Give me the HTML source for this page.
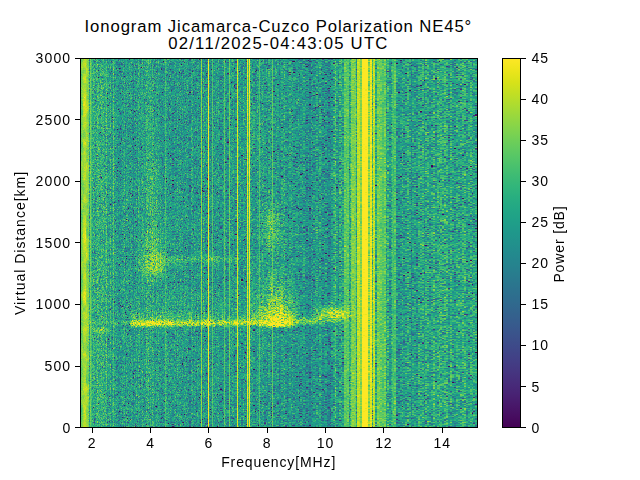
<!DOCTYPE html>
<html><head><meta charset="utf-8"><style>
html,body{margin:0;padding:0;background:#fff;width:640px;height:480px;overflow:hidden;}
body{position:relative;font-family:"Liberation Sans", sans-serif;color:#000;}
.abs{position:absolute;}
#plot{position:absolute;left:80px;top:58px;width:397px;height:369px;}
#plot svg,#plot canvas{position:absolute;left:0;top:0;image-rendering:pixelated;}
.spine{position:absolute;border:1.11px solid #000;box-sizing:border-box;}
.tk{position:absolute;background:#000;}
.yt{left:75.2px;width:4.86px;height:1.1px;}
.xt{top:427.5px;width:1.1px;height:5px;}
.ct{left:521px;width:4.7px;height:1.1px;}
.yl{position:absolute;right:568.7px;font-size:14px;line-height:17px;white-space:nowrap;letter-spacing:1.15px;}
.xl{position:absolute;top:435.1px;width:40px;text-align:center;font-size:14px;line-height:17px;letter-spacing:0.9px;}
.cl{position:absolute;left:531.5px;font-size:14px;line-height:17px;white-space:nowrap;letter-spacing:0.9px;}
.title{position:absolute;left:0;width:556.8px;text-align:center;font-size:16.7px;line-height:19px;white-space:nowrap;letter-spacing:0.9px;}
</style></head><body>
<div class="title" style="top:17.2px">Ionogram Jicamarca-Cuzco Polarization NE45°</div>
<div class="title" style="top:34.2px;letter-spacing:1.25px">02/11/2025-04:43:05 UTC</div>
<div id="plot"><svg width="397" height="369" shape-rendering="crispEdges"><rect x="0" y="0" width="1" height="369" fill="#32a57e"/><rect x="1" y="0" width="1" height="369" fill="#6dcd59"/><rect x="2" y="0" width="1" height="369" fill="#87d449"/><rect x="3" y="0" width="1" height="369" fill="#a3da37"/><rect x="4" y="0" width="1" height="369" fill="#b5dd2d"/><rect x="5" y="0" width="1" height="369" fill="#b6dd2d"/><rect x="6" y="0" width="1" height="369" fill="#9ad83d"/><rect x="7" y="0" width="1" height="369" fill="#87d449"/><rect x="8" y="0" width="1" height="369" fill="#7dd14e"/><rect x="9" y="0" width="1" height="369" fill="#32a47e"/><rect x="10" y="0" width="1" height="369" fill="#6fce58"/><rect x="11" y="0" width="1" height="369" fill="#41bc72"/><rect x="12" y="0" width="1" height="369" fill="#33a67e"/><rect x="13" y="0" width="1" height="369" fill="#3cae77"/><rect x="14" y="0" width="1" height="369" fill="#36a77c"/><rect x="15" y="0" width="1" height="369" fill="#2fa280"/><rect x="16" y="0" width="1" height="369" fill="#35a87c"/><rect x="17" y="0" width="1" height="369" fill="#46b670"/><rect x="18" y="0" width="1" height="369" fill="#3bae78"/><rect x="19" y="0" width="1" height="369" fill="#38aa7a"/><rect x="20" y="0" width="1" height="369" fill="#35a77c"/><rect x="21" y="0" width="1" height="369" fill="#3fb175"/><rect x="22" y="0" width="1" height="369" fill="#3aad79"/><rect x="23" y="0" width="1" height="369" fill="#3eb176"/><rect x="24" y="0" width="1" height="369" fill="#30a57f"/><rect x="25" y="0" width="1" height="369" fill="#34a97c"/><rect x="26" y="0" width="1" height="369" fill="#4cbb6d"/><rect x="27" y="0" width="1" height="369" fill="#2b9a84"/><rect x="28" y="0" width="1" height="369" fill="#2fa380"/><rect x="29" y="0" width="1" height="369" fill="#2a9b84"/><rect x="30" y="0" width="1" height="369" fill="#3eb076"/><rect x="31" y="0" width="1" height="369" fill="#299587"/><rect x="32" y="0" width="1" height="369" fill="#2d9d82"/><rect x="33" y="0" width="1" height="369" fill="#4dbf6b"/><rect x="34" y="0" width="1" height="369" fill="#2c9a83"/><rect x="35" y="0" width="1" height="369" fill="#2c9f82"/><rect x="36" y="0" width="1" height="369" fill="#2a9a85"/><rect x="37" y="0" width="1" height="369" fill="#2b9984"/><rect x="38" y="0" width="1" height="369" fill="#279088"/><rect x="39" y="0" width="1" height="369" fill="#289087"/><rect x="40" y="0" width="1" height="369" fill="#299386"/><rect x="41" y="0" width="1" height="369" fill="#2a9885"/><rect x="42" y="0" width="1" height="369" fill="#2c9c83"/><rect x="43" y="0" width="1" height="369" fill="#2d9e82"/><rect x="44" y="0" width="1" height="369" fill="#34a77d"/><rect x="45" y="0" width="1" height="369" fill="#289287"/><rect x="46" y="0" width="1" height="369" fill="#2fa180"/><rect x="47" y="0" width="1" height="369" fill="#2c9c83"/><rect x="48" y="0" width="1" height="369" fill="#2a9a84"/><rect x="49" y="0" width="1" height="369" fill="#2a9684"/><rect x="50" y="0" width="1" height="369" fill="#2e9d81"/><rect x="51" y="0" width="1" height="369" fill="#30a080"/><rect x="52" y="0" width="1" height="369" fill="#2d9983"/><rect x="53" y="0" width="1" height="369" fill="#2b8b87"/><rect x="54" y="0" width="1" height="369" fill="#309e81"/><rect x="55" y="0" width="1" height="369" fill="#2c9584"/><rect x="56" y="0" width="1" height="369" fill="#33a37e"/><rect x="57" y="0" width="1" height="369" fill="#2b9485"/><rect x="58" y="0" width="1" height="369" fill="#37ab7b"/><rect x="59" y="0" width="1" height="369" fill="#34a67d"/><rect x="60" y="0" width="1" height="369" fill="#2c9984"/><rect x="61" y="0" width="1" height="369" fill="#30a07f"/><rect x="62" y="0" width="1" height="369" fill="#38ac7a"/><rect x="63" y="0" width="1" height="369" fill="#31a080"/><rect x="64" y="0" width="1" height="369" fill="#30a180"/><rect x="65" y="0" width="1" height="369" fill="#30a080"/><rect x="66" y="0" width="1" height="369" fill="#43b173"/><rect x="67" y="0" width="1" height="369" fill="#43b173"/><rect x="68" y="0" width="1" height="369" fill="#3ead76"/><rect x="69" y="0" width="1" height="369" fill="#37a87b"/><rect x="70" y="0" width="1" height="369" fill="#45b372"/><rect x="71" y="0" width="1" height="369" fill="#37a47c"/><rect x="72" y="0" width="1" height="369" fill="#4bb56f"/><rect x="73" y="0" width="1" height="369" fill="#3cab78"/><rect x="74" y="0" width="1" height="369" fill="#39a37b"/><rect x="75" y="0" width="1" height="369" fill="#34a07e"/><rect x="76" y="0" width="1" height="369" fill="#41ae75"/><rect x="77" y="0" width="1" height="369" fill="#35a37c"/><rect x="78" y="0" width="1" height="369" fill="#38a97b"/><rect x="79" y="0" width="1" height="369" fill="#309f81"/><rect x="80" y="0" width="1" height="369" fill="#36a37d"/><rect x="81" y="0" width="1" height="369" fill="#309a81"/><rect x="82" y="0" width="1" height="369" fill="#2f9a82"/><rect x="83" y="0" width="1" height="369" fill="#2e9a82"/><rect x="84" y="0" width="1" height="369" fill="#319d80"/><rect x="85" y="0" width="1" height="369" fill="#44bd70"/><rect x="86" y="0" width="1" height="369" fill="#32a47e"/><rect x="87" y="0" width="1" height="369" fill="#2e9c82"/><rect x="88" y="0" width="1" height="369" fill="#2e9b82"/><rect x="89" y="0" width="1" height="369" fill="#2f9a82"/><rect x="90" y="0" width="1" height="369" fill="#2e9c82"/><rect x="91" y="0" width="1" height="369" fill="#2d9a83"/><rect x="92" y="0" width="1" height="369" fill="#2c9684"/><rect x="93" y="0" width="1" height="369" fill="#2b9585"/><rect x="94" y="0" width="1" height="369" fill="#2e9e82"/><rect x="95" y="0" width="1" height="369" fill="#2d9e82"/><rect x="96" y="0" width="1" height="369" fill="#2a9586"/><rect x="97" y="0" width="1" height="369" fill="#34a57d"/><rect x="98" y="0" width="1" height="369" fill="#2b9985"/><rect x="99" y="0" width="1" height="369" fill="#2f9e81"/><rect x="100" y="0" width="1" height="369" fill="#2e9f81"/><rect x="101" y="0" width="1" height="369" fill="#2c9883"/><rect x="102" y="0" width="1" height="369" fill="#2e9d81"/><rect x="103" y="0" width="1" height="369" fill="#299386"/><rect x="104" y="0" width="1" height="369" fill="#2d9d82"/><rect x="105" y="0" width="1" height="369" fill="#2e9e81"/><rect x="106" y="0" width="1" height="369" fill="#2c9a84"/><rect x="107" y="0" width="1" height="369" fill="#2ea081"/><rect x="108" y="0" width="1" height="369" fill="#2c9585"/><rect x="109" y="0" width="1" height="369" fill="#2b8c87"/><rect x="110" y="0" width="1" height="369" fill="#2a8b87"/><rect x="111" y="0" width="1" height="369" fill="#33a67e"/><rect x="112" y="0" width="1" height="369" fill="#33a37e"/><rect x="113" y="0" width="1" height="369" fill="#2a9386"/><rect x="114" y="0" width="1" height="369" fill="#2c9d83"/><rect x="115" y="0" width="1" height="369" fill="#2d9b83"/><rect x="116" y="0" width="1" height="369" fill="#298e87"/><rect x="117" y="0" width="1" height="369" fill="#2ea081"/><rect x="118" y="0" width="1" height="369" fill="#2d9983"/><rect x="119" y="0" width="1" height="369" fill="#2a9685"/><rect x="120" y="0" width="1" height="369" fill="#289885"/><rect x="121" y="0" width="1" height="369" fill="#8cd546"/><rect x="122" y="0" width="1" height="369" fill="#2a8c87"/><rect x="123" y="0" width="1" height="369" fill="#36a87b"/><rect x="124" y="0" width="1" height="369" fill="#2f9e81"/><rect x="125" y="0" width="1" height="369" fill="#2a9187"/><rect x="126" y="0" width="1" height="369" fill="#2f9981"/><rect x="127" y="0" width="1" height="369" fill="#2c9484"/><rect x="128" y="0" width="1" height="369" fill="#f5e621"/><rect x="129" y="0" width="1" height="369" fill="#2d9784"/><rect x="130" y="0" width="1" height="369" fill="#2d9684"/><rect x="131" y="0" width="1" height="369" fill="#2a9286"/><rect x="132" y="0" width="1" height="369" fill="#52c468"/><rect x="133" y="0" width="1" height="369" fill="#2e9783"/><rect x="134" y="0" width="1" height="369" fill="#2d9f82"/><rect x="135" y="0" width="1" height="369" fill="#299686"/><rect x="136" y="0" width="1" height="369" fill="#2c9f83"/><rect x="137" y="0" width="1" height="369" fill="#2b9983"/><rect x="138" y="0" width="1" height="369" fill="#31a47f"/><rect x="139" y="0" width="1" height="369" fill="#2b9386"/><rect x="140" y="0" width="1" height="369" fill="#299386"/><rect x="141" y="0" width="1" height="369" fill="#2a9386"/><rect x="142" y="0" width="1" height="369" fill="#2d9684"/><rect x="143" y="0" width="1" height="369" fill="#2c9d83"/><rect x="144" y="0" width="1" height="369" fill="#55c566"/><rect x="145" y="0" width="1" height="369" fill="#2d9d82"/><rect x="146" y="0" width="1" height="369" fill="#2a9286"/><rect x="147" y="0" width="1" height="369" fill="#299287"/><rect x="148" y="0" width="1" height="369" fill="#299286"/><rect x="149" y="0" width="1" height="369" fill="#6acc5b"/><rect x="150" y="0" width="1" height="369" fill="#2c9b82"/><rect x="151" y="0" width="1" height="369" fill="#2e9f81"/><rect x="152" y="0" width="1" height="369" fill="#309e80"/><rect x="153" y="0" width="1" height="369" fill="#2fa281"/><rect x="154" y="0" width="1" height="369" fill="#2a9186"/><rect x="155" y="0" width="1" height="369" fill="#2e9982"/><rect x="156" y="0" width="1" height="369" fill="#2e9983"/><rect x="157" y="0" width="1" height="369" fill="#dfe31d"/><rect x="158" y="0" width="1" height="369" fill="#31a57f"/><rect x="159" y="0" width="1" height="369" fill="#2a9c84"/><rect x="160" y="0" width="1" height="369" fill="#31a37f"/><rect x="161" y="0" width="1" height="369" fill="#2a9187"/><rect x="162" y="0" width="1" height="369" fill="#2a9187"/><rect x="163" y="0" width="1" height="369" fill="#32a57e"/><rect x="164" y="0" width="1" height="369" fill="#2c9c83"/><rect x="165" y="0" width="1" height="369" fill="#2d9b83"/><rect x="166" y="0" width="1" height="369" fill="#299087"/><rect x="167" y="0" width="1" height="369" fill="#e1e31d"/><rect x="168" y="0" width="1" height="369" fill="#40bb73"/><rect x="169" y="0" width="1" height="369" fill="#f6e621"/><rect x="170" y="0" width="1" height="369" fill="#35a67c"/><rect x="171" y="0" width="1" height="369" fill="#31a080"/><rect x="172" y="0" width="1" height="369" fill="#30a080"/><rect x="173" y="0" width="1" height="369" fill="#2e9b82"/><rect x="174" y="0" width="1" height="369" fill="#2f9c81"/><rect x="175" y="0" width="1" height="369" fill="#2a9386"/><rect x="176" y="0" width="1" height="369" fill="#2c9783"/><rect x="177" y="0" width="1" height="369" fill="#32a57e"/><rect x="178" y="0" width="1" height="369" fill="#2fa280"/><rect x="179" y="0" width="1" height="369" fill="#52c368"/><rect x="180" y="0" width="1" height="369" fill="#339f7f"/><rect x="181" y="0" width="1" height="369" fill="#319e80"/><rect x="182" y="0" width="1" height="369" fill="#39a97a"/><rect x="183" y="0" width="1" height="369" fill="#35a57d"/><rect x="184" y="0" width="1" height="369" fill="#2f9b82"/><rect x="185" y="0" width="1" height="369" fill="#319c81"/><rect x="186" y="0" width="1" height="369" fill="#36a27d"/><rect x="187" y="0" width="1" height="369" fill="#349b7f"/><rect x="188" y="0" width="1" height="369" fill="#3da978"/><rect x="189" y="0" width="1" height="369" fill="#43ab75"/><rect x="190" y="0" width="1" height="369" fill="#3ba67a"/><rect x="191" y="0" width="1" height="369" fill="#3fa278"/><rect x="192" y="0" width="1" height="369" fill="#69cb5c"/><rect x="193" y="0" width="1" height="369" fill="#38a07d"/><rect x="194" y="0" width="1" height="369" fill="#38a07c"/><rect x="195" y="0" width="1" height="369" fill="#39a37b"/><rect x="196" y="0" width="1" height="369" fill="#3aa47b"/><rect x="197" y="0" width="1" height="369" fill="#3ca57a"/><rect x="198" y="0" width="1" height="369" fill="#39a47b"/><rect x="199" y="0" width="1" height="369" fill="#349681"/><rect x="200" y="0" width="1" height="369" fill="#379d7e"/><rect x="201" y="0" width="1" height="369" fill="#3ba67a"/><rect x="202" y="0" width="1" height="369" fill="#3aa67a"/><rect x="203" y="0" width="1" height="369" fill="#35a27e"/><rect x="204" y="0" width="1" height="369" fill="#3aa87a"/><rect x="205" y="0" width="1" height="369" fill="#329c80"/><rect x="206" y="0" width="1" height="369" fill="#309982"/><rect x="207" y="0" width="1" height="369" fill="#2f9682"/><rect x="208" y="0" width="1" height="369" fill="#309882"/><rect x="209" y="0" width="1" height="369" fill="#35a57d"/><rect x="210" y="0" width="1" height="369" fill="#33a47e"/><rect x="211" y="0" width="1" height="369" fill="#2f9f80"/><rect x="212" y="0" width="1" height="369" fill="#32a07f"/><rect x="213" y="0" width="1" height="369" fill="#2c9684"/><rect x="214" y="0" width="1" height="369" fill="#2b9584"/><rect x="215" y="0" width="1" height="369" fill="#2b9685"/><rect x="216" y="0" width="1" height="369" fill="#2a9885"/><rect x="217" y="0" width="1" height="369" fill="#2a9785"/><rect x="218" y="0" width="1" height="369" fill="#2c9b83"/><rect x="219" y="0" width="1" height="369" fill="#298e87"/><rect x="220" y="0" width="1" height="369" fill="#299486"/><rect x="221" y="0" width="1" height="369" fill="#299486"/><rect x="222" y="0" width="1" height="369" fill="#299786"/><rect x="223" y="0" width="1" height="369" fill="#2a9c84"/><rect x="224" y="0" width="1" height="369" fill="#2a9c84"/><rect x="225" y="0" width="1" height="369" fill="#288f88"/><rect x="226" y="0" width="1" height="369" fill="#288b88"/><rect x="227" y="0" width="1" height="369" fill="#288b88"/><rect x="228" y="0" width="1" height="369" fill="#289287"/><rect x="229" y="0" width="1" height="369" fill="#29838a"/><rect x="230" y="0" width="1" height="369" fill="#29838a"/><rect x="231" y="0" width="1" height="369" fill="#2a9885"/><rect x="232" y="0" width="1" height="369" fill="#2a9286"/><rect x="233" y="0" width="1" height="369" fill="#2a9486"/><rect x="234" y="0" width="1" height="369" fill="#2a9486"/><rect x="235" y="0" width="1" height="369" fill="#2a9985"/><rect x="236" y="0" width="1" height="369" fill="#2e9f81"/><rect x="237" y="0" width="1" height="369" fill="#2e9f81"/><rect x="238" y="0" width="1" height="369" fill="#299187"/><rect x="239" y="0" width="1" height="369" fill="#30a380"/><rect x="240" y="0" width="1" height="369" fill="#30a380"/><rect x="241" y="0" width="1" height="369" fill="#2d9883"/><rect x="242" y="0" width="1" height="369" fill="#2b8d86"/><rect x="243" y="0" width="1" height="369" fill="#2b8d86"/><rect x="244" y="0" width="1" height="369" fill="#2c9684"/><rect x="245" y="0" width="1" height="369" fill="#2a9585"/><rect x="246" y="0" width="1" height="369" fill="#2a9585"/><rect x="247" y="0" width="1" height="369" fill="#2b8d86"/><rect x="248" y="0" width="1" height="369" fill="#2c8688"/><rect x="249" y="0" width="1" height="369" fill="#2c8688"/><rect x="250" y="0" width="1" height="369" fill="#2c8a87"/><rect x="251" y="0" width="1" height="369" fill="#2d9b82"/><rect x="252" y="0" width="1" height="369" fill="#2e9b82"/><rect x="253" y="0" width="1" height="369" fill="#31a080"/><rect x="254" y="0" width="1" height="369" fill="#36a67c"/><rect x="255" y="0" width="1" height="369" fill="#49b76f"/><rect x="256" y="0" width="1" height="369" fill="#2e9e81"/><rect x="257" y="0" width="1" height="369" fill="#2e9f81"/><rect x="258" y="0" width="1" height="369" fill="#2b9385"/><rect x="259" y="0" width="1" height="369" fill="#3aa879"/><rect x="260" y="0" width="1" height="369" fill="#3aa879"/><rect x="261" y="0" width="1" height="369" fill="#38a97a"/><rect x="262" y="0" width="1" height="369" fill="#30a180"/><rect x="263" y="0" width="1" height="369" fill="#30a180"/><rect x="264" y="0" width="1" height="369" fill="#62c95f"/><rect x="265" y="0" width="1" height="369" fill="#62c95f"/><rect x="266" y="0" width="1" height="369" fill="#56c566"/><rect x="267" y="0" width="1" height="369" fill="#60c860"/><rect x="268" y="0" width="1" height="369" fill="#5fc861"/><rect x="269" y="0" width="1" height="369" fill="#30a47f"/><rect x="270" y="0" width="1" height="369" fill="#3aae79"/><rect x="271" y="0" width="1" height="369" fill="#79d051"/><rect x="272" y="0" width="1" height="369" fill="#80d24d"/><rect x="273" y="0" width="1" height="369" fill="#80d24d"/><rect x="274" y="0" width="1" height="369" fill="#79d051"/><rect x="275" y="0" width="1" height="369" fill="#73cf55"/><rect x="276" y="0" width="1" height="369" fill="#30a67f"/><rect x="277" y="0" width="1" height="369" fill="#bfdf27"/><rect x="278" y="0" width="1" height="369" fill="#bfdf27"/><rect x="279" y="0" width="1" height="369" fill="#c0df26"/><rect x="280" y="0" width="1" height="369" fill="#82d34c"/><rect x="281" y="0" width="1" height="369" fill="#82d34c"/><rect x="282" y="0" width="1" height="369" fill="#fce724"/><rect x="283" y="0" width="1" height="369" fill="#fce724"/><rect x="284" y="0" width="1" height="369" fill="#fce724"/><rect x="285" y="0" width="1" height="369" fill="#fce724"/><rect x="286" y="0" width="1" height="369" fill="#fce724"/><rect x="287" y="0" width="1" height="369" fill="#fce724"/><rect x="288" y="0" width="1" height="369" fill="#8cd446"/><rect x="289" y="0" width="1" height="369" fill="#8cd446"/><rect x="290" y="0" width="1" height="369" fill="#e7e41d"/><rect x="291" y="0" width="1" height="369" fill="#e7e41d"/><rect x="292" y="0" width="1" height="369" fill="#49b56f"/><rect x="293" y="0" width="1" height="369" fill="#c4df26"/><rect x="294" y="0" width="1" height="369" fill="#bfdf29"/><rect x="295" y="0" width="1" height="369" fill="#31a57e"/><rect x="296" y="0" width="1" height="369" fill="#31a57e"/><rect x="297" y="0" width="1" height="369" fill="#74cf54"/><rect x="298" y="0" width="1" height="369" fill="#74cf54"/><rect x="299" y="0" width="1" height="369" fill="#72ce55"/><rect x="300" y="0" width="1" height="369" fill="#67cb5c"/><rect x="301" y="0" width="1" height="369" fill="#67cb5c"/><rect x="302" y="0" width="1" height="369" fill="#54c467"/><rect x="303" y="0" width="1" height="369" fill="#54c467"/><rect x="304" y="0" width="1" height="369" fill="#69cb5b"/><rect x="305" y="0" width="1" height="369" fill="#68cb5b"/><rect x="306" y="0" width="1" height="369" fill="#2ea281"/><rect x="307" y="0" width="1" height="369" fill="#3caf77"/><rect x="308" y="0" width="1" height="369" fill="#3bae78"/><rect x="309" y="0" width="1" height="369" fill="#299686"/><rect x="310" y="0" width="1" height="369" fill="#289586"/><rect x="311" y="0" width="1" height="369" fill="#31a47f"/><rect x="312" y="0" width="1" height="369" fill="#44be70"/><rect x="313" y="0" width="1" height="369" fill="#40bc72"/><rect x="314" y="0" width="1" height="369" fill="#53c368"/><rect x="315" y="0" width="1" height="369" fill="#52c368"/><rect x="316" y="0" width="1" height="369" fill="#299486"/><rect x="317" y="0" width="1" height="369" fill="#299386"/><rect x="318" y="0" width="1" height="369" fill="#279188"/><rect x="319" y="0" width="1" height="369" fill="#279188"/><rect x="320" y="0" width="1" height="369" fill="#289885"/><rect x="321" y="0" width="1" height="369" fill="#289885"/><rect x="322" y="0" width="1" height="369" fill="#30a280"/><rect x="323" y="0" width="1" height="369" fill="#299885"/><rect x="324" y="0" width="1" height="369" fill="#299785"/><rect x="325" y="0" width="1" height="369" fill="#2c9d83"/><rect x="326" y="0" width="1" height="369" fill="#2c9c83"/><rect x="327" y="0" width="1" height="369" fill="#35a87c"/><rect x="328" y="0" width="1" height="369" fill="#35a77c"/><rect x="329" y="0" width="1" height="369" fill="#2ea081"/><rect x="330" y="0" width="1" height="369" fill="#2e9f81"/><rect x="331" y="0" width="1" height="369" fill="#278a89"/><rect x="332" y="0" width="1" height="369" fill="#2ca082"/><rect x="333" y="0" width="1" height="369" fill="#2ca083"/><rect x="334" y="0" width="1" height="369" fill="#2a9b84"/><rect x="335" y="0" width="1" height="369" fill="#2a9b84"/><rect x="336" y="0" width="1" height="369" fill="#299186"/><rect x="337" y="0" width="1" height="369" fill="#299186"/><rect x="338" y="0" width="1" height="369" fill="#33a87d"/><rect x="339" y="0" width="1" height="369" fill="#33a87d"/><rect x="340" y="0" width="1" height="369" fill="#31a27f"/><rect x="341" y="0" width="1" height="369" fill="#31a37e"/><rect x="342" y="0" width="1" height="369" fill="#34a97c"/><rect x="343" y="0" width="1" height="369" fill="#34a97c"/><rect x="344" y="0" width="1" height="369" fill="#289686"/><rect x="345" y="0" width="1" height="369" fill="#35a77c"/><rect x="346" y="0" width="1" height="369" fill="#36a87c"/><rect x="347" y="0" width="1" height="369" fill="#33a57e"/><rect x="348" y="0" width="1" height="369" fill="#33a67e"/><rect x="349" y="0" width="1" height="369" fill="#299985"/><rect x="350" y="0" width="1" height="369" fill="#299a85"/><rect x="351" y="0" width="1" height="369" fill="#2ea081"/><rect x="352" y="0" width="1" height="369" fill="#2ea081"/><rect x="353" y="0" width="1" height="369" fill="#3dae77"/><rect x="354" y="0" width="1" height="369" fill="#3eaf76"/><rect x="355" y="0" width="1" height="369" fill="#2a9b84"/><rect x="356" y="0" width="1" height="369" fill="#2a9c84"/><rect x="357" y="0" width="1" height="369" fill="#35aa7c"/><rect x="358" y="0" width="1" height="369" fill="#35aa7c"/><rect x="359" y="0" width="1" height="369" fill="#38ab7a"/><rect x="360" y="0" width="1" height="369" fill="#37ad7a"/><rect x="361" y="0" width="1" height="369" fill="#38ad7a"/><rect x="362" y="0" width="1" height="369" fill="#32a57e"/><rect x="363" y="0" width="1" height="369" fill="#32a67e"/><rect x="364" y="0" width="1" height="369" fill="#3bae78"/><rect x="365" y="0" width="1" height="369" fill="#3bad78"/><rect x="366" y="0" width="1" height="369" fill="#39ab7a"/><rect x="367" y="0" width="1" height="369" fill="#38ab7a"/><rect x="368" y="0" width="1" height="369" fill="#299686"/><rect x="369" y="0" width="1" height="369" fill="#299686"/><rect x="370" y="0" width="1" height="369" fill="#3aad79"/><rect x="371" y="0" width="1" height="369" fill="#39ad79"/><rect x="372" y="0" width="1" height="369" fill="#2c9b83"/><rect x="373" y="0" width="1" height="369" fill="#2b9b84"/><rect x="374" y="0" width="1" height="369" fill="#299785"/><rect x="375" y="0" width="1" height="369" fill="#299786"/><rect x="376" y="0" width="1" height="369" fill="#32a67e"/><rect x="377" y="0" width="1" height="369" fill="#32a67e"/><rect x="378" y="0" width="1" height="369" fill="#31a37f"/><rect x="379" y="0" width="1" height="369" fill="#30a37f"/><rect x="380" y="0" width="1" height="369" fill="#2fa081"/><rect x="381" y="0" width="1" height="369" fill="#2fa081"/><rect x="382" y="0" width="1" height="369" fill="#39ad79"/><rect x="383" y="0" width="1" height="369" fill="#39ad79"/><rect x="384" y="0" width="1" height="369" fill="#38ab7a"/><rect x="385" y="0" width="1" height="369" fill="#38aa7a"/><rect x="386" y="0" width="1" height="369" fill="#2b9c84"/><rect x="387" y="0" width="1" height="369" fill="#2b9c84"/><rect x="388" y="0" width="1" height="369" fill="#2ea081"/><rect x="389" y="0" width="1" height="369" fill="#2ea081"/><rect x="390" y="0" width="1" height="369" fill="#37a97b"/><rect x="391" y="0" width="1" height="369" fill="#37a97b"/><rect x="392" y="0" width="1" height="369" fill="#30a080"/><rect x="393" y="0" width="1" height="369" fill="#2fa380"/><rect x="394" y="0" width="1" height="369" fill="#2fa380"/><rect x="395" y="0" width="1" height="369" fill="#2d9f81"/><rect x="396" y="0" width="1" height="369" fill="#2d9f81"/><rect x="72" y="0" width="4" height="4" fill="#2c9785"/><rect x="184" y="0" width="4" height="4" fill="#26858c"/><rect x="228" y="0" width="4" height="4" fill="#316d83"/><rect x="352" y="0" width="4" height="4" fill="#288f88"/><rect x="360" y="0" width="4" height="4" fill="#4cba6e"/><rect x="72" y="4" width="4" height="4" fill="#2b9685"/><rect x="188" y="4" width="4" height="4" fill="#2e9583"/><rect x="192" y="4" width="4" height="4" fill="#2f9d82"/><rect x="380" y="4" width="4" height="4" fill="#48b770"/><rect x="80" y="8" width="4" height="4" fill="#2b8386"/><rect x="300" y="8" width="4" height="4" fill="#73cf55"/><rect x="376" y="8" width="4" height="4" fill="#459475"/><rect x="396" y="8" width="4" height="4" fill="#288288"/><rect x="68" y="12" width="4" height="4" fill="#289f84"/><rect x="100" y="12" width="4" height="4" fill="#327a87"/><rect x="200" y="16" width="4" height="4" fill="#239988"/><rect x="312" y="16" width="4" height="4" fill="#5fc861"/><rect x="340" y="16" width="4" height="4" fill="#43bc72"/><rect x="396" y="16" width="4" height="4" fill="#3bb976"/><rect x="196" y="20" width="4" height="4" fill="#259488"/><rect x="196" y="24" width="4" height="4" fill="#2a8c7f"/><rect x="288" y="24" width="4" height="4" fill="#9ed541"/><rect x="340" y="24" width="4" height="4" fill="#2f897e"/><rect x="376" y="24" width="4" height="4" fill="#2c8c84"/><rect x="380" y="28" width="4" height="4" fill="#348781"/><rect x="184" y="32" width="4" height="4" fill="#2c8689"/><rect x="76" y="36" width="4" height="4" fill="#278e87"/><rect x="64" y="40" width="4" height="4" fill="#2c9085"/><rect x="4" y="44" width="4" height="4" fill="#c7e025"/><rect x="68" y="44" width="4" height="4" fill="#2c9783"/><rect x="72" y="44" width="4" height="4" fill="#2c9a84"/><rect x="180" y="44" width="4" height="4" fill="#2d8984"/><rect x="188" y="44" width="4" height="4" fill="#269886"/><rect x="240" y="44" width="4" height="4" fill="#2b7a89"/><rect x="364" y="44" width="4" height="4" fill="#289f85"/><rect x="4" y="48" width="4" height="4" fill="#c6e023"/><rect x="76" y="48" width="4" height="4" fill="#2c9184"/><rect x="4" y="52" width="4" height="4" fill="#c1df25"/><rect x="64" y="52" width="4" height="4" fill="#2d9285"/><rect x="188" y="52" width="4" height="4" fill="#2c9884"/><rect x="340" y="52" width="4" height="4" fill="#31887b"/><rect x="396" y="52" width="4" height="4" fill="#248a8c"/><rect x="76" y="56" width="4" height="4" fill="#289383"/><rect x="232" y="56" width="4" height="4" fill="#2c7a85"/><rect x="296" y="56" width="4" height="4" fill="#4ebc6c"/><rect x="392" y="56" width="4" height="4" fill="#36807d"/><rect x="396" y="56" width="4" height="4" fill="#47656b"/><rect x="388" y="60" width="4" height="4" fill="#42b972"/><rect x="188" y="64" width="4" height="4" fill="#2d9086"/><rect x="196" y="64" width="4" height="4" fill="#22948a"/><rect x="188" y="68" width="4" height="4" fill="#2f8f81"/><rect x="200" y="68" width="4" height="4" fill="#2e897e"/><rect x="364" y="68" width="4" height="4" fill="#50c06a"/><rect x="192" y="72" width="4" height="4" fill="#319b82"/><rect x="76" y="76" width="4" height="4" fill="#289687"/><rect x="368" y="76" width="4" height="4" fill="#3c897a"/><rect x="396" y="76" width="4" height="4" fill="#27828c"/><rect x="188" y="84" width="4" height="4" fill="#2d8e85"/><rect x="196" y="84" width="4" height="4" fill="#259788"/><rect x="376" y="84" width="4" height="4" fill="#248e8a"/><rect x="380" y="84" width="4" height="4" fill="#46b971"/><rect x="0" y="88" width="4" height="4" fill="#61ba62"/><rect x="60" y="88" width="4" height="4" fill="#318780"/><rect x="196" y="88" width="4" height="4" fill="#2d7f89"/><rect x="332" y="88" width="4" height="4" fill="#2f8287"/><rect x="396" y="88" width="4" height="4" fill="#41797e"/><rect x="188" y="92" width="4" height="4" fill="#2a8c86"/><rect x="192" y="92" width="4" height="4" fill="#369478"/><rect x="200" y="92" width="4" height="4" fill="#2e8c85"/><rect x="188" y="96" width="4" height="4" fill="#2a9d82"/><rect x="380" y="96" width="4" height="4" fill="#268486"/><rect x="92" y="100" width="4" height="4" fill="#307e86"/><rect x="192" y="100" width="4" height="4" fill="#33917e"/><rect x="260" y="100" width="4" height="4" fill="#47ba70"/><rect x="264" y="100" width="4" height="4" fill="#46be6f"/><rect x="188" y="104" width="4" height="4" fill="#299287"/><rect x="256" y="104" width="4" height="4" fill="#28878a"/><rect x="364" y="104" width="4" height="4" fill="#2c9a84"/><rect x="200" y="108" width="4" height="4" fill="#2b828a"/><rect x="352" y="108" width="4" height="4" fill="#338a7f"/><rect x="384" y="108" width="4" height="4" fill="#2c8286"/><rect x="152" y="112" width="4" height="4" fill="#34b27a"/><rect x="304" y="112" width="4" height="4" fill="#66bc5e"/><rect x="344" y="112" width="4" height="4" fill="#45b272"/><rect x="188" y="116" width="4" height="4" fill="#26a584"/><rect x="200" y="116" width="4" height="4" fill="#2e7683"/><rect x="300" y="116" width="4" height="4" fill="#73ce54"/><rect x="304" y="116" width="4" height="4" fill="#64c55d"/><rect x="336" y="116" width="4" height="4" fill="#2f8387"/><rect x="84" y="120" width="4" height="4" fill="#3b8e76"/><rect x="184" y="120" width="4" height="4" fill="#288787"/><rect x="188" y="120" width="4" height="4" fill="#28a383"/><rect x="208" y="120" width="4" height="4" fill="#2b8884"/><rect x="188" y="124" width="4" height="4" fill="#269f85"/><rect x="364" y="124" width="4" height="4" fill="#25928a"/><rect x="376" y="124" width="4" height="4" fill="#328984"/><rect x="0" y="128" width="4" height="4" fill="#5abf65"/><rect x="92" y="128" width="4" height="4" fill="#2b7d88"/><rect x="188" y="128" width="4" height="4" fill="#2b9583"/><rect x="192" y="128" width="4" height="4" fill="#2ea580"/><rect x="196" y="128" width="4" height="4" fill="#289089"/><rect x="256" y="128" width="4" height="4" fill="#32817e"/><rect x="120" y="132" width="4" height="4" fill="#468a72"/><rect x="196" y="132" width="4" height="4" fill="#308784"/><rect x="196" y="136" width="4" height="4" fill="#24918a"/><rect x="376" y="140" width="4" height="4" fill="#3fb874"/><rect x="380" y="140" width="4" height="4" fill="#2e8b7f"/><rect x="384" y="144" width="4" height="4" fill="#288189"/><rect x="4" y="148" width="4" height="4" fill="#85d44a"/><rect x="216" y="148" width="4" height="4" fill="#2c7683"/><rect x="220" y="148" width="4" height="4" fill="#297c82"/><rect x="228" y="148" width="4" height="4" fill="#32737f"/><rect x="4" y="152" width="4" height="4" fill="#8ed645"/><rect x="188" y="152" width="4" height="4" fill="#52b76a"/><rect x="304" y="152" width="4" height="4" fill="#39b378"/><rect x="396" y="152" width="4" height="4" fill="#40bc72"/><rect x="64" y="156" width="4" height="4" fill="#239788"/><rect x="188" y="156" width="4" height="4" fill="#58c265"/><rect x="192" y="156" width="4" height="4" fill="#5bc165"/><rect x="196" y="156" width="4" height="4" fill="#4cb26f"/><rect x="208" y="156" width="4" height="4" fill="#297f85"/><rect x="188" y="160" width="4" height="4" fill="#67c85b"/><rect x="192" y="160" width="4" height="4" fill="#59b767"/><rect x="196" y="160" width="4" height="4" fill="#47bb6f"/><rect x="360" y="160" width="4" height="4" fill="#4ec16a"/><rect x="364" y="160" width="4" height="4" fill="#4fb56c"/><rect x="392" y="160" width="4" height="4" fill="#2e8484"/><rect x="184" y="164" width="4" height="4" fill="#47ba6f"/><rect x="188" y="164" width="4" height="4" fill="#58be65"/><rect x="244" y="164" width="4" height="4" fill="#2a7a84"/><rect x="360" y="164" width="4" height="4" fill="#318f84"/><rect x="388" y="164" width="4" height="4" fill="#268383"/><rect x="188" y="168" width="4" height="4" fill="#5fc460"/><rect x="192" y="168" width="4" height="4" fill="#54bc68"/><rect x="224" y="168" width="4" height="4" fill="#327088"/><rect x="396" y="168" width="4" height="4" fill="#2e7f80"/><rect x="64" y="172" width="4" height="4" fill="#53af6a"/><rect x="72" y="172" width="4" height="4" fill="#4abc6c"/><rect x="188" y="172" width="4" height="4" fill="#4bbb6c"/><rect x="192" y="172" width="4" height="4" fill="#59b767"/><rect x="196" y="172" width="4" height="4" fill="#4ebd6c"/><rect x="236" y="172" width="4" height="4" fill="#3dac77"/><rect x="364" y="172" width="4" height="4" fill="#249b87"/><rect x="72" y="176" width="4" height="4" fill="#4ebd6b"/><rect x="184" y="176" width="4" height="4" fill="#45bd70"/><rect x="188" y="176" width="4" height="4" fill="#60c161"/><rect x="192" y="176" width="4" height="4" fill="#60c960"/><rect x="320" y="176" width="4" height="4" fill="#327484"/><rect x="348" y="176" width="4" height="4" fill="#3bb277"/><rect x="4" y="180" width="4" height="4" fill="#c3df29"/><rect x="64" y="180" width="4" height="4" fill="#50b86b"/><rect x="72" y="180" width="4" height="4" fill="#53b46b"/><rect x="76" y="180" width="4" height="4" fill="#57ba67"/><rect x="188" y="180" width="4" height="4" fill="#5bc064"/><rect x="196" y="180" width="4" height="4" fill="#46b472"/><rect x="64" y="184" width="4" height="4" fill="#4fc069"/><rect x="72" y="184" width="4" height="4" fill="#57c366"/><rect x="340" y="184" width="4" height="4" fill="#54c067"/><rect x="64" y="188" width="4" height="4" fill="#51b96a"/><rect x="68" y="188" width="4" height="4" fill="#56bb67"/><rect x="72" y="188" width="4" height="4" fill="#5fc061"/><rect x="180" y="188" width="4" height="4" fill="#278f89"/><rect x="4" y="192" width="4" height="4" fill="#b9de2b"/><rect x="12" y="192" width="4" height="4" fill="#308985"/><rect x="72" y="192" width="4" height="4" fill="#6dca58"/><rect x="76" y="192" width="4" height="4" fill="#51b96a"/><rect x="80" y="192" width="4" height="4" fill="#4db66e"/><rect x="64" y="196" width="4" height="4" fill="#63c55e"/><rect x="68" y="196" width="4" height="4" fill="#70c857"/><rect x="72" y="196" width="4" height="4" fill="#78c654"/><rect x="76" y="196" width="4" height="4" fill="#77cd52"/><rect x="80" y="196" width="4" height="4" fill="#5fc061"/><rect x="64" y="200" width="4" height="4" fill="#5ebe63"/><rect x="68" y="200" width="4" height="4" fill="#67b85e"/><rect x="72" y="200" width="4" height="4" fill="#84cb4b"/><rect x="76" y="200" width="4" height="4" fill="#7dce4e"/><rect x="80" y="200" width="4" height="4" fill="#71ca56"/><rect x="84" y="200" width="4" height="4" fill="#55bb68"/><rect x="88" y="200" width="4" height="4" fill="#48b86f"/><rect x="92" y="200" width="4" height="4" fill="#37b179"/><rect x="96" y="200" width="4" height="4" fill="#4eb66b"/><rect x="100" y="200" width="4" height="4" fill="#3cac78"/><rect x="108" y="200" width="4" height="4" fill="#35af7b"/><rect x="112" y="200" width="4" height="4" fill="#47bb6f"/><rect x="124" y="200" width="4" height="4" fill="#42af75"/><rect x="128" y="200" width="4" height="4" fill="#7dc855"/><rect x="132" y="200" width="4" height="4" fill="#54b869"/><rect x="136" y="200" width="4" height="4" fill="#42b274"/><rect x="144" y="200" width="4" height="4" fill="#44b672"/><rect x="148" y="200" width="4" height="4" fill="#51be69"/><rect x="200" y="200" width="4" height="4" fill="#239a88"/><rect x="240" y="200" width="4" height="4" fill="#316e85"/><rect x="4" y="204" width="4" height="4" fill="#8dd544"/><rect x="60" y="204" width="4" height="4" fill="#43b473"/><rect x="64" y="204" width="4" height="4" fill="#66c65d"/><rect x="68" y="204" width="4" height="4" fill="#74ca54"/><rect x="72" y="204" width="4" height="4" fill="#7bc651"/><rect x="76" y="204" width="4" height="4" fill="#88cf4a"/><rect x="80" y="204" width="4" height="4" fill="#73c756"/><rect x="84" y="204" width="4" height="4" fill="#4ec06a"/><rect x="92" y="204" width="4" height="4" fill="#34b07b"/><rect x="188" y="204" width="4" height="4" fill="#28a184"/><rect x="4" y="208" width="4" height="4" fill="#86d349"/><rect x="60" y="208" width="4" height="4" fill="#4bb56f"/><rect x="64" y="208" width="4" height="4" fill="#61c260"/><rect x="68" y="208" width="4" height="4" fill="#88d148"/><rect x="72" y="208" width="4" height="4" fill="#70c857"/><rect x="76" y="208" width="4" height="4" fill="#86cf4a"/><rect x="80" y="208" width="4" height="4" fill="#6cc958"/><rect x="64" y="212" width="4" height="4" fill="#54c267"/><rect x="68" y="212" width="4" height="4" fill="#58bc66"/><rect x="72" y="212" width="4" height="4" fill="#85cf4b"/><rect x="76" y="212" width="4" height="4" fill="#5bc362"/><rect x="80" y="212" width="4" height="4" fill="#54b669"/><rect x="300" y="212" width="4" height="4" fill="#73cf55"/><rect x="80" y="216" width="4" height="4" fill="#3eb775"/><rect x="332" y="216" width="4" height="4" fill="#2d778a"/><rect x="160" y="220" width="4" height="4" fill="#3a7f73"/><rect x="192" y="220" width="4" height="4" fill="#51c168"/><rect x="384" y="220" width="4" height="4" fill="#48a772"/><rect x="188" y="224" width="4" height="4" fill="#50bd69"/><rect x="72" y="228" width="4" height="4" fill="#2d9585"/><rect x="188" y="228" width="4" height="4" fill="#60c160"/><rect x="192" y="228" width="4" height="4" fill="#59b866"/><rect x="200" y="228" width="4" height="4" fill="#52c168"/><rect x="352" y="228" width="4" height="4" fill="#48b76f"/><rect x="396" y="228" width="4" height="4" fill="#3cb776"/><rect x="196" y="232" width="4" height="4" fill="#52bf69"/><rect x="200" y="232" width="4" height="4" fill="#6ac85b"/><rect x="220" y="232" width="4" height="4" fill="#2c7c8b"/><rect x="0" y="236" width="4" height="4" fill="#8fcb45"/><rect x="176" y="236" width="4" height="4" fill="#51bf69"/><rect x="180" y="236" width="4" height="4" fill="#49ab71"/><rect x="184" y="236" width="4" height="4" fill="#41b873"/><rect x="188" y="236" width="4" height="4" fill="#66c75f"/><rect x="192" y="236" width="4" height="4" fill="#63c260"/><rect x="196" y="236" width="4" height="4" fill="#62bf60"/><rect x="200" y="236" width="4" height="4" fill="#6bc15b"/><rect x="208" y="236" width="4" height="4" fill="#46bc6f"/><rect x="180" y="240" width="4" height="4" fill="#47bb6f"/><rect x="184" y="240" width="4" height="4" fill="#3eb275"/><rect x="188" y="240" width="4" height="4" fill="#7dcd4f"/><rect x="192" y="240" width="4" height="4" fill="#8bd246"/><rect x="196" y="240" width="4" height="4" fill="#84d14a"/><rect x="200" y="240" width="4" height="4" fill="#6ac65a"/><rect x="204" y="240" width="4" height="4" fill="#4aaf70"/><rect x="208" y="240" width="4" height="4" fill="#4cbf6b"/><rect x="140" y="244" width="4" height="4" fill="#34b17b"/><rect x="172" y="244" width="4" height="4" fill="#3cb176"/><rect x="188" y="244" width="4" height="4" fill="#7cc752"/><rect x="192" y="244" width="4" height="4" fill="#74c056"/><rect x="196" y="244" width="4" height="4" fill="#86d349"/><rect x="200" y="244" width="4" height="4" fill="#7fc94f"/><rect x="204" y="244" width="4" height="4" fill="#43b572"/><rect x="208" y="244" width="4" height="4" fill="#58c364"/><rect x="212" y="244" width="4" height="4" fill="#40a676"/><rect x="216" y="244" width="4" height="4" fill="#39ae79"/><rect x="248" y="244" width="4" height="4" fill="#419e78"/><rect x="376" y="244" width="4" height="4" fill="#49bf6d"/><rect x="380" y="244" width="4" height="4" fill="#49ba6f"/><rect x="176" y="248" width="4" height="4" fill="#4fbd6a"/><rect x="180" y="248" width="4" height="4" fill="#6ecb57"/><rect x="184" y="248" width="4" height="4" fill="#74c755"/><rect x="188" y="248" width="4" height="4" fill="#91d343"/><rect x="192" y="248" width="4" height="4" fill="#8acf4a"/><rect x="196" y="248" width="4" height="4" fill="#95d344"/><rect x="200" y="248" width="4" height="4" fill="#c4df2c"/><rect x="204" y="248" width="4" height="4" fill="#76ca53"/><rect x="212" y="248" width="4" height="4" fill="#45b272"/><rect x="240" y="248" width="4" height="4" fill="#3eb675"/><rect x="244" y="248" width="4" height="4" fill="#4dbe6b"/><rect x="248" y="248" width="4" height="4" fill="#5dc262"/><rect x="252" y="248" width="4" height="4" fill="#60c460"/><rect x="256" y="248" width="4" height="4" fill="#4aba6d"/><rect x="260" y="248" width="4" height="4" fill="#53c168"/><rect x="264" y="248" width="4" height="4" fill="#79d051"/><rect x="332" y="248" width="4" height="4" fill="#37b179"/><rect x="340" y="248" width="4" height="4" fill="#47be6e"/><rect x="80" y="252" width="4" height="4" fill="#40b574"/><rect x="88" y="252" width="4" height="4" fill="#41b474"/><rect x="108" y="252" width="4" height="4" fill="#42b872"/><rect x="172" y="252" width="4" height="4" fill="#43aa75"/><rect x="176" y="252" width="4" height="4" fill="#61c45f"/><rect x="180" y="252" width="4" height="4" fill="#73c657"/><rect x="184" y="252" width="4" height="4" fill="#8cd145"/><rect x="188" y="252" width="4" height="4" fill="#96d343"/><rect x="192" y="252" width="4" height="4" fill="#b4dc32"/><rect x="196" y="252" width="4" height="4" fill="#9ed343"/><rect x="200" y="252" width="4" height="4" fill="#c5dc33"/><rect x="204" y="252" width="4" height="4" fill="#77c554"/><rect x="208" y="252" width="4" height="4" fill="#7ccd4f"/><rect x="212" y="252" width="4" height="4" fill="#49b76f"/><rect x="236" y="252" width="4" height="4" fill="#52bd69"/><rect x="240" y="252" width="4" height="4" fill="#66c75c"/><rect x="244" y="252" width="4" height="4" fill="#70ca57"/><rect x="248" y="252" width="4" height="4" fill="#b0da38"/><rect x="252" y="252" width="4" height="4" fill="#a7d641"/><rect x="256" y="252" width="4" height="4" fill="#acd839"/><rect x="260" y="252" width="4" height="4" fill="#a7d93c"/><rect x="264" y="252" width="4" height="4" fill="#a2d93b"/><rect x="268" y="252" width="4" height="4" fill="#77c853"/><rect x="312" y="252" width="4" height="4" fill="#32b47b"/><rect x="396" y="252" width="4" height="4" fill="#42ba71"/><rect x="52" y="256" width="4" height="4" fill="#5cc163"/><rect x="56" y="256" width="4" height="4" fill="#4caa70"/><rect x="60" y="256" width="4" height="4" fill="#41b573"/><rect x="76" y="256" width="4" height="4" fill="#4bbb6d"/><rect x="80" y="256" width="4" height="4" fill="#55b96b"/><rect x="88" y="256" width="4" height="4" fill="#3eb575"/><rect x="92" y="256" width="4" height="4" fill="#3cb975"/><rect x="96" y="256" width="4" height="4" fill="#43b872"/><rect x="100" y="256" width="4" height="4" fill="#3fb176"/><rect x="108" y="256" width="4" height="4" fill="#55c267"/><rect x="116" y="256" width="4" height="4" fill="#3ca475"/><rect x="124" y="256" width="4" height="4" fill="#3cb775"/><rect x="128" y="256" width="4" height="4" fill="#76c75a"/><rect x="140" y="256" width="4" height="4" fill="#43b672"/><rect x="160" y="256" width="4" height="4" fill="#3cb077"/><rect x="172" y="256" width="4" height="4" fill="#66c95d"/><rect x="176" y="256" width="4" height="4" fill="#75cd54"/><rect x="180" y="256" width="4" height="4" fill="#8ecf47"/><rect x="184" y="256" width="4" height="4" fill="#8ed247"/><rect x="188" y="256" width="4" height="4" fill="#cee02b"/><rect x="192" y="256" width="4" height="4" fill="#b7d836"/><rect x="196" y="256" width="4" height="4" fill="#c2da36"/><rect x="200" y="256" width="4" height="4" fill="#c8de2e"/><rect x="204" y="256" width="4" height="4" fill="#b7db33"/><rect x="208" y="256" width="4" height="4" fill="#aada37"/><rect x="212" y="256" width="4" height="4" fill="#72cb57"/><rect x="216" y="256" width="4" height="4" fill="#3ead76"/><rect x="232" y="256" width="4" height="4" fill="#44b272"/><rect x="236" y="256" width="4" height="4" fill="#67b95e"/><rect x="240" y="256" width="4" height="4" fill="#99d63f"/><rect x="244" y="256" width="4" height="4" fill="#7dcf4e"/><rect x="248" y="256" width="4" height="4" fill="#a0d73b"/><rect x="252" y="256" width="4" height="4" fill="#a2d240"/><rect x="256" y="256" width="4" height="4" fill="#c7df2e"/><rect x="260" y="256" width="4" height="4" fill="#b7db31"/><rect x="264" y="256" width="4" height="4" fill="#95d642"/><rect x="268" y="256" width="4" height="4" fill="#83c94c"/><rect x="384" y="256" width="4" height="4" fill="#378b7e"/><rect x="52" y="260" width="4" height="4" fill="#74ca56"/><rect x="56" y="260" width="4" height="4" fill="#74c857"/><rect x="60" y="260" width="4" height="4" fill="#83d04b"/><rect x="64" y="260" width="4" height="4" fill="#74c954"/><rect x="68" y="260" width="4" height="4" fill="#7bc556"/><rect x="72" y="260" width="4" height="4" fill="#8ece4c"/><rect x="76" y="260" width="4" height="4" fill="#95d142"/><rect x="80" y="260" width="4" height="4" fill="#7ac953"/><rect x="84" y="260" width="4" height="4" fill="#8bd149"/><rect x="88" y="260" width="4" height="4" fill="#7ac257"/><rect x="92" y="260" width="4" height="4" fill="#5bc064"/><rect x="96" y="260" width="4" height="4" fill="#6cc859"/><rect x="100" y="260" width="4" height="4" fill="#57c365"/><rect x="104" y="260" width="4" height="4" fill="#51bc6a"/><rect x="108" y="260" width="4" height="4" fill="#8bcf47"/><rect x="112" y="260" width="4" height="4" fill="#53b669"/><rect x="116" y="260" width="4" height="4" fill="#5dbb64"/><rect x="120" y="260" width="4" height="4" fill="#67c65c"/><rect x="124" y="260" width="4" height="4" fill="#86cc4b"/><rect x="128" y="260" width="4" height="4" fill="#a0cc46"/><rect x="132" y="260" width="4" height="4" fill="#63c05f"/><rect x="136" y="260" width="4" height="4" fill="#54bb6a"/><rect x="140" y="260" width="4" height="4" fill="#73c059"/><rect x="144" y="260" width="4" height="4" fill="#63bf63"/><rect x="148" y="260" width="4" height="4" fill="#63c55f"/><rect x="152" y="260" width="4" height="4" fill="#6cc759"/><rect x="156" y="260" width="4" height="4" fill="#8fd146"/><rect x="160" y="260" width="4" height="4" fill="#71c657"/><rect x="164" y="260" width="4" height="4" fill="#94cf47"/><rect x="168" y="260" width="4" height="4" fill="#a7d440"/><rect x="172" y="260" width="4" height="4" fill="#96d540"/><rect x="176" y="260" width="4" height="4" fill="#82ce4d"/><rect x="180" y="260" width="4" height="4" fill="#a4d73b"/><rect x="184" y="260" width="4" height="4" fill="#c5dc31"/><rect x="188" y="260" width="4" height="4" fill="#bedd34"/><rect x="192" y="260" width="4" height="4" fill="#e1e326"/><rect x="196" y="260" width="4" height="4" fill="#efe524"/><rect x="200" y="260" width="4" height="4" fill="#bdd83d"/><rect x="204" y="260" width="4" height="4" fill="#bfdc34"/><rect x="208" y="260" width="4" height="4" fill="#cae027"/><rect x="212" y="260" width="4" height="4" fill="#8fcf46"/><rect x="216" y="260" width="4" height="4" fill="#71c755"/><rect x="220" y="260" width="4" height="4" fill="#5dbb63"/><rect x="224" y="260" width="4" height="4" fill="#64c35f"/><rect x="228" y="260" width="4" height="4" fill="#63c25f"/><rect x="232" y="260" width="4" height="4" fill="#71cb55"/><rect x="236" y="260" width="4" height="4" fill="#71c757"/><rect x="240" y="260" width="4" height="4" fill="#67c15e"/><rect x="244" y="260" width="4" height="4" fill="#59be65"/><rect x="248" y="260" width="4" height="4" fill="#60c460"/><rect x="252" y="260" width="4" height="4" fill="#68c75a"/><rect x="256" y="260" width="4" height="4" fill="#6bcb5a"/><rect x="260" y="260" width="4" height="4" fill="#4eb96c"/><rect x="264" y="260" width="4" height="4" fill="#82d24c"/><rect x="360" y="260" width="4" height="4" fill="#46ba70"/><rect x="12" y="264" width="4" height="4" fill="#46b671"/><rect x="32" y="264" width="4" height="4" fill="#45b672"/><rect x="44" y="264" width="4" height="4" fill="#42ae74"/><rect x="48" y="264" width="4" height="4" fill="#60b45e"/><rect x="52" y="264" width="4" height="4" fill="#b1d73b"/><rect x="56" y="264" width="4" height="4" fill="#badb31"/><rect x="60" y="264" width="4" height="4" fill="#c2dd32"/><rect x="64" y="264" width="4" height="4" fill="#c7df2d"/><rect x="68" y="264" width="4" height="4" fill="#d3e129"/><rect x="72" y="264" width="4" height="4" fill="#cfe02b"/><rect x="76" y="264" width="4" height="4" fill="#cadd32"/><rect x="80" y="264" width="4" height="4" fill="#a3d33f"/><rect x="84" y="264" width="4" height="4" fill="#a7d73f"/><rect x="88" y="264" width="4" height="4" fill="#dbe229"/><rect x="92" y="264" width="4" height="4" fill="#91cf4c"/><rect x="96" y="264" width="4" height="4" fill="#9bd63f"/><rect x="100" y="264" width="4" height="4" fill="#97d044"/><rect x="104" y="264" width="4" height="4" fill="#a0d241"/><rect x="108" y="264" width="4" height="4" fill="#8dd148"/><rect x="112" y="264" width="4" height="4" fill="#9fd341"/><rect x="116" y="264" width="4" height="4" fill="#a5d738"/><rect x="120" y="264" width="4" height="4" fill="#a1d245"/><rect x="124" y="264" width="4" height="4" fill="#afd43b"/><rect x="128" y="264" width="4" height="4" fill="#b6d33c"/><rect x="132" y="264" width="4" height="4" fill="#96d246"/><rect x="136" y="264" width="4" height="4" fill="#76c957"/><rect x="140" y="264" width="4" height="4" fill="#90cf45"/><rect x="144" y="264" width="4" height="4" fill="#8ad14a"/><rect x="148" y="264" width="4" height="4" fill="#7dcc52"/><rect x="152" y="264" width="4" height="4" fill="#a7d93d"/><rect x="156" y="264" width="4" height="4" fill="#aed83f"/><rect x="160" y="264" width="4" height="4" fill="#8fd347"/><rect x="164" y="264" width="4" height="4" fill="#8dce49"/><rect x="168" y="264" width="4" height="4" fill="#b0d23c"/><rect x="172" y="264" width="4" height="4" fill="#9bcf41"/><rect x="176" y="264" width="4" height="4" fill="#98d248"/><rect x="180" y="264" width="4" height="4" fill="#cadf34"/><rect x="184" y="264" width="4" height="4" fill="#badd36"/><rect x="188" y="264" width="4" height="4" fill="#ebe525"/><rect x="192" y="264" width="4" height="4" fill="#dee02d"/><rect x="196" y="264" width="4" height="4" fill="#ebe429"/><rect x="200" y="264" width="4" height="4" fill="#dde131"/><rect x="204" y="264" width="4" height="4" fill="#cee02e"/><rect x="208" y="264" width="4" height="4" fill="#c5dd31"/><rect x="212" y="264" width="4" height="4" fill="#86cf4b"/><rect x="216" y="264" width="4" height="4" fill="#60c361"/><rect x="220" y="264" width="4" height="4" fill="#4bb76e"/><rect x="224" y="264" width="4" height="4" fill="#47ae72"/><rect x="228" y="264" width="4" height="4" fill="#40b275"/><rect x="232" y="264" width="4" height="4" fill="#4db96c"/><rect x="240" y="264" width="4" height="4" fill="#3db675"/><rect x="4" y="268" width="4" height="4" fill="#b8de2a"/><rect x="12" y="268" width="4" height="4" fill="#48b86f"/><rect x="20" y="268" width="4" height="4" fill="#6dbb5b"/><rect x="108" y="268" width="4" height="4" fill="#38aa7a"/><rect x="192" y="268" width="4" height="4" fill="#65a968"/><rect x="196" y="268" width="4" height="4" fill="#5bb966"/><rect x="204" y="268" width="4" height="4" fill="#47b173"/><rect x="208" y="268" width="4" height="4" fill="#46ac73"/><rect x="12" y="272" width="4" height="4" fill="#46b870"/><rect x="16" y="272" width="4" height="4" fill="#5fc560"/><rect x="20" y="272" width="4" height="4" fill="#64c75d"/><rect x="196" y="272" width="4" height="4" fill="#298e88"/><rect x="200" y="272" width="4" height="4" fill="#2c7a87"/><rect x="72" y="276" width="4" height="4" fill="#2e8f83"/><rect x="92" y="276" width="4" height="4" fill="#2f7e88"/><rect x="188" y="276" width="4" height="4" fill="#2c9281"/><rect x="396" y="276" width="4" height="4" fill="#4ab270"/><rect x="188" y="280" width="4" height="4" fill="#28888b"/><rect x="264" y="280" width="4" height="4" fill="#48c06e"/><rect x="72" y="284" width="4" height="4" fill="#2c9385"/><rect x="4" y="288" width="4" height="4" fill="#83d34b"/><rect x="108" y="288" width="4" height="4" fill="#317784"/><rect x="204" y="288" width="4" height="4" fill="#2a8789"/><rect x="208" y="288" width="4" height="4" fill="#2a8788"/><rect x="164" y="292" width="4" height="4" fill="#598e6c"/><rect x="188" y="292" width="4" height="4" fill="#2c8f87"/><rect x="200" y="292" width="4" height="4" fill="#249689"/><rect x="316" y="292" width="4" height="4" fill="#2f758b"/><rect x="396" y="292" width="4" height="4" fill="#358572"/><rect x="72" y="296" width="4" height="4" fill="#2e9484"/><rect x="152" y="296" width="4" height="4" fill="#2d8184"/><rect x="204" y="296" width="4" height="4" fill="#377983"/><rect x="336" y="296" width="4" height="4" fill="#3f8b7d"/><rect x="184" y="300" width="4" height="4" fill="#2a8689"/><rect x="188" y="300" width="4" height="4" fill="#29a184"/><rect x="196" y="300" width="4" height="4" fill="#259589"/><rect x="200" y="300" width="4" height="4" fill="#279089"/><rect x="20" y="304" width="4" height="4" fill="#4dbe6c"/><rect x="100" y="304" width="4" height="4" fill="#2f8080"/><rect x="196" y="304" width="4" height="4" fill="#2a8a89"/><rect x="260" y="304" width="4" height="4" fill="#308383"/><rect x="384" y="304" width="4" height="4" fill="#44b971"/><rect x="396" y="304" width="4" height="4" fill="#34b679"/><rect x="184" y="308" width="4" height="4" fill="#2a868a"/><rect x="188" y="308" width="4" height="4" fill="#249689"/><rect x="356" y="308" width="4" height="4" fill="#44b771"/><rect x="372" y="308" width="4" height="4" fill="#308085"/><rect x="4" y="312" width="4" height="4" fill="#8dd545"/><rect x="52" y="312" width="4" height="4" fill="#307984"/><rect x="228" y="312" width="4" height="4" fill="#2f7389"/><rect x="4" y="316" width="4" height="4" fill="#87d448"/><rect x="84" y="316" width="4" height="4" fill="#318c81"/><rect x="200" y="316" width="4" height="4" fill="#269189"/><rect x="208" y="316" width="4" height="4" fill="#288b8a"/><rect x="216" y="316" width="4" height="4" fill="#2c7985"/><rect x="244" y="316" width="4" height="4" fill="#2d728a"/><rect x="340" y="316" width="4" height="4" fill="#2a8e7f"/><rect x="368" y="316" width="4" height="4" fill="#46ae73"/><rect x="372" y="316" width="4" height="4" fill="#37b678"/><rect x="376" y="316" width="4" height="4" fill="#4cbc6d"/><rect x="4" y="320" width="4" height="4" fill="#89d347"/><rect x="72" y="320" width="4" height="4" fill="#269d86"/><rect x="188" y="320" width="4" height="4" fill="#259988"/><rect x="192" y="320" width="4" height="4" fill="#2f9c82"/><rect x="180" y="324" width="4" height="4" fill="#258e8a"/><rect x="196" y="324" width="4" height="4" fill="#259487"/><rect x="200" y="324" width="4" height="4" fill="#279488"/><rect x="352" y="324" width="4" height="4" fill="#4dbe6b"/><rect x="4" y="328" width="4" height="4" fill="#c2df24"/><rect x="140" y="328" width="4" height="4" fill="#2a7884"/><rect x="188" y="328" width="4" height="4" fill="#269289"/><rect x="192" y="328" width="4" height="4" fill="#348e83"/><rect x="196" y="328" width="4" height="4" fill="#27828c"/><rect x="208" y="328" width="4" height="4" fill="#268c8a"/><rect x="236" y="328" width="4" height="4" fill="#2a7e89"/><rect x="356" y="328" width="4" height="4" fill="#42bb72"/><rect x="360" y="328" width="4" height="4" fill="#259688"/><rect x="64" y="332" width="4" height="4" fill="#279d86"/><rect x="188" y="332" width="4" height="4" fill="#308b83"/><rect x="196" y="332" width="4" height="4" fill="#24908b"/><rect x="204" y="332" width="4" height="4" fill="#248c8c"/><rect x="396" y="332" width="4" height="4" fill="#3bb975"/><rect x="20" y="336" width="4" height="4" fill="#4dbe6b"/><rect x="32" y="336" width="4" height="4" fill="#2c8d87"/><rect x="184" y="336" width="4" height="4" fill="#29848a"/><rect x="188" y="336" width="4" height="4" fill="#299487"/><rect x="200" y="336" width="4" height="4" fill="#258e8b"/><rect x="208" y="336" width="4" height="4" fill="#26888b"/><rect x="260" y="336" width="4" height="4" fill="#299188"/><rect x="380" y="336" width="4" height="4" fill="#49b370"/><rect x="180" y="340" width="4" height="4" fill="#2b8984"/><rect x="188" y="340" width="4" height="4" fill="#2b8f88"/><rect x="196" y="340" width="4" height="4" fill="#278f89"/><rect x="200" y="340" width="4" height="4" fill="#249888"/><rect x="368" y="340" width="4" height="4" fill="#40b474"/><rect x="392" y="340" width="4" height="4" fill="#45b671"/><rect x="64" y="344" width="4" height="4" fill="#2d9386"/><rect x="184" y="344" width="4" height="4" fill="#2c7a8a"/><rect x="188" y="344" width="4" height="4" fill="#2c9a83"/><rect x="196" y="344" width="4" height="4" fill="#308185"/><rect x="252" y="344" width="4" height="4" fill="#308885"/><rect x="380" y="344" width="4" height="4" fill="#279488"/><rect x="396" y="344" width="4" height="4" fill="#2c7e85"/><rect x="72" y="348" width="4" height="4" fill="#2a9684"/><rect x="188" y="348" width="4" height="4" fill="#2d8f82"/><rect x="192" y="348" width="4" height="4" fill="#3a927d"/><rect x="196" y="348" width="4" height="4" fill="#249988"/><rect x="292" y="348" width="4" height="4" fill="#96d242"/><rect x="340" y="348" width="4" height="4" fill="#259389"/><rect x="184" y="352" width="4" height="4" fill="#2a7f8a"/><rect x="188" y="352" width="4" height="4" fill="#33927f"/><rect x="204" y="352" width="4" height="4" fill="#2c7a86"/><rect x="392" y="352" width="4" height="4" fill="#2b8182"/><rect x="196" y="356" width="4" height="4" fill="#2f8386"/><rect x="208" y="356" width="4" height="4" fill="#248a8c"/><rect x="360" y="356" width="4" height="4" fill="#279787"/><rect x="72" y="360" width="4" height="4" fill="#28a184"/><rect x="184" y="360" width="4" height="4" fill="#29858a"/><rect x="188" y="360" width="4" height="4" fill="#299d85"/><rect x="196" y="360" width="4" height="4" fill="#249788"/><rect x="300" y="360" width="4" height="4" fill="#74cf54"/><rect x="184" y="364" width="4" height="4" fill="#318184"/><rect x="380" y="364" width="4" height="4" fill="#44b971"/><rect x="4" y="368" width="4" height="4" fill="#b8de2a"/><rect x="24" y="368" width="4" height="4" fill="#21a187"/><rect x="40" y="368" width="4" height="4" fill="#2e7689"/><rect x="52" y="368" width="4" height="4" fill="#449171"/><rect x="80" y="368" width="4" height="4" fill="#26828e"/><rect x="92" y="368" width="4" height="4" fill="#3a4777"/><rect x="108" y="368" width="4" height="4" fill="#347984"/><rect x="124" y="368" width="4" height="4" fill="#317183"/><rect x="136" y="368" width="4" height="4" fill="#2e727a"/><rect x="148" y="368" width="4" height="4" fill="#2f8c87"/><rect x="160" y="368" width="4" height="4" fill="#36b578"/><rect x="188" y="368" width="4" height="4" fill="#24a485"/><rect x="192" y="368" width="4" height="4" fill="#2ea780"/><rect x="196" y="368" width="4" height="4" fill="#27808e"/><rect x="204" y="368" width="4" height="4" fill="#357585"/><rect x="264" y="368" width="4" height="4" fill="#48c16e"/><rect x="304" y="368" width="4" height="4" fill="#66c35e"/><rect x="308" y="368" width="4" height="4" fill="#4abe6c"/><rect x="332" y="368" width="4" height="4" fill="#35b779"/><rect x="344" y="368" width="4" height="4" fill="#46ba70"/><rect x="348" y="368" width="4" height="4" fill="#42b972"/><rect x="368" y="368" width="4" height="4" fill="#365c8b"/><rect x="372" y="368" width="4" height="4" fill="#297b8e"/><rect x="384" y="368" width="4" height="4" fill="#287d8e"/><rect x="396" y="368" width="4" height="4" fill="#2c738e"/></svg><canvas id="cv" width="397" height="369"></canvas></div>
<div class="spine" style="left:79.95px;top:57.95px;width:398.15px;height:370.15px"></div>
<div class="abs" style="left:502.5px;top:58.5px;width:18px;height:369px;background:linear-gradient(to bottom, rgb(253,231,37) 0.00%, rgb(236,229,27) 3.12%, rgb(216,226,25) 6.25%, rgb(194,223,35) 9.38%, rgb(173,220,48) 12.50%, rgb(152,216,62) 15.62%, rgb(132,212,75) 18.75%, rgb(112,207,87) 21.88%, rgb(94,201,98) 25.00%, rgb(78,195,107) 28.12%, rgb(63,188,115) 31.25%, rgb(50,182,122) 34.38%, rgb(40,174,128) 37.50%, rgb(34,167,133) 40.62%, rgb(31,160,136) 43.75%, rgb(31,152,139) 46.88%, rgb(33,145,140) 50.00%, rgb(35,137,142) 53.12%, rgb(38,130,142) 56.25%, rgb(41,122,142) 59.38%, rgb(44,114,142) 62.50%, rgb(47,107,142) 65.62%, rgb(51,99,141) 68.75%, rgb(55,91,141) 71.88%, rgb(59,82,139) 75.00%, rgb(62,73,137) 78.12%, rgb(66,64,134) 81.25%, rgb(69,55,129) 84.38%, rgb(71,45,123) 87.50%, rgb(72,35,116) 90.62%, rgb(72,24,106) 93.75%, rgb(71,13,96) 96.88%, rgb(68,1,84) 100.00%);"></div>
<div class="spine" style="left:501.95px;top:57.95px;width:19.15px;height:370.15px"></div>
<div class="tk yt" style="top:427px"></div><div class="yl" style="top:419.50px">0</div><div class="tk yt" style="top:366px"></div><div class="yl" style="top:357.90px">500</div><div class="tk yt" style="top:304px"></div><div class="yl" style="top:296.30px">1000</div><div class="tk yt" style="top:242px"></div><div class="yl" style="top:234.70px">1500</div><div class="tk yt" style="top:181px"></div><div class="yl" style="top:173.10px">2000</div><div class="tk yt" style="top:119px"></div><div class="yl" style="top:111.50px">2500</div><div class="tk yt" style="top:58px"></div><div class="yl" style="top:49.90px">3000</div><div class="tk xt" style="left:92px"></div><div class="xl" style="left:72.14px">2</div><div class="tk xt" style="left:150px"></div><div class="xl" style="left:130.48px">4</div><div class="tk xt" style="left:208px"></div><div class="xl" style="left:188.82px">6</div><div class="tk xt" style="left:267px"></div><div class="xl" style="left:247.16px">8</div><div class="tk xt" style="left:325px"></div><div class="xl" style="left:305.50px">10</div><div class="tk xt" style="left:383px"></div><div class="xl" style="left:363.84px">12</div><div class="tk xt" style="left:442px"></div><div class="xl" style="left:422.18px">14</div><div class="tk ct" style="top:427px"></div><div class="cl" style="top:419.60px">0</div><div class="tk ct" style="top:386px"></div><div class="cl" style="top:378.53px">5</div><div class="tk ct" style="top:345px"></div><div class="cl" style="top:337.47px">10</div><div class="tk ct" style="top:304px"></div><div class="cl" style="top:296.40px">15</div><div class="tk ct" style="top:263px"></div><div class="cl" style="top:255.33px">20</div><div class="tk ct" style="top:222px"></div><div class="cl" style="top:214.27px">25</div><div class="tk ct" style="top:181px"></div><div class="cl" style="top:173.20px">30</div><div class="tk ct" style="top:140px"></div><div class="cl" style="top:132.13px">35</div><div class="tk ct" style="top:99px"></div><div class="cl" style="top:91.07px">40</div><div class="tk ct" style="top:58px"></div><div class="cl" style="top:50.00px">45</div>
<div class="abs" style="left:221.2px;top:454px;font-size:14px;line-height:17px;white-space:nowrap;letter-spacing:0.88px">Frequency[MHz]</div>
<div class="abs" style="left:19.5px;top:243.2px;transform:translate(-50%,-50%) rotate(-90deg);font-size:14px;line-height:17px;white-space:nowrap;letter-spacing:1.0px">Virtual Distance[km]</div>
<div class="abs" style="left:559px;top:244.2px;transform:translate(-50%,-50%) rotate(-90deg);font-size:14px;line-height:17px;white-space:nowrap;letter-spacing:0.87px">Power [dB]</div>
<script>
(function(){
var s="ovy143000pxrvpnXcaZrfnpmXlxilmtpbvkkoomtRgUlxgeboksuaVuLkjstTiighEhqgrxhkuflhmtrolkcfojqbsejnnpgjqjqVaZTotndekkpUipahicnhycehLif/mdKspmqqhQrYYKnpphiizqktrbcc8nWlggmfZo5r/rjVnnbdmysfjtpffekZZibwffdVoolphhphaannqqionnnggciYYgggnKKCeehhjjmmmSrrqllpiiHddZooikuTTimmphhtuuvvNq1000xs33400/++///zz99o95ffuuzqqqqvvpaZlkntuvvqqffffqhhhhffZZjoouuhhvvqqmmSiirrffkknneeghguuiiffTThhsrllggzzvvcclldceettZZnlljjfy0z643z3k0psswUunmldrmualoXmfcmptfhmnUadkjkepnlmEorskUlhgsikfwqooiotmprkjsepYmcWmmnvsXvvodloojlneetsNkVkpqknLLpufqlebtEc0ZkSjfc/mcgwlkjmfqqffZosrdhh0mnviijj6slorrqqbm/w/hsjddgZhUsmlpoeemTppgbrffkpmmfphhrnonjaiililleihXRbbVnndggmUUqnnnnccinnqOOjmmiVVcSSpqakkdootjjvvsvvsiv33yzf449xx//////0077x68ss003uuuuxxiwvmmkttrrffkkoonbbooiirrZrriihhoonnttcvvoojjkkbbaallwvvzzWWddXXzzmmiidcttffttqquuhhkkjllmmrvz13521vSvtrZlrnwjVjgsugcjZqdieekqppnPugncmkjnWjhlllmjjreieckulsssuznvffhpaVhpeflnnqtqgckornngkmsemqntitnknVYYrqlmYibjkS1khhgYY7bkqwdmmnZtWkkqfvZleeyfrvthmm8jlTffqoai9s/dcpoogkxkuopWwaaeassonuffupeeaUkkgikkjmZZTdddpedZmYYgrrdVVDZZifSScrrlffoooZccerrhqqdelkkooozmmvvpuuqvzxxxzl55600//////ww99o1700wwuzzss22lrrppqsqyyrrbbEEoWWrrqqssiuummnnooXXnne00ppkkhhnoggvvtxxffppsspplkllUUjjoouullppkkooppkvvaarxy5542y0ozoqhRRxqotPjlqokxilisIrtpiagmnirmrdkmkcedkqggdfcvZReidbgwmtlthVsbTvjvojmlAorfffuTcnnkfcfngZoUQsmpeleeflrrrYabgm0dlpghp+ooRqqlaajwdefaxyGnoougqwpgLL9qZpkkjegE9u/qkkeeqhYevrHirXXiZnnobwggpYqqVkppaoffgeqqqDAAnaaqgiihUUlaaoJJOjiicmmkkkaZZbttoggXjjqr0ggc00pssrrwttpx1113ye443yy//////55//n54llvv1vvttwwqoohhksrppiimmbbkoommqqrrliijjjjnnqqccbddkkddnnNNjjooAttqrttmmmmkkeeffllooZZhhuuXXyyTTbddhhYy23433zwbvupnanoeacrZlraitWdleaUxooVUffXfqQliqjciqylmegVkmoSoteriouwj0hkmgqtqzeiSZZtztjjqomZZqpfdfToflqHnbpZnnsqwhYfntckzeYgOaT/ZlkrkpahbrZffoeyUgQQxkdcYaNN8pbpbbjngn8r/gmlbbkpWmvkoqrggthssXpuffadhhmmbbqsppmjssnippZkkgsssahhjqqdeedjhhRUUuoorffToonSSlnnZboaabffxoowwywwrkw22tqg995yy//////tt99x30ttyyvwwnnvvmuukkTmpqqbbkkOOjsrqqUUooOeeiiccmmjjpplyzoollopmnSSbbsppqqiittjjffZZqqiillaappQQiiqquufjjnnkz24671zye0wilieuimmgqlmkrqoblneurvjbdiblPbufnomjrYqidrfroriaT0RmoklxwkcmkfZnfsirroogsnnhfTaggTsmhjrheqlrojoYkkemknTdlapZzdrffKl9WUhuKglqricWWaruphiivriivgii9qppooLphU/t9vpYkknfelxtqqqffmRllnmweecSrrLpVVhfeeJquueSiigkkggQQaVVfbbiffklkkseemoodjjbZZbaajppCEvstkyysYYwwqyyep1vvuwm664zz//////xx//s27nnxxxyyxxxxunmaaIopwwAAllllkeeoorrPPljjaaqqrsxxggXjjeeeerruussrrpppjjppwveessgfRRppihooxxiippssqqfsshhm115464wyj2rmnwqj6srtrZmspholmqspshdeXWTYRUfchlSopjfJjncukujpvlmmgdkudnksdbbUdlZdpivpspiuVZYcckkdnhpkAjdnnmtXeebrVifgWkjk1aeqfYn/mhnuejdkjpriijlukhddzmjNmmnn8riTddrgdh9s/hlfkkcnlktosdfPPQZppglqgghiuuggWWgxooqmondghhkkkiiiinttJTTZSSqheehjjonnlWWlggcccVqqtvvqqQddjcc00vvvmZzzzyyZ556yy//////yy88s58ppsszxxss32orqcbosrvvoonnddqaawwuussnZZhhfglljjvvOxxnnmmccwwootuiSSddtttsssVVVUnnxxnnwwnnllWWeerrTuussm03457z0wlvvTukosvYdivvoklnfudnpirgqhhgZnjcqVnmnmkpeoRwNYVtunknenQqaoooPqsMdrekbhjWnhqgmrYoiggsofcYotqrihlmjiiimhUfqfrteh2fYgllf/pYUwniiqgqgiihfsrjccwptkqiaa6mlpffRrTc7o8enOmmfpukvsieippYhOOWaxllehhhfokkrihhiPZZmpYYnmmmhddmnnollIZZrkXXTlljssskkkSSWccgkkrtfttnqqoefxxuqqin0uuyvh44400//////zz++q30YYwwxwwttvvrxxmlYnnvvkkhhkkkttllssjjGVVjjaaeeXXnnmMMvveeoorreekkmkkiimmooffssddWWoonnsszzqqooqqppXqqppq222552zzsytsuTppvYyotsnkotkrVubpumZtjYbkqqgNrmZlsdsdgqobgrhsjsqwjtssbndtYXdvmrfpgghZpoYhkgmffhugnqimrcefpplojjijnjUirpbm2kqsgcl+jZivfsppngbllxnsgjjjwnlsthjj7irpWWbagb+r9wlRffhfswrffghjjgkXXlkwllrShhicmmsxookjffgkkkkiifoffqffUCCjaapRggoqqkkknffdllmWWlmmlnuppphhtkkvvtuuuuyzz1xo662uu//////2277u84jjwwtvv00ttlqqmltvqttZZiijjprrddeecckmmMMWWqqggwwkppwwffggssiiaaeppttmmIITTiibbuubbtthhrryyffjjooinnhhS352353z0hvstndlvjhjrlnsinxjwlxjhxrliiildienmkncjvqopWdiUUsuaAzTipfwmfuetalpjbqpecYmjnrrlZpijjpleaaliddhrbknieedofSdthongyWecggi/fbitkilrjaWVVmWxwniiwjlgkell7erdZZxenj5n+ohmppnffttUdgWggqkddbpvkkogooknllssjjWinnqnQQcnmTaffnrreeeXZZVcggorrlyygYYgiidnnbllhjxeefiimpp22uuudtxxxwwg66611//////5599s94oo22xwwyyvvjvvggtvwtthhlljjNmmrrookkmppnnbbuussrrlrrrrllfgrrkkqqgttvvrrffTTooZZkkFFttrrwwkkVVuussqqqkkXz3z1262zi0umhvVckodtsYguqrdYivRhwrmHmXCHkftogiooneiflmsljyqataoapuljlggpWefiidgnIfUWupbfkmhkkmdmgnrmonqiatWnhhnUskpjrpem5hOhbro+jehsmqlkJvmkkjdudaqq0pjpjApp+qrjWWpcre7q+woZddaaehtojbgggnFWWslwXXuWkkgojjRooofrqqsqhhbookVffnjjnmmjeeWYooWiiXnnZkklccTYYlnnnpnmmappqqqzzxrrgjyyy3yn55222/99///xx99w66SS22y11zzssqnniiqspvvllffjjVmmccttZZippppcciiggvvhppttoojkmmWWiiimmkkttoommnnllZZuuVVttiiooqqZZZZhZZhhl02131541XwqiwunkrettaymhrpeWniec4flftrVjhlpaodkdunqgmYmkllnloqrleYmfjuptprifSkiqEacVrkmeZJcbbnkhqlvlhgfmqedcTTpnqkmThfjaymcqfXn/mjCuifiqbrmffkmtkbmmwpYjgepp8WlmeejjjZ8r/VpmnncNfgselsnggsnwwjxtYYtsjjcmrrlUrrjmsrlhLLSffZmYYaZZmppbbbkpbbiiihggJddXoooaafkkdfrffpnnrllyyqwwqkx223wM226xx/////+0077u84qqssuxxuuzzbmlccqutrrmmrrpprllYYrrZZchgqqeemmhhqqaSSllmmhhoobcwwtooqqllllmmqqlledcczziittssffoozzhmmLLhy0xz042vVurqqgcwsEnqubqkiylnklkltnrrQhnjjqtllsikkhqogpalXatncgnkwqtsnokoesnrSijmmYYdsiTgrWkllhhmcluShaSqjnljTTjSVmTeqhbf1XWkbqm8lfkwkyemnmWbbYSunljjxjlehbqq/svbggqmcZ9q/lkjppmAhRxoqmRffspggpZymmrnllYjffnbYYdduupjddXhhpkrrsiiRiioffrellobbgnnUmmlffbVVnMMqsmooprrrabwwzwwqmwyy2yd55300//////vv99u65qqssvvvqq10byxWWyztuuooggYYpoohhlljjjrrllRRvvqqppYrrddggvvoorrRRbhhnnoottoossiiccmmssooffvvppqqjjtuuggqxzz10533rwsewpiywnojpysskpmffoHjtellgpJIcUrlijmnhimgZjJhnYramjVhnwyXrXhtWlgJYiecehcmtxmhZhfRRrhhneismROpkdfpnnjEimhZWfQivbajTkR/ckqumblihmpjjqftmkqqwknMbndd9mEbeeukmh7w9tgtppCgrkuTlnbkkugvvpnwkkurkkYlrrZuiiJquupubbkffkikkmllnmmZOOjYddTppdssrbbgllYhhiddkm0oogrrukk00yrrvvz22vxi++5yy//////vv88n87qqwwuvvvvssXJIbatus00onppbbiiilkpprrZttppnnjjjjrrmttnnjjppwwbbwwmwwoosshhhhhhvvaarreeXXiimmkkrrmmkllssuwxy11510jyplutwftlbpomyfsrpmUcjqjZohlfcaSjidphdbiqSfcuYjepqopoXhjpilmkjrcprafmnddjTmvrtdnocUUeuZnjBsWammjpggiirpunglqjbd4mtjfmc/igfvlgjosekfffsylojjufkrloRR9odwkkleUW+v7eowoolcqotldqqjjodssgnvjjlwccaivvmrjjjPEEhrBAYooTlnneiiqmmoddJdhhglleiirppKXXfYYVkktvvllhuugffssqtthi1000we447ww+/////4488r71pp33tyyppyygutccnrsvvppjjqqTiiqpwwkkXllZZZZmmttvvpqquughggttwwssijjffwwUUoosrhhllUUllssssnnhhiioopqqddqx102032yb0vxxuguYqquutusopgrnQiT3kkjhheiowRehqYTqpoPgjkhiynScifjglqphdmpibWxZxnpbejZmlnisrhccqgQjofZNdMgrjriKKinopkjlkcqxiuimEQ9oYkuffeXrjZggfkwcnFF0evkseee6wkoXXvrbn9r+rlVYYXcttqlgpniimmxxmhwZZtnjjYlkkklllhfuurfooiiiqeoocffhhhXhhAbXXcllnwwXjjtiimggChhkmzllckknnnuutxximxzzzwn553ww//////yy++k76ggxxwwwwwwwgppggjrqvveevukkgggAAssggcooZZggppeerrhmmmmUVqqjjeerrrppoonnoonnuuhhYYTTccbbttssjjbbrrYddllbs03543z3oxrgpmfluea0mxnttwvokckm1QTiSorVkmcdmfnjgikYmmKYgwnTmqQuaupnqqfvgsdblstfolnjqhKoWWZppkbciXWlamnqngjciikiqinfrQmn2Urpfco+nheqnukbgkjnnknwceUUthpnkejj4tYrQQnkph7o/qkhPPciomuogmgooocpphjujjsmhhJlnniyiiaWHHohookjjlCppiooRiipmmpqiimllcjjQiiUFFlbbahhWYnrrbqqkrrvvwvvwqyyyzrY441vv//////1199z76nnxx0wwsszzuoojiaquxxnnkkllnffllooqqNWWoojjSSrrwwaccxxbbffTTsslliqqllwwttNNwvmmhhrrttppwwiihhkkhhhuussdty33422vuxrultnnvipwxkntwsnoalkgpeqgYPmgaojodmbmftlTmphpUrkkdmojswmwllppqffpoihgnjlmpNbjhvgllfWbvnekOmfefSfqOOumksonUYNezfgnfFn/ObJrmliWfkicclQwinjjzodvtopp+lpijjnemp/v/fnmfffsjltkadbffqgssnnullmdnnhbiiivjjhVrrgkaahjjsjllqSSXaaiiinjddiyygiikddfiihoomeeacmhhRttpttuutwwwpx4430Y66311//////44++p9+bbyyxvvuuyxdssiiott11qqmljjsookkwwnnaooaalljjttqqlssoorrfgsthhuulppttjjttbbwwjjggLLkkYYRRvvssnnYYnlluuixz35630zlxtngtsQvmmdfllpiwsugvXooZphfpcqYhTEXnshoPxjjmpdfZwTtngcjmdirmZugcrbdemhmSmguflgGsbjjbmlpphhntWiUkjMhhqolhVkllgo0OjXmdb/imfqffbofVdaaUruncmmytrppVWW8hhiqqZhlb/u/bnuggWjuqwpiqrooidssjTtQQiuffhnnnhtddnjnnhbiijnngQkknbbmiikiihZiifhhhnnnmmimmPccSiibdxllevvpXXuusqqmg0xx2vi555yy//////0088u63ooxx3uuuusshvvPPptsxxhhnnqqmlliirrjjakkXXrrrrrrvvqqqddjjVVyyhhoouoohhvvmmiiggqqkkvvuuwviivvrrlliitssqqfwz657zwuyrtqqXprnAjnUOijthhjflqoyqvjlipesreefungqmkpbtmpmfeipqpmkikvqudstniwdpReUdqhkjldpujqqdefmrbkjoUZomnkqqvmTlmmqpklyZdeWcj+ZmkuWlhiimhQQTarqekkuoqYmqll6pWuccbjod6q9kninnhicdudfnZkkwjiikguvvebjjmbbbgxmmZprroUrrqXXWikknxxgggeVVabooobbYjjmkkYiiheedllwylmmnwwjvvxxyzzaqz001wk337ww//////xx//q64mmyy1sssssslqqqqrurxxjjeekkjoohhppddccckkoouussjjewwllhhjjttgg22pmmqqxxeeccxxrrpprroouusshhiippWWUggmmlw1776zxujvxmumrutpunoqlpqpeminXgtcsTkdpcwagtlcmiaotcnndkmvojlgnlmhllZqbSPrpcZosejrVVtlpXkQhhhlpbddSrcpjotiWqkkeolmgLmiUdylrWgoq+lbkspbhrnoZeehXrpZffzsqkjljj/tkoZZnbFa7r+qkjeeTjcttekUvmmipqqnnvrroniifivvmfkjkjpporpptooogiidjjnhhpccmimmtiiammgAAlllkccieeoq0opdssgjjxxuuubpxwwqxa66511//////33++p35qqwwtssuuvvueeiigwwxxuullYYmxxccmmmmhZZZZffrrsspqk11vveeXXvvAAstbmmrrttllddddhhffSSvvjjssyynnffiiNpphhmvy47821tVzrrxxfwwnoqi0sqouYkllkmslhnogjYqosmqgroopolatiWjnlflxiImZrZfvgnpNoitkhhkgqfngqhudbbbjogggdgeigqibiijjkmPlgXdoml4YxSgoR+OkmvolhfXZgOOnkveonnucjmracc9mgnggrjlg8s/gkmQQorZTsmkpqXXpnlltVtddSQcckUddkqmmirtslgsspoomaeenggchhiIIZdqqnoohffmggdhhlmmaKKdfwssUcctdd11vvvjhzvvzzi441zz//////22++v44mm114ttttvvqrrsscooyyllYYeevffonYYnnemmmmccrrvvkkfnnnnijvv22SSuuwvvttxxrrmmlknmppmmttMMtttthhiiPPeuuhhhy044510zl0sswhluonpxoefdprjmftZmpOdjkofjipptfpYofrjPSfiuhrknnjllimblujUpipQmgpcdVWrkqkhhoacrrojkrZmikmmhiruqjjitQfdNTgmkxkkqfoj8laosjljshrUssYitpejjxjklomgh7tgellVgnk6q9utjPPcNjXseiYfeetnllmkvSSgfmmhjkkkYnnlVfftdqqgYYpbhhlrressoZZisffjllNjjdppimmkPPkffnpeuulnomkkyyvvvlnz33szx448xx//////5588lz9wwzz0yyvvrrmkkggornvvqqffllnqqooPPrrdhhmmeeuuTTxxAbbbcrreebbkkijvXXssttuummqqnnmmoorrmmssoovvqqqqkYYssfx1156210vvlXwwlgskmwoYfsZujbrlhVhihsnnlZfgWpkhqajaEefXZZrwlVsrZnWtsrgbrrvlbmhchbSkVRwiQWabmZZQklghalklnrinmohhrjjUfgZfeg2fygdqm/ofVsmpgljuekktkvjpeexkdUjUii+mfnkkskof5o+AophhfgtjwrmisqqaonneswbbmlooUopphqggpqdddiaankksjbbfttrSSjkkkkaammmRggrppnxxciiokkWYykklttmiivvwvvwqxzzzvd446zz//////vv++a51ttuuussrrssWmlcbfpw22uuccffbiimmuuppeoovvoolloollglloojkrraaggooqkkoowwggeeTTjjlkppihoosrppnnssiitWWffoxy36531wXzoippiWemb0vxmkpsnprydrvlpnlnZpflixXojliqoscolUhpnijkfqkqrqpgsSpnpfmnelmYcowojfVofppbajjukbWoRfZoreccujPmnesmUhyLrgqka/djSrWWektndbbgcrgejjypAXYkmm7bmngglgqe8s/nicttUmmotXgrljjRinnqqwmmfflllgsstbiicbpperppkihfgeephhYccqVVfrSSdppkttgaaiVVmiiXlljluhhoyyukkqqtwwmv022zxt33600//////yy88p41uu00wxxuuyyoXXTScqsxxiipobatttYYllppchhmmkkpprrffakkttooqrmmefxxWppssssoooossiimmiinnccwwjjccRRuumkkggmx002121wdxtlqtjwoympghfutqpkqjqnmjfmmjdRTqbfNtTjwimhQleWtgsRmrVlYjstnuqVtuolpkcihobiqsXnZmghhMtpsjqZmYessdncppphmkktjqmm3Vomrml8uietQhkkioVqqUpwnklltaghmfdd7pnahhqcmf8r/iajnnUcijuqdgqHHgfppdZummhkqqhcjjmollimllipZZZjjUgqqVjjXmmkVVnnootkkohhWddfIIlmmVnndexiiAZZmggrruttupxyytzr663uu//////vv55y39ppttswwvvxxshhllyzqtsRRkkoopmmeeZZrrheeeemmqqqqcceuuffggddqqkkRRvffZZmmJJmmooMMeeppaannhhrrqqlkvvhooqqmy00120x1vvtiorlhksasaerzlyqveuYTnbcpnmhpoqhsjiqbpXmXjlnnrsmjsrorltfdnskvuRdcoVmbiTrbrthrgjsmmipcvftOhllnLqhfggevgcRkrpah0makIOP/kOhudhesppkYYglrriTTroknoeMM5rkWWWpfTn9r/squnnobspsZfcnddYmuunkwllgmAAZlmmmtkkajkkkjnnnUUndTTtllokkjggsqiihgggbbWccmppjlllZZqsxllkzztoo00wyyrw1yyw2p777yy//////vv99l46sszzzyyxx22QqpiibmqyylleeiijdduussuuToonnaaoppqXXivvbbnnppiiWWttTkkuussoollrrmmppHHjj00YYAAuuggmmxnnggyy13330zycxqn0vQbvvsazqsqhvmlNranuZchpOfgdfwbiVmSXkbiZnhoqoakgmYlwytgilevrWloojskqriouoolYWnmmNcYtoKpnXVoenyjXXpjGhikqqunwdtqmdg/mgWugYmmphiZZqgvjghhwsequAmm9qlklljage7r+llukkfosouppvnqqpnrrmlrWWlrggimppVPVUfdbbgtiidiilcaadkkpKKbbblUNNjUUnllqccoeeZYYliiYaxffnrrzaasswuumuzwwzys553ww//////rr//k85hhzz0zzrruutffmmjnswvffXXllmlkqqddVVcjjeebbbbAAkkpssddddhhmniimmlccjjvvtsllzzffkkppYYhhggrrooeevvqmmjjlw1412z1xkxtikfoomwndzninttnuatdqpOmeWWjogVprnatnnrakabnqnsjnoucerdvifforrfqsrliljnYapXdjmjZWWmoofhqrbmipmiojhhopnlemecgcxelMaVc+paotppqimnahhhquehfftpgsiLgg7YbhhhfpqZ8q/nQrqqglfotSqjWggGYiimhwVVjnoocaooksmmnqvvkqnngQQoajjkooehhhhhQjVVniikRRVookjjihhApprtpgggnnrjjuuyqqfhy11zug445zz//////yy88v54ii11zzzttvvPxxoojttyyggffllrqqjjwwmmRWWllJJVVggrrmqqrrdelllljkuumllkkggvvddooffhhllmmRRffppWWbbssZmmoox102221y1btkq2jWqttuovt0mkrjruuamsRrlmYlemfUqbrjPngafJZljrgoTkfaUgpoltrrbgTYlwgokskmlwmrqrfYggbicWmQdgkWimawmNNfeonemvqhe0hufbca9oVTsiqmteUdhhrHsiohhwpfmkLaa/Zkoiiwpsr4o/nRWffeYgetflvgoosSiiptuffqdbbgqkkpIhhidhhrdTTkjjrkiieggmhhaddZrhhjvvaqqoiikbboiiqnnjkrpphrrniiqqxvvbm100xyk11200//////00//s68ccssxwwssrrnrrihiqryyccnnccsffccqqccheePPmmttddkkqqqyyjjppnnjjvvpmmeeppddhhggnnllssmlllrrkkcckk00nnnvvv013341y10wtpiosnstOo3uxfinunhxgemnpohkTZdfakcarljrqmkqjkgTdmljVkhypmqwfoslUlkgofYmjpuoqvhekYYYloYqesRkfspVqkgghlocbasUnnzlsfbpp7jjirfXpidqZddjnrikXXvjqigqKK8goqffnkrY9q/nVkeeYkkvupdhgkkfdppckxccosjjifnnpidcliddjlnnbaarWtthcconnnccgdeeQnnirrnTTUggTEEciinptqqnootmmrrussvu0yyuvo885yy/++//+00++w+4nnxxyxxtt0zjzzmmmrqzziiiigfjffccuusspiiiiiiiisssscffTTvwppvvhhTTrqqccoossnnwwoovvYYWWTTttwwhhkkkkshheepy5152zx1bxxtZwlpwtrclxjhn2mYefkiwjrosoaktbXomWokmkhfkinnSpgsljqkhpoeukljuacjmmbkgaMrplhdheTaahpjnhjfSechokriddtfjsPdbfZmzcshimh+jenvcjhjcrikklhvrlccxjsrmkll9qjqeejplh9r+juibbXmbjsRqmnllNlnnrdxccokrreekkIillnlUUsennjNNkmnnImmXSSqggarllVggohhjXXfllPiijnnstdiiiddmoozzuwwiou330zp77911+//99/xx++j65ooxyt22qqvvjvvrqdqstsZYXXddYooooqqkkbiijjkkuuMMeeQXXllnnnovvlloorddiissqqkkooVVPOkknnHHmmuunngguujppaanw04661xwXvtUtQscturvqmfbsowomWugspjjVeZmqnnkaqrujejphhqqjiqgpollnhioivuzEbOnilmldkinwqtihmIjjqeikohXmnfWZrOdVVYoaepnkdod1bpssti/anbrutfVojgqqmavpliivjmqrbqq+opmiisopY+r/frbllkRfoqXgklRRgQnnKnxmmmoqqgmeeikihorookpPPhkksjeejllnmmiaagdlljggrooellchhiMMheeijqkklssyrruusrrcYwttwzl44611///99/3366p06kk11y00vvzzsssddkpnxxkkhhmmUffmmssAArooYYTThhiizzkoossRRhhggfgiifttrrxxjjTTmlllbbkknnoozzqqccllrrkuuttc01253zuypyrwtZdmxueoorVnhpZlifinphpdWdojsIrjoohcomgpXbhgsUjkjnigjpeuVlbrfrmmlrrjlobZqecgbmUjjdodijcxgnarhkklaawuRalgrtRr3UqriZY/bfTxfqcqfVYqqgUrbbiizatnkTqq8nnRVVvoje5q/srZhhhikpsdpuojjoihhmrxCCqollhnpplhoohflljnkkikklUkkgppeWWennqnNNmbbappiRRfPPbVVimmPRirrVaaommrroyyo1444wxm44633//////99++k18ooyyxuuoo00nvvffbrsvvbbYYrrveerrnnYYgddttjjppjjllinnooccffxxstffonneemmjjbbppiiiippiipprruuhhiieebpprrrx12353zygwqurfUntdWstxdVgzmedqdLpuXrkldiqqfqorusfqokdddjeonrqubqgyosqohqpmpttljZjBegpmfltslllmmccSrhaifhkvstAAtlQgbaIggp1gwLmmj/TXfukndokrmZZbhqmUggyVhphpVV7rebZZkibm9r/xhYddRoosvrhqnVVeqvvjfvhhjnmmUjhhipTTldggpflkXddgXZZnmmTmmeAAVnnnissellfnnnnnWZZjjjhjjttgllYrrvvvuurhzyyx0u771yy//////uu88r58jj000rrtt00pggnmdrqxxwwAAiiphhGGmmkkTkkVVhhjjggppttuYYiissoolluvnmncdxxrrmmzzWWaZVVhhppnnqqUUjjssVggjjk034550z0qwusvpcmgkqjuimuiwAjV0meqooglabDljtZksUfDtVeUqgkboVpivhwtchlqseldaTsptdqigjnoWkcomfjjmajknjiremsZXtjhhopZgUamrmoxlojeoc8jniuqakmTseaammwOWuuvXdqtovv8lgqddvlpW9y7qmrZZjqhmqUwplccarnnWhvkkmbkkhbuuTnddrbqqpnllmnnjghhpddejjmccbknnjvvjfflfflRRgXXjZZpqpiilggmuuuutxxgjx00wxj88611//////xx88x52mmyy2ttssyyneeiiWptppqqaajjUbboovunnfkkhhiimmrrooXjjmmggZZqqQQmngmmwwxxffffqqooZZYYjjSSsstsuujjrrraannpy037541upznRftssnunworhcqqipmmljvnsdidogjkhvnithlrnmbvqlhrjkwpphrseinkdlogujErdhcRgnqllshmekkkdoqiskonibngnFSSYjFiVglkln0XQjjgh7lYjuZlingQdXXlprginntAhonrgg+gcmddkfdV8q7ffYssSCgbrZkvbppiiVVtrziijkqqTippifeegjwwpiaagjinjoomiiiccfaaknssZAAjUUlZZlkkfiiQnngizmmroodppzzwvvhizxxxwl336yy///+++zz++fzyoouuwrrvvxxoutrrvxsyyqpkkoorssmmrrssZffddYYssggqqZnnjjffjjnnWWvvnvvqqttssJJnnZZqqaaoosseevvhhkkppPZZddly1467311kurhqnnjtrmz2kcYooampxsgojTodnifiVnkcenezmspjjTfZusihdftuTjqmqplqnoojgagjiWqupjgaYqqqrUmoipufpQlahflkkskmegajggd1ddrahb9RqbvnnpZhofhhVjwksmmwnmhqkoo8dcmii0cjj+u/oXncckpsgvmbspddnijjtnyccCfttgekkltiiltnndrgglllgjddollUnnlcceVJJirrdTThbbgggUjjeffWYqmmebbWppxxsssQgw111yk55722/++///11//065nnwwwwwvvttpppRRnsqttnnllddkggMMttkkniiZZjjkkppmmfmmXXsseeiilmddpppkkhhYYnnppiijjllqqssvvuuppllwwoeeuugz17581wwjysjfqZc3tfqYyutnmjvnlnQwbeonUmmgqksjQsjcnoNdlkrlhihckvimnowqsrcmnlnkjblpppcnYmhrhrbbjtifiZcdggXqgrTllhpscmiseuk1kKebrs/ZhmtdiiqfmZggihtaieewoltpobb9npekkckrd8r/pqqqqqhtmugnqkqqqirrhkvqqjXnngdmmpottkkggReooennabllgkkaggkUUQonnfoojeeshhleeeZZejjmoyiit00liivvvvvrlxxxz1t554yy/////+1177q5/rrxx3xxvvwwsqpdcxytssqqnnoobkkjjrrjjeeeeewwaakkoobggZZopTTpptuoojcdppoo44jjttkkbbkkllttiinnppkkqqnlliiow02/80zyjusgjqmYtvulstslwvkskipk2qeWeimcZqYrjtmbgltqhsMliNznpofuiimjwooxpbocajchhnkploqYqlYkkoZfstdZlhrgegpmgggkelinmgij0rfpijr7cfiraVkkRuhnnpeussllvAmxgYqq8solllvngf6n/nssRRkhvltpdqhmmrsqqqqwggmmddhlqqniddmoaammhhlhhnnffdiiiVVMYYpneekssWaagjjMffpHHkAAgiohhneekoorrvvvipyzzyzg88500/++//9ww++u66iiyyvvvyyqqdppkjswtuuggiipplkkoottccUmmeelluuppttYuullhhjjookkbblrrmmxxnnkkyysrffkkmmKKppjjmmnnjjlgghhovz3581wsrtuc2qtdrwfjyhkmswAlsnehqgpnXhkhraepZkjrhuwiXpXuVemQmjpphnocvhbrZeolkllsfglbpYrienViiTlStUriqfhmQZakeeijklSjsCge2Ylknho/mpjscghnpteNNVlxjTggzRiitiee5cZyffcdpe9u+knjVVnniotofslddodccgjxeeugtteWuuqqVVVkllgcmmVaalpjjThhgjjmWWjkZZlqqlppgoolccQaammmdf0aaYppkeewwuttgox00zzn44522//////33++p45ttzzx00uu00mhhlkZmosrhhddffrmmddttkkhoooobbqqMMqqiqqnoeekkkkggVVuoommoossrrSSrrkkeebbeessuummhhssnmmggsy376610zcwqpenqpqltogpqpqmnjUpeqhihrscblqHbkiefYbplWjpfpopmhoolLjLqnYkpbdpnqtpRdesklpnWiauiiimmctgmjbnXnZsapoojmWonliknezglfpWl9elewmormocnddmgvmgaawltXhjdd5nuilludjV7r+eYpPPlfvjsorjallkXkkmnyiikolloommYuYYZknntappTqqzdnniVVbddlffojddgjjRkkkccmVVpWWjiifgyooduukppuuzzzqotuuwzt66833//////0055o+4qq22uwwwwuuhqqhhsusqqnmjjiilooVVvvggjkkttaaSSeettjrrrraajkyyllhhpuuUUrrTTNNiijjllllrrnniihgddnnvvottmmhw2457211qzmcqeInvyrntkoiordtaobrsfkQWmjefohsnhtmmlgiHSrodnqnoemWajnhsxvrjoilsVYUklherfnSledmmikqhqYpmqlocnotffqkhkbljnjfximahmf+gqbtbmXTjiqooiuwsmccwqjledaa6hiqoojois/v+soeZZWPmbsktogllmXwwgavccglnnWgccsloojkmmohiiqggvmffnssliijkkrlggmoofttijjemmjjjnllvwiNNduupoossvssWjw00zym882zz//////ss//s66kkzztqqvvoooppkkisruummRRmmrQQooaajjkppkkZZssZZkkakkqqaaeehhmmkkkssaaqqiijjttjjnnppkkttmmttjjgfvvjppmmcvy78733xlzsmssgUidovgxtlrukkqfYX3sjlckpinqqnnmrYkorUihfrrsirkjkhlWqhguogublrfbVmiVhqpqugcaqddkMiweljWpdgKmkkLLpplhrpkkkYympoean/VicteRonljippZupmlPPvtlLoVSS9sWojjwlek7p/usmhhpctlpZleqpppvjjtwsYYrhggMoffnrqqXqlljcmmirrHmffZhhbiiiggfggggjjeuuaWWfoocooNYYik0ggeggmjjvvxyyqhwwwuvm777zz//////44++s46WWqqw00yyuulwwggjsuxxffppiiuaaccttddgnnjjbbllmmvvaffrrppTTrroosstppttqqZZccssiiffqqDDYYggqqJJiiXXjjjsstuz69734ypztytmipqjlzntybgonqQjfimeNgthmklUUlnfgYsiniYmMWnxctmuqNuxcgnqYmsfhqqfduXjodpkkdhgojjmjolhlpirkjergkcckqkZTbmlkowVihpoN+fmnyclStu0giirjroTllznhiphcc7sqOmmfqmq6p/pqnUURnollMmlleehQjjgmwWWfkooZnooXkjjVkrqPkmmjttshXXimmdppbffmfhhnqqknncffghhYIIhkkhj0rra00pjjyysvvhw11102l88400//////3399oz1ttzzuyyssuughhnnxyqwwnnkkeerppssqqkkiqqhhppoosskkhaarrddwwrriippwrriiffnnvvllllqqVVqqyyrrppffmmqqejjttpuv697332v3uhtdZmlottmpmrlvslXzjkneflrnlinVqbOahoKmXnbpocbnmeqmlevpgMokpnorenrobdkSopuVfePkseenfjmYRqgfjfphhliijhgdukgZijzdqffwh/WfeuaXbfppoRRSoxngkkzksXmarr+kqqVVismg+s/oJrvvkkWrqfTCWggppnnLgwpppqppntllpellmfaaiollRuucoqqgbbniimcchljjlooXeekffpllnVVhXXijsppYiijjjxxwvvgkyzz0uc446zz///++/1199S99ccwwxyyppssmvvjienruuRRcbjibZZttnniimuukkccssqqpphxxooTTggccddwwfttnnddppTThhrrpommnnttwwwwpprrlltkkYYrxy9+644zgwvmaikwfkokytRrlfemjkinvenipkcoagmrmXrqdcjXVscioulbXklkleJuggNmZrbnQnogoapVopchAjqllmHehsqjlSflWZmhZZlzhkdknhXnzmlacqo/OZivheampmeqqmnvkbjjziQakfhh8ufakkmkpq8p/vGkVVkdgqskjrZbbjpaaniupppXiiYhffboYYkZnnjckjdmmgaWWuiiqeekAAqZhhYssYiifMMrddlddgppTUmddewwsvvvvurro04yyxvo558yy+////+ww99d79aass1uuuussWvvppsuozzvvllkkniivvjjllimmnnppaaqqffSffddggnnnnqquuniiqqhhccddssXXqqlluuaappvvjjuusskggoojuy99752yhyrckjwoiucStcnrrsLBlnemtqoXfbfjfoqrYttkWctjdeeUjsnbqonkrrqmomgqRiXZtsflclhjyiknngenncetaWhjnfjignqJbbfnnlUYkpXnzhjlVki+XhjvVtXkZrmjjlrvsaoowccRpokk+bsrjjkjig8p/xmskkfhmYvfeukjjbakkpnznnrmnnHnRRkmsrlpddkokkbaarrjjmhhrZZaNNiXsscqqtGGfSSjddkMMdooIKsnnnffdnnvvpuumovyywyq556yy//////00//x7+uussussssuukvvoortszybbjjSSRkkbbllsrhiillXXjkllHHpppmmeeqquuccmmrTTssnnrrddqqrriiyyhhjjssssoohhoogbbNNkyv558723wwqopygaoxhnrpUcnqavpufpqkloWfhflohtjrYIdXmkniaoostpogjphupypyqpgNapZitUVUmprpVQiXiddkpamjrgmlnqtdonkktobjYcklIoxTpwlrj/ijfvolispqgiikVtmhnnwjfmrhjj8igoZZvojl9s/OijqqjlnvuojmqYYjcSSnltTTfjmmofffpxppjjiiltmmihhbkhhjiiglliiidimmqooCxxoppkiiqeebggfhuttfffjeevvxvvmrxwwyud776zz+/////1199m24WWxxxttttuulqqlksuxrrqqiihheggmmddeecssqqddhhmmrrltthhjjppttffmmqrrkkooppllppuurrwwrruuqqssmmrqtthnnggswz476363hwsoxroggyjxxjjukulbosmmueofioqknpgdblhpagmjkjgphrwPkrmlldqhmtmlwoqeHnjhhheTntkjuQojjmSgjpOxbgkruaqkhhhYebkgmitezPrliXf/ofXrfmmnoedqqUpwhkqqwmmmglhh8pfvddmmpg8q8vfmnnscstscYsfhhRkkkuQvkkVkoohqllqnZYggllnkqqpffdabbjrrgmmYaaeijjFPPegggeeVffhccdiinooggUllhqrsspvveSruuvxg77600//////2277195ffyyzxxrrvvtvvcchut00gfggoolYYkkssggdjjppkkjjZZWWpddstpprrnnUUmmoggddkkttjjssXXmmooaauuqqoooohhvvossnnhyz577743uwuloYpj0tcp1uqxovsrisSouajVseYhoqhrqiseqqomhsdnftmQpriXqntttwtrbkokjmMioWlmpXtefqnccVhZrhonorbjfnljffdfodYlmgge2mqikgh+ehoxcpZvnkohhoowEkmmykkihUkl6pbrffZmnk6s/sklsskeontXoorootlUUunxqqhhmmehNNpwhgoqrrenoopnniZggknnoVVrSSgXRRMggZkkmjjnhhnddippqstrrkXYtstvvyttlpxxxw0n884xx//////44//q95llzzy11vvzztzzXWgppsskkjioorbboommVVehhllddhhllmmnllnnppddZZllnnorroottddeeqqiiaalkrqqqssKKllvvqqnffWWpuy458612nwtssnlilr0knjlqoxkppilp0knkhAgqspgmfkiedSpRoqtntuXopkjnsoxdewcwbfkejsbklYikrtmXsrchhXjjcgorZyoqioboggudgcghujckzeoctsh/pekuomcoXoJVVfltMfhhxwYJlbbb/ogiqqrkin/v8tgdWWhduSshiyrjjodvvfjtqqZnjjibqqZikkgYvvNmhhZZYeTmmcnnmmmVffYYmmPmmlooFTTnmmcmmkiigitqqjhhroozzxyynkwyyw0v444zz///++/2277W65vvzz0xxuuwwZttjjcpxppYYllnnsookknnmmerrhhoollnnqqkccooeeoocdlliiussppiizzTTZZkjkkooggrrUUvvZZppppruukkxuw46677zjyqspijfymrZiotjqvikhxdrrefioogfpYqqglhlsoBmPkoMjlphppccevmblqbszGmsntjgpcjmokoTurjccgUfpVhWkkornnamiiokbrSkjnnS0mtZfkg7khYxXjjrpqfmmdcysZhhxlsptUnn6lljXX2efk6s/qOmaaQkunuhkihjjsfrrncyqqiqiifhllhoeePceeiGlleiilXmmoqqjggiffqoMMkbbkmmeddqeedgghjjwxvdeimmrmmyyz22coxwwz0u77600//////2266x58ppyy0wwssvvjtsrrenqqqYYddhhrjjooggggjjjddooZZuupporrqqmmjjppmnvvZmmnnXXjjccsssskkfflloottmmFFvvoosooZZquu37662zj1sqzwrphqwfqsoqatkxYltruimeolIlZiarXqnrnqmneAVqchmipilUopUzsuxyeUjlkasehljjopSkhpgqqqUYunofXpgcmnnPZZrVekkocMipyhtlhtq/lYduosjmhwuPPkntnhoourdjwgnn6gntqqoqjo8s/lmqpphoyerhYYmkkhQiiKcxggqmqqhohhiahhciqqDfiikWWgfeeljjebbXhhrVoojggjooJoorjjfZZgZZhjqoojyymkkuuyyyok3xxw0m884yy//////5577k93oo22w00vvvvhuulktwrrrlljjhhqmmddggiifoollhhqqAAjjdkkffjjVVppmmuuxuuccrrssvvffjjWWttrrttmmmmjjcclljqqffqtv68762xryrhsiuljspkpi3qslnYgtWiuwjmmkoVfcLrjiVjpwjdYmbsoUYkteldqijivllZblqSkroUphYeojjYhkshhKlnpOomirZUdqqcbbsnilpTlojNzXpnpih/pknuvnMrYunffjpvjjllzkilnVpp+VeZjjrrmk7o/wrmqqlgxYtppknddggqqnh0aakbiiZlhhipssmpxxonlljXWlghhihhblloeegknnneeettUSSoddIWWohhZbzYYkqrivvwwswwox0zz0wk55622//////vv99u74tt00vzzvvzzJaZmlfopppookkbbZWWjjiiUUjqqWWbbuuMMiiYhhllKKmm01SSrrflmXXsseellffWWbbqqmmoojjiittTT11ukkccLtu4544z0kzwqhljuqtrmvtocf3djtubrzeqmkocLclfrgebojqqXUqjikiwYqrvSQlnbgwouqjcjmpnkcZjkqndZcoWHHqljgpdmpmipsgpkkkaTUhhbhKdnzdtpnVm+jtdrZseakqskksnteYbbwtgcjlll6pkliijndb+v/lvtmmpaUnuoTfiaanfYYlpvllqimmkgttlqllnirrlhnnbccXdggettgkkjiijlaanYYleefeeMooQWWVkkmomhhjuumjjssz00gqwvv1zr665yy//////44//k38ss11y00vvxxpppnnnrtrrjjggjjkeeeejjvvhuuaaQQoonnllhZZhhZZXX00iirrpUUqqrrrqllqqmmpoqqssjjrrqqWWYYjjmkkkkmsu57910vstrlrpivpylfpuqhbpjsgkmnrqkthggadjnsfmqhohnomneldTqrirelnatimpewpedoAtnrjkgiptbdkeheelnhiatdKqeimnacffnpljeejloh2mqhdjn9YYmuVvjxoqnnnfivclbc0rtisjoo5helVVcnjX/t/gnjnnlknmujdfpbbXgoolwziilqppdpjjOleeagnnusfehVVkViikqqmhhWiimlggMmmassuiioWWXeegkkhjmklTvwllluuwvvkgvzzt4y334zz///++/yy99w47jjttxsspp00rppmmuvvnnllXXoovuuedttiiVvvmmTTqqjkllqwwllppnnhhrrmmXiippiisswwllooYYoocbeeppmmhhnnccfppDDhxy5853yvtyositvqtqcEqqqcuxtcstkatppootoiinhlngkmUkinclHppoigqnodpuqpptspcmogegknhorbopkVZPkkkdjikhhsZiWthdXmggOmcYdhaidhyRmomii+dggsldkkhqWnndc0apeeuPbRiill9olobbsoia/t/sjuuumlpctkgronnloggmmvqqOoqqlnYYsxgflfffaIeeZmmljkkjllkRRXccYSnnluujffePPhYYaWWZiikmnpqrvvpnnyyw00aj1yy24v661yy//////5588n58nnxxzyywwzzdhgkkgotrrcckkjjrhhQQbbeeeccggnnllrrqqojjQQUUXXllpp00sYYggssjiqpjiggYYllttiiuujjihppnnpIIDDmw26642xzovrqjnrhwZetlpvklyZpqkTppjohrmiknnlVinjrfpnWhbrRmohpdsmsfylVorevqVegcnaUMstjtliXernWWrkZsfYrlpWolMrgVVkmmmfMnhmvzSvlifr9YiXurkrplkmkkfatnPllssequann9qifooupfV6o9mjoqqtngbtnopjvvXemmgbujjidiiqkhhrsnnaleemulkQedndooehhhddoggomaacWWOrrmggBrrjSSZUUvxspphvvykk11uvvesxyyzyr33533//////1188257oossy00ttsspqqnnsxvvvqqrrYYjllookksskhhppghllttffpYYsshhqqtuijrrouussttttdd00hhrrccmmaassttookkppYddxxizy3150xxpxumnujuveiaxompnclkpteAlpQlhemhfmnoYjVUmWldamhlZmnquksmoqspokoblhnhomhksHotqpuQcngXXZblgfYtXlegqoagYYexfndZkdTixUsgegf/nksvUXeiYqhqqjnxdcppzjTlYZdd9oTlXXcSoi8o/peNooVojpvlkgkXXOjpponxSSenaanljjjxiieaVVgpOOckkgjffjttjPPeffbANNeppWssqkkhoomZZlhh01kmmKbbUZZrrsvvrn1zz1zu665yy///+++xx99t65YYvvrrrttwwgffkklrvssutggnnqggssppiiiqqqqjjppjjnnlllssppuuvvssuuattddqqPPggmmqqmmrrhgQQrrqqXXrrrrZqqkkzy22330xxiysmlvkd1psownrjuwhueqbxytppliflWtiiomasOoJmUwogkkptpgqmohkudogmrUqroqtedmcmtZmjKgmkkechofomksfbNehqXXjjlrkbpoWoyVollwd/mmWvunpijUNllkswkfuuwTNlnXgg7ngjddrila9q9wqkkkpnpmxksirjjmnpprWvnntQppRgffekiiXkllsjffYbbjblldkkhddrooiTjjcmmjppohhokkkllXeeacviiZWWtnnwwuvvheyuuxxh77111+/////3388v13oozzvxxvvyyuvvppfoqoohgiillmtsjjkkTTemmkkffTTUUsslnnlmYYnnhiOOnoxbcccjjnnmmqqddddssqpsssrttYYggvvroorrqx022510vmwsnonkrutortqsmn0dicspPtcqgnflhcqdilhdrtnfoWtfspscoqklhlwtrspLruhvqomcibUcptgTpRkfWWsqWvSBhaecmbifpjjgbllrhqnkczjskfis8YjTtelgaqpgooSgthGjjwiplioFF+ppiWWruwk7s/scissTkgjtoYbpkkrpttjvuggnYffTqsss0ddWQoolWmmXoovcppappbeeTccgfeekeeXmmiJJmkkkeekrrprweeissueeuuurrnpwxxwzt333zz//////yy99y5+qqqq2uuvvxxjllnnmtwvvooeeoonddllttssjmlqqnniihhddpFGjjeeoorrjjiisrrpprrppooWWkkffvvjjggppssggrrppmkkhhqy114410yrxmnrkrsovkoqqhlusqekpVjfmlflijeqcrkblZrgliakmjppgTYnppemustishnfflohsphakcRpPjRkmaSSiaXneeqTlljquidUUkwpnafocNr0gwbWrl/sobrTkkmunSbbXouejhh0whsngee+cUnhhvVgf9s7fmquuoZqixncrdnnskaafptooqcrrYfsshoccdUrrbqXXgRRqeccaiiXDDhddnbccjKKnoonqqDccVkkZggbdxggboogaaxxvsslrzvvwwn77600//////zz99q78ff110wwssxxYlliilrsuuggqpqqniiddxxqqMuupplluuuuddliissmmrsddoonnlqqkkmmffffttOOooiiYYccvvLLMLnnvvtVVqqnz033311xlzrppvlfzmmotevhx0bqstRU4etsdhmkmeitjWpjmlqVhaNhhcohkhYaZsxZcmkkxcpreneamehnldkomoqaamolhnqQiknYnRjqTTotSfrlkfekyRZhfnl8NnkufspisndWWRlxghddwXrpgonn9njbggraki5o/irlnnehqeubpVxSSgeiirtvnnnqkkVpVVdnkkmhppoqXXllkqgllossdhhjffpfffkppYoopRRZqqqeeaWWrtsoopnnuoouuuttmb3yyyum55611//////xx99q/7qqvv3vvqqyytppjjjqrssbbaarrqsslkaaffcXXggppUUQQttjiiiikkjjttffmmaggnnttWWddssggffooXXnmppkjrruuvveppnnjwz267421m0ukaufOv0isqwwjfwomdojbvlrgjbonhUnqtgdmcdqpeanoSslcnjtnvworokhpshqjhdToFpljlgljsZpllqgduNlinXoJoVdfTThomZqhqqqqxddxomi/pglsYWiMrkgnnjstjfkkvWXpkkpp/nZlggrlhZ8v/urorrlcnmxjlsjTTqimmotuttscffdZeebiiikhZZrEgfpiijkeeollcWWUUUqliinllguumllYTTmGGoddoqpMMlbbQqqyyxuuhdtuu0wk556xx//////zz99l54uuwwxssww22mhgccrvsxxmmnnppooooopojjliiffggiijjrrlqqiissjjddoollmllttooddVVihmmeessnnhhqqllqqddppncccccwz433520ntvosxfjxulmwomrooccmtrpwiioaigohkflRfrSdTfjYhwOYlvkeRcrhqrltqtlohqwjkehijgmroqZsukmmamSknnoLhZrqTsZccmojonmjciezZmhkmV/VrovbhVgbqWkkrouoohhxqojmrii6phmmmusbk+u/qZqqqjrurvttvZkkoaTTuevppffjjenuudfXXgpqqncllnnnpnllraaVOOpeeQmeeioohTTjZZbaaeZZchhqrxXXbnnmVV00uvvnrwvvtzV226yy/////+wx++186fftttwwvvvvsjjiimqqvvrrdduuuooppvvkklggiiiinniizzfssiinollqrqqttjvvjjvvoooollXXmmggppiiqqttookkqqoggddiuw2572y1WxpkkdRolkeYgqshhrpsguditqnhicUqgqhmXfigfudegZfwWomlXroOnuydowmrpkhpjhqYfbcqvnjjYngggmfghjlosqjkRlSckkonfoenmgfmyhlnjtf/NmZunfpkhoSaablxijhhwApdphaa7qjommrtfi6n+WqkooefmczyVwSmmqjVVXmsUUpcllaTllgZfffQiihnmmUggwkUUUjjYkkjkkatggjXXgmmlXXiaacaamRRqsueedyykeetttttsv0000wg445xx//////xx66c36YY00x00yy11fttihAqpnnnnllhhonnnnkkffihhVVqqeeddZZhuuqrkkeemmqqrruooddppoojieeiioorrlljjmmYYffooeeOhhmmix156322yY0uurxtkzjgmdvntx0ojfzddwhpktYlcTqlxYtjenenJbhgnjnlhkqmqrqqmktntZfYxqmojaldjwjdcpklbbqjhthXZgkiiskbammmpefaffpYf0hmulpi+kQUrrFkhmrjhhnsrlikkvZZmcmhh7djqbbkljb8p+esrkkniHawfnpbkkfqffemrYYrgmmhbffhrhgkeqqsckknaapnooollniihggjYqquggpttLRRommqjjXppfhxssmeekcc00yvvjlzyyx1o55733//////5577r/4rr00zrrtt00jVUqpuvrttlljjiijtsbbMMppleessnnOOeeppcmmUUklHHnnIIcdjssjj00ttXXrqeebbqqqqlluuTTaassrrpkkvvqw045420yrxxkTtlxwutoTjuWYshglzZi3qcptmiPellnNgjsreeekloqjjdoitiWlqqpsmlsKjgoqhfqinrqtqYepbTYZpffvemomeWbgdrrhhnUeaklsXjn2Urkirl/sWfqqflYgTZUUhhwikZZwoorgmJJ7hfeddVevt7q/ljuqqhilqslSdmSSklppirvqqSkjjofppUdddeYrrkkmldiimlmmliijjjibbkZllfmmmbbknnJkkghhanngirWWkllrwwyyvuuqqxyyvyu554yy+//++/ss88t55ww33x00vvwwZpommuvnvvlleekkrgguuuuddeeehhMMqqffuuskkccffiiqqggppqwwssyyxxjjwwmmGGyyllssbbYYllnnyyleeUUvw01531wyrzplwpkhzmvhzuaXoupUZldlxqjYglnWmmjpaommbsfcTrTlYsebpkiksrvnnpnmrnoooZmhpfTltigknmijjtrogfffkiairgdiffseiUolmdmrxameVkk7uobuizfponRllfoutlffxklkhopp7uerttrgdp6n9pquVVoOkuvqkcjjjdbooinxllYnxxgiAAepihdpppfPhhrttjorrZkkcjjcddvlhhojjfffoooVeegccnjjbdorrfnnlaavvxwwsszzz0wj445zz//////yy++p23ppyyvyyvvttlutjidswnmrrkkmmqllqqppggieeccjjppvvyyorsSSffggXXabqqpmmaajjuuPPbbaaiiqqrrgghhlliiuuhhhoommryz234010f1pQtSfZsvtnws0uj0yvuvidweloracGeotoTlegYolggTfhfZupVckosuqctwoxntoimngfeefkugjnIjmkkNEkoVqjWmcdrqmfiiykidvllPlq0icoism+iTdufohdigGkkaivhpKK0ttsrfnn+ccnddbgmj4s+somttjrequpsoqaailccrJukknekkhgppdennnfddksrrpffojhhZaapccchhetbbjttoffkooZlljddZjjXZvWWfmnjggvvnrrYYzxxy2w66511/////+11//u34ssvvu22rryymvvkjktxxxRRVVaahiiuuqqddkkkppffggrrbbjsseeccrrqqggnnuijvvxxttkkrrnnggRRppkkyyffkkppqqojjiirz04021zuq0tZpmrmnkjnlqrOscsdonoipRciAagRUhqomsNiiOdWZkgpknodpdWodrYwtrmpntoksesagmqlpUimisWffhTpohldklWgSfomiiwolpneulmcyiljhje/djhtnjnppbgddjesVbooveiqdlmm9nppkktjjm8q/wvjjjUqbkxsgpnaajsXXoDymmeqrrmlggvmnnoUiiqvmmkiiomeehffWeegWWShffqjjeqqZjjmhhWTTcWWoqyuufqqZmmvvvuuury11xvj663zz//////ss77v53ttyyrwwvvzyhaZaZstoqqiieeggwSRppssaaTppddkkqqqqqqEnnhheessjkRRppjttllssppiiqqmmdcqqnnnnmmSSppuuqqpiiccoz0y03zywqvsoqptmocqknswnkgnnoqrmlVnicilglkhaXlggdpslciibmpodrkrqqwinpppjesdqkrkmakaesndrlmoIIjqafjqiZkjdkmjYqqlVnlupqhRf3huuqqg9XfGrlnjkmllbbctuohYYsnccidoo/fnfooRndb8p+dnZmmhUontKrpjppijaaterZZasddnhccsbhgcoiihkfffbbkWooqddYffqUUgtrrdddmppommjiiPjjjqqpqprrjyyoVVyytttkrywwyuj665vv//////4499t53jjww5xxtt11nOOhhjttvvmmffmmsllttqqwwippcchhllvvvvmaappffllddoosswttccuuuuZZdcZZwwxxffMMnmllnnnmkkqYYddlw1z131yvrytusktZsomspvsePwevsraqomnnXhZnZmfhdsbgSajkdfmrjcbbmprTikZoekLmeqrbgmhlijlmrkadrpcmmcnieYgsdshhjiuVjjpjoqOUpZpZyYnVgnd/nZmsUkijekqVVgswpYkkymnsofjj/oUsffplom9q/smoppjooooeoglggnhyylmwccgeppMpppobrrmnqpkfllfiikZddjooZnntccfUWWZddjuunhhhnnfUUfAAnoXkkXddhhhqq0vvpkz11x2y883yy//////ww77x3xnnyyyzzwwyycuummmsqrrVVccooihhjjyymlcVVkkuueellrrphhZaqqkkzzppqqsmmYYzzggoosskkkkxxpprrnnhhaakjjjewwggoz1zw13zzqvskuwgylpnAnotvmljnmyffsdoklhOeTrIidmjgqeeVKultbpllenosUpodlpsspldohNvikganttmjqdncccsndeicgifngfcpkknikQcMYoVl1hknkid/ifltwdemlmnllTpxVhggyqjkcgdd7kUnooneiW8u/OhWqqmlhYtIepriiZappksvhhdqllebqqihmmjlwwpaeeflkgoccinnWbbWXXnhmmdnndxxqeephheZZeeeacteeeppruussqzzplvzz2wp664119/////33++i57ss00vwwssyyqooOOUknwwVVmmaaUjjmmqqffkllppkkssnnjjjyy12ooii11eeuvjmmhhssqqhhXXeedcppjjkkmmuuddrrqqdggppRwzy00431JwxtvimpvjLprkqoitlmjsQusundrmadjgapnjmeXmgWjhjfYosphuXZiqqmojkuwpffpimljmYnoskirjfkkdhacpdoWfnglmnkeeppbahXccemwhrkhxj9bflsnneedrmjjkWupXoowhevPlaa8nvqhhkreV+s/SiittiojstpkofnnsiXXykxhhnmkkhlggpvhhiNkjVsjjZgfYhppokkrZZmjjpSWWcrrYhhmllRiihhhbdddfnllgssseeyyottpy100v0X33711//////ww//c31HHzzxvvsszzcssXXgpmrrVVkkXXuDDTTqqllYbbiiYYwwppggnuuddffjjkkYYXXjnnkkddssggnnVVllTToogfjiooYYssggknnZZyxyw0z2y1gxtckjrjpphehuTdwnwrjNqjkrlfWegqimhnatkRogqhnkjpUdtoYisojjrpqsjtohmafZkiiXcbrlWdoeeiikdRnOlsfbihkUOijjmtddZXilmmzetghed+onVusZWkqssZZrhuVRnnwWijblrr8ejqeeplqn+t/sgyoolmjjrjomkkkWjiilqurrkoggkjmmmqUUZfWWhqoomiiZvggknneZZoffoZVVfccqiilaalqqeggWhhuwxgghjjWKKqqtssqpwvvx2z554xx+/////1199U74mmyy1uuss22ollhhvytqqXXiiiivbbrrqqhhWssgghhoorrffc00SSkkooooLLppjssttrrnnmmwwppmlkknnrrrrWWssppnnqggkkpt00y131vltvncrrluinlQauYpzcbpRjgulZosiRfXpbgdujqlieonklghlcoqhjreafuqYgonWpfpiaWalhexqohfkgffqlekXdeippZajmmjjvpegcfofSgzXmnYic8lgjvnomqXpnnnmkvjiggufrhucpp8wkblllkgh9s/qcIttYkvswtrglrrgWllPezlljrmmmmkkqpcckXmmgqiimggdXaaommikkRmmgennommjmmfiipggYddokkabmrrjqqtiiwwxttspx550xb66500//////7788y64rryy3yytt22fqqooippssaaggttoggjjuuhhgffccoomnhhaaajjkkmmttuuhhuutz0ffjjddKKUUggPPkkuunnttqqhhuubboqqWWkvyyyz2yzmwsnfnhnoneqjkugYjdkOhsezJbqfNcfgiggmohFpbvZiVcekpsWjoYVgnrukvuqhucYdkeoaZgjjhWmXleppngkpljimlZhmlrjssplkktpgplk4ewkqnT/ffLugkVrkpfPPWfuoKoowpgjlgqq8qpgeehgoi7s+nswttmVumtJktkmmTUnnonwTTjuoofNiioqnneellkSjjoiihjppfddPppgiisinnnuucssqtthbbbbbXiiIKgkkfUUcrrwwqzzvrxyyxye664yy//////44++v62nnyyzvvttzzpgfnnuxnqquuPPmmqQQoouu00fllhhnnSSmmqqjppssooffttccxxkiiaawwttmmnnmmhhmmqqXXssttcchhpptllYYmw0y3045vnvumvscvoitmnnuqd0YcgmfmvoneiWVgZmpsmgknmaoanVMnruhnkirsjpjnpzYpxXfrkskiflkTscjcbnmUUhWNspnPgrTZjHsYUUvRjVnhonknyAuIqdq+icktslYolnmffgaslpiiwdjWikhh7Rvtccqpbq1i+gplrriooitljoshhionntouccljXXcnuumnZZHlkkdwnnimmlmffgnneddfWWgoggdqqZiieccbgggCCdiiwyqkklvvwoo22uyyoz1zzuyp77600//////yy//l36nnxxv00ttvvmuurrtvxoossVVXWsqqqqtteefkkZZggllmniihffnnssuuKKllkkituwwRRqqGGuuppggkkiioossooiiVVwwjllddgy1z10311qzvxsnicxmjvmmkqhoWkstbTytmaudnkJojirorioajbDpepIlfiwlkmnyptmrjqvlenmtlYkicZnkijMbaijrkmuhYcZVlTmjbcVVnueckSqhni2mtfkpf/nelumieoiknIIqmysXffvgmtgehh9nmnddYgeo6o+pXreealtvzwadqoonmllcmvllkfkkneoomrkkmeoogijjWkkkgZZoddattaggbommWeedbboPPpaapkkohhnpukklkkrhhyytwwvx1vv00s55422///++/1199s/6nnuuyyyppuurnmJJqwswwnniiookffnnWVjjiwwnnttnnjkklTvvvwVVnnvvddiiYssuusspphhkkjjllhhmlmmnnkkaaOOwwZllmmqw143323xowrkwiqrelkfjpxfevqijgnaymfkabpkJquWZpijrlgdAbpmipeldtkilloshqkZqXclZRgpiieklpotJmXjjjgagYqeSjqcbklXQQlqcndQlrjczofinol9jfitWrlkmpsOOomvWmSS2fnbvGll8vfnWWakVV7p+eqtrrslsvqYjuoeebVrrdZvXXiTnnhkeeddqqomjjjonnkooodaaiaakXXqnnbbddmuubZZfhhUgghWWcggnpzXXVllmhhsszrrts1zzwzh44900+/////zz++Y43vv33v00ttyytnmjiYorvvffllkjnkkaattiiWppZZllvvllllhpqnnghttvweeiizuummoonnhhllMMllqqmmmmjjmmccssqqieessrz0534541rvqnudokrnlptnpnqrvnkpgjndoupoloRgXohbblelihiortjuefknnkqiptngjtgldldvqQpopAqRkiogQnnbilsZaojjYLghrWXXtkjphkinlm4eaoZrg/bLdvcerprcRlllnwbeYYvhpqbnrr8lptiihdom8q+tfWjjbTmttnfrukkkYttcgxllajggjnkkcusstmppqgkkgXXZammhkkOppQbbifnnnooooomiioGGcggWiijlellgtttmmxxszzop00011x33411+/////zz//e77hhyyryyuuttguubbmtquuppffooannsrppnnUttYYjjkkwwiiixxuullllmmiiuuhjjuussttHHiioomlqqhhzzppkkttggVVleewwnx2481206tvttrpX0quuOuafsqxpiVnlkunlZlhdkauqQSobTqiklftWjkgqTfomeftosironplnighneNqbgtmeeikgggsohmfpftbbnhmVlkkvjRjXmjYcP0Zqdaqj+ddctjgniloiooosvmeNNvqlruWpp8qhgXXojrh5m/rhtnneakovqnjZmmhZttjpsllmtppiXtttqOOfcmmmmOOnmmmThhkttjccnbbrqnnhjjdccdjjcggqTTZhhqs2oolggviiuuuttptzzzz0v334yy//////2299k3vrr00yttttttrkjmmjoqttllZZmmiccssrrjjUssQQjjmmccjjqVVsscdttbciivvzuuttuusrhhvvppllrriiaaoonnpprrsspppccbww4792zwgwmgexpspuqtlprmRjjsluoftiqolmgfqXpskfmsbfjqbgfqbTnkqgqglsnkvoiuvpegqnNloimgmqjreihkkugkosonlqalpigpddongnnlklhk0nfmMpq8YlQokegkssbiinksxUBBzbhUeaUU6vlaoofofr8o/tcorrikldwsfoxppgLssnHscccmfflnrrfdccYYddfqkklpplqbbgffaggiYYpChhjqqiaaRkkgffcllYhhfhshhnyyjppxxyuupw2yy0zW66411+/////0088i74qqwwwvvttxxkrrnmqtmwwaaggZZniippnnmljpprrnnsseeppcddhhqqhhttllrsmuuuuyyrrVVooeeoohhjjggiiYYwwssmmrllggcwv6982z4fwtndplnspotlrosdoNnrcfYrjgmlbYAmmsrhbkUcoaiafhomnmVhxooepmwrenvjherrpnhjWqcuomfrhkSSlefnpmLkpiqJfuseejsakjcmaatzfpmZcZ/VcpujofhZkXZZuotejbbvaijqmjj9rgennncuk+t6iqskkkjojtlcXottGlXXrjvoongllhappiahhZbnnYmffqkkdnddgnnkiinaaobjjnllWbblbbriikjjWnnacnccjhhPjjxxpvvinyzzyyq66911//////xx55n27qqxxswwqqxxnuuddsvtttaZggnnljjccllkkiffoonnwwjjffmqqssooggYYggijivvoommXXkkvvqqjjddlkvvssxxeeaanntZZWWotv46830ziuolplZtzixpswtpp1mstobmtktiLjedfikojiRflocjlifgnqoSksnfjgziiqlwwhtffclmgnhnoenfspShhnonLSgjjmjTlqmjddhnVqbeojWkydmhngm9iaospjmnneiSSejsmoXXxnhmUmjj6rimmmficr7o9mmmGGjmnhqknrukkflbbidxhhcpffmokkifffibttZhllndccXttcqqcRRgjjmgttdXXVjjSOOhhhWiihddoqiddnllnoo11vyyqf0yyvzu113yy/++///00++t53kkwwwxxvvwwrsstsnrsuujjjjjjieeiibbddgffppiiiiOOuunggmmeemmnnWXwwujjppwwcchgvvkkllbbkkvvyykkmmlljjRkkZZosx53432yfxqozhIZwrvmjrqjgtfnfUpfnlbmhSairqgqdiqpsouegTApqhbinheWlkipmkipDrmnvnrnefeirrillfjghibdcWachlcihorckkcnhgmVvBlizihkhlm9gahuWnqpidZkkVkwepooyslqpijj6Yjqcchnfs+s/trappkmmqtmicneeebaamjuZZppWWhobbftkjajihfmffmnnrZqqYooeffkgghmccieeUeehjjmQQciieffrtneefqqmkkyyrzzlv1ttyxT556ww//////vv//s70qqzzzvvrr21jonppgouqqkjnniiemmkkbbeeohhoogguuooppbmmwwVViippaallmppvvttrqmmuuooggRRjjssssjjaaqqnnoiippctv3531yvb1qwhqhsrnWjmVmocobkmrgdvnykatqfgifgajqrqroIhgnnVijnQYtphwYddoiolnjmertmtjommrlhTknhhjZgmhchUsnnnmkhhhfflQYcqmmk0cymFYp/aemtpsehFkibbgXwZgnnubuappmm8tjommidcd/v/lgvkkXbootqognnnrlkkpuxlldjRRdknnTqhhokuufiFFjmmfbccnnnjggkeekiccaffkkkdNNpbbjggdZZnpkqqiqqajjtttwwgqy00yuk116229//++/00//172ww000wwssssogfJIerrvvhhffoouooeeuuhhAPPNNlmttuummbhhXXiiVVVVkkkkmllmmddqqdchhffssttttrrZZppnnrqffjqqddYux22330yuuuurxsun0pwmqihtZqhboUOvhbchqdohbhnjabloofjZqmblnUfAnrkmsqupZmotWpqkuiWbeYirqlojndccbjXucThhpbhhSulmmkutJhrqslr0jtnfbh/OmpxKsiialhqqbfsnZiivkdtmhii/vj1ddsdms6p/rgtttpmnhtdAbrmmArrrkkvmmmhmmeooohwmlhrjjtmmmWNNVbXXmoopqqjddsjMMuppommkffAnnTXXfjjkmriighhqaavvyssmk2vvy2u778zz///++/22//s57qq11wzzxxsshmlkkhrqxxkkkknnlffffhhooknmffZZttppyyWrrjjggvvttnnggorrqqllttkk00jjqqmmppkkjjhhjjaalllkkwwouzx33x14b2usrafZsxthenshnrpiW2kuwmJmbjjbsfXdassYZUomLnprXxffXrlgoplngqmrrkprXirlodemsebjhXiUUOlmgkpianXTmqehmmvsjhnlWmbS1nqqblp+mdYulojamjeddchvpbaawjtmpadd/onnnnmnlq6s/xvqOOMapfvipqblloHsskZuaaisWWclssnkooaqffmpffthhfVeearrhbblTTOceemllmeehVVmsseZZhlloqfbbmVVsiiuusvvbmvxxyyl77622/++///0088s53gg11133xxyyeuthhmspvuffkkrrgddjjppnndssZZccvvaaggqccQQbbjjppYYuvkvvuuuummeegghhAAnnnnZZbbYYkkeekkqkkKKOxx0230zwpvpWokoid11hneysmwdrrrshlqoqemihrdoqdlmjnoilbdqlnmoKXrffprehvnjqhqrrnqehehjfrgPqkkbjjflklelStXhbskdZYYRunqqlmkpO0dmtWbL9lcnvshfYPUlkkKjsdShhxksuhZbb/skottrcmh9v/rolffcpatwpfseddsZkkmnvhhlhLLcnttgorrjleespjjpgggfqqnmmiiijVVjjmmlwwthhcddlooYeeUTTvxpkkfoopbbwwussimyyywzp447zz+//99/33++n52qqxxwvvvvwwqzyoolqsqqiinnnnZppmmkkmmfbbffrriiZZwxkvvhihhfgwwjjccgpqopjjuuooiimmqqnmMMhguuoohhoorrZvvSSrvz023wwtvxlntpZsstnqUxqnipkmWihopamoefkGhjspmmdbjcVhhgNfVrbrnTnXQtpudamzlenbllhaidmXtpojpilfftpfomurPojiuecdbbSvjjkUZnnmzfqrlqo/cpgqagmngphffoqyilbbukmkfjcc+mfkggthhg/t/rMoggegqjuqnpmdddnoogoullXbqqgbllennnigrrMnjigooqRjjceegkkjddeosssnnlssiVVejjXppkSSpqtpqYXXpqqwwrwwoey000ue661zz//////11//t35jjzzvssttsssnmbanqxttcchhjjWjjggwwllgqqrroojjSSqqjhhrreenniirrppnjjVVxxrrccuueemmnnhhrrffaaoopprrgnnqqwwx261xt1p1pkpvlTvvurjjupuxlpsrmhyYnoijYgnTiqhoijcFpoWhnlfprrmphskruejppikkmqgbcdkRXpvjndfernnoZkmhriknqitWigeeplcipigqmRxIsifgj+afjtpamkjVciimkucmooxlTPjpgg9nWqiimkoU/t/rpbggPfYcxokymnnmUeepbtAAqoXXkVLLnnppobccmfbbVgglZllngghhhokktdXXdjjliijkkoffhiiJooPRkuvliioggrrtvvnrw1110b556xx//////zz99t51cc11xvvttvvqkkhgswuwwffPPddpZZrrttiiciiffddpprrzzfaaqqlmwwrrhhggnyyddssooaaffqqmmpplljjqqbbddhhiiWggjjbyy163yzvjyqdmkneqprhUrmetyhkXprqwkbddmdZigfrpkoebslcblQjdtpfkuiWVknhtyffoXmpkcnkroRjpniiegkjjojTmiaukjkYgojKjjnnlqkrmpgd4ZuLqdr/mjcuisnjZoheeagyhhiiypefVfff5idannvooX9s9kuhwwiinjxsrtkiiqeJJhexddqirrXdZZigeeqgnntsffljjijeehiibaagccgkaaoRRnnnnqqNjjaccheemopqqdpproouutwwcwzyyyxo556zz//////11++l62ttxxyyywwttpddffstwrqaaiikkhggttrrwwdttqqstqqppttdrrrrkkjjopooppgffmmrriiiiuuooeemmttrrttOOrrdcuuhqqddr004631wzmxtgsgtqmjpqaiUqokklisrxoiipffkgtonsclaQmrgmlhWmkgnofgqmpxlsorwxnmmwjojqpnklomTAqXZWWXfmpkqbgaciXhcennjpinmYmait3omrqSi/mdhullngmapnngMxnWsswirYofnn+rfdmmWijS6p+mtfqqemfWuomkfbboenngVulljniidottjdnnsjvvrcssfEEYdggnXXbZZOjjqmnnfmmYssnIIbjjfjjfooijlXXhqqvrruuottjtx002zx666vv/////9zz99v53hhyyv22zzttniifemsvwwjjffSSsCCkkuussckkRRjjggllrrerrrreeqqnnllttvvvjjttnnZZmlOOVVrrjjyyllffvvllrrwmmoohz22432zuczvllpov5fktmyhjjxhcitRnsRfhmedsigtpiWfrniddWXflgqlqTjmqqhtrziYvrUdstmojfrnipmobiqkPPnncbglufiTijtmjLLyqkjfklmmgzhtubmj/njkuptgXhffJJmpseobbynsjpicc9romkkkeqo+r9lKnnnlRhkwnrjvqqRhllnfxhhcJrrcnggrcddApLLomjjpllhdllemmZllUeeIhhhveedUUrooXmmaqqbYYtvuppoddtiiwwwyysizxx0vl00622//////6677k54qqzz1zzxxyyhonhhRtrmmlkhhkksrrbbrrssjuuUUddooXXvvnttdeeeWWdeuuwwwmmTTssrrllttmlllrrgghhYYkknnoottSllqqqwz213zv0swpmvrjXItpdqtvnZLckmqgewidkonXflRntkkpimhvgkknmklkkonrpcvmnsudgmoYlhlbfUnlZxgbesATmmdnkjkkbldmkoagojjmrpdjopgqezTkrjXs/iocqpldmjoVddjoqmchhzZslnenn7sqjAAwhdW7p/gGlggdlimwrchbccgmppnjzeehobbhTkksfSSmYuuWljitffkPppsrrlZZsjjrgUUuooajjrUUVmmhiiceertlXXZootmmvvuuuenwxx3yc55622//////5588t25novvrvvttttkppccmssttmlWWcbtbannrrnncjjffllllrrnniqqeejjaassssqqgrreeuuvvaaxxSSnnbbbbjjDDhhvvmmwwnddlltv0123y11UxrqUsmfmZrwomtidyprfTftnqfckcpcgslrldmlRmNakcclklmiilccYplltsuppanelrgqjkhbmfajfReiinbllNfZYghjlrwoccjkcjhdmoYm0Wpphkf/aNfxbmcelqbiiklwZgTTztdgebvv8wgjbbTipi9r/xlpllldvroXircZZqVjjuIunnXottZmXXsvhheXkkiaYXcWWiWooerrmmmsjjpnhhOMMejjpnnpmmdkkqiilnnppottpeexxwyylcqzzwwo66611//////2266m25ddvvyttxxrrlnmmlVlq22jjooeemYYllkkffTnnccpprrwwqrdccccttaaaahhkkpnnnoddlkoottttrroocchhllooeekkxxqppnnlu0132yw3mxsepnoqwwmlosvuctldoraYqnmmiifokmijflgnmXffXrkjqrWgUPsoju0sppvhkvPlangRNdhnpvkdYhbhhgWIiQsjdfbeepqYMMsUdlkSfctqvfxpjmk8kZiwSijjleniiliskeccyqwpojff8kSfaawhne4o+pngeenqdprjrZnppwSiircvaamakkhillrmjjlqnnonWWBggsXmmeZZdRRgaamcbbloolsspggphhleeerrvxmppjppoqqttywwtw1zzvwk777tt///++/yy77h33XX44uwwoowwgmmmmwxwqqffddAAmhhaaqqnnVRRYYllwwqqttgvvssmmppwwbbZaoxxiiJJnnggjjoobaZZoogghhsslljjoorffqqkw1154111pxpjlmpLoecostlnevnmqjXi0jdpqAfhhRrncjkkdenfeaQQfwqqrnpqkouzclhojjkXcldkcThhpklUjwgQQiuhWpkSgsjhplffnnlhknWcnraJzWgbklY/mYhspecuaZjjjkovijHHuprYmhcc9Zcljjjqqt+r+kbjhhkkvnrjXmbkkfissuZrggfeqqdmlleimminppfrrrZhhfhUUaoodXXmYYnaiihjjdoolggeAAgccTllfgzlmawxpqqqqvllhswwwyvi227yy//////ww77q58nnyyw66xx33kkjonksr11eeggggpiiqqjjssggguuiimmssppgwwmmffqqbbbbxyzppppssYYMMvvqqqqwwjjccssllhgjjlllqqffju1135xuwmrvnnryhwsenvnqemmocryspymiqlmlYrdgldsUhankLhYrekjrdhuernnmVrkYxvqiwfvYodXelxupomhqJJmisnaVmjWgkZkemmmnyZZcnnofd2ootmhs/kvaupVmvZpbVVtZurkOOsmqghjkk+ggvggoKQK9u/amlZZqlupnVgZnffieMMqsvggAnppomllqsnnosddZpZZWXXkollkjjAppfgghZhhTaagppdeehddflllTTOQSaabllzrrttvvvkqzwwyxi55500//////2288p+1ppvvtttssvvnoonnquossffmmjjnmmkkmmoomqqjjhhjjRRnnnqqggbcppyyggnnxvvrruugggg00mmQQWVooqqffrrgfqqjjvppiiOw1324zy2XwpoxieurspqmksUlqjfpwZnwnrkkgkcVvnakmpfpllrgfcefsqqoWelocjDgocmklhxmprkqRgksljehoieeOphunotteersmokmmZlkhNZcWlo0cnvhgo/gsQscZmlVshhhUoznrmmvkmqsdjj8qqYiiqusZ6q/lvhnnrpDpumbotXXekqqmlykkkhhhhOttlkppaYqpWkeejkkaYrrfppcjjeLLdneenvveppbVVimmrZZkccprcddliicsswwtoooty11wvm445uu//////yy//q/9hhttzyyvv00lononuwpvveeonSSxZZjjkkttbmmoohinnccpprTUllmniirrffppyqqffuuhhnnmmnnpplltsnnpprriiuu11bkkjjf011420x1ozrqnqpkkjnysrpfntdSfsartqjhfeTYkbppVkcbqfdbimolQijWjmckfojttjspLrnqldijibbgodWlmsoXXmidYnnqirkerggfkkdbnRjbjVinziunmmg/dhlunqbYilgffkjueXhhtnlheoff5kjvaaqoec9v/plmpphjtkrnbmbllkgllqkuVVWOnnbSeeegeepbffqYNNfnnlmaaaaamXXmmmkjoojeechhnddcooUFFdhhoq4jkpwwuwwqqruulkxzzvxm77422/99///vv77t7+ll00xwwvvttizyeeuwqppnnggooqZZqqKKooflkggnnssqrnnWmmhhophhssjjffvvvkkvvuuddkkqqXXttkkpphhhhjjppuuzvvjjk1202023xm1swyphokrknqtburhciRurjqWnqdAccmkZtmmhacmpmdcWWTwapoulklzldjugkYttmlhbphQjrufsmcpnmmehjlljmrGmgkgpWjjlfWolgfVpm3Yhmhwt/crcvJnjojhappfXrAMffxZnlrkii7mjvaansnm9u/SsoggnZkftricpllnUoonVtttpoqqjXggjoQQjXssnoaacGGhjOOZWWnRRRTTmeggTllmssojjnoocllkooZbziiqKKajjttvvviiqww2yr77633//////ww77w83ttuu0vvvv55ldcmmcroqqqqffbbWiiccuuoolYYqqllrrmmggmhhssggrrookkttvuuttooZZjjqpRRqqppmmpprrffccrrootddllp0313334yaytmkmXd0uqusjpuomfZkjmYwtiqefighkkqcfZXswgngcYrThepWMhsgvttmsruvrskafqdnfXdschZkUcMMliQXhpulgomoegdjjosjIlXdecm1cxjVnW9fdmtlgjkxrdVVkXwqprrxgWqccll8nhneemepj/u/aoYnnadimvjoksXXrooodkxnnprddcpmmejkjTpnnliggrjjleYYuYYkddrXXnkQQhqqhooqkkpiimffcmmsuvaabXXuuuyzpuudtyxxzyk002zz//////zz99w26hh22vwwwwssgfejjotnssjjiiyypsraakkXXYssssffqqffttipprrffllttkkttmqqggooaaooggjjihooqqpppplkrrccxxittddt1104341yiryvqpspvYgpqUrnxlmvfvak2vhmhfMjdrcrmligVmqjjummislnacctpyqcrvfxsYbtqxcqcbgtwuhibSqssolXquosndpcpbrnXXfjkmQVgkmf2ifiPqc/dflvlefaosRrrkmvmXZZvnZmlgXX8hapbbxkte9q8fgCnnlhgcqeppkhhnmWWimxppbfrrbWoocUggborromllQmmVhppallhddrffmdaaiooVqqksstXXsggeiieg0ffdbbjuuvvpwwry4vv2vi77733//////zz++s13wwqqwuuvvuuvmmxxorrqqggllkktLLWWuuqqilloommkkuucccoossopppzzhhqqlccZZppccooppggZZsseeoonnooggmmkkqooxxk14132523vvuiWYtevvhiqueWmvriiskssSROjgmgdmknfylpogkqldlZdwjNivkleuqrqduvtqxhhainqTgmvijhqddKKhoejmMgdloZologjjqZabqigUde4jtnsDW/eenufQjjdqGbbontkqbczlknpnrr6bctddrgii9p/skquuispkxsfqUooWoWWpcxllefhhikssppllomooqmMMkiimqmmfuuheekkkpRiidiijYYhiikgghZZRmmuwpkkSnnoZavvruunw100yxq112zz//////yy88f55qqyyxyyuuyypyxjilqwuuWWkkkksnnlljjuufgghhWWwwVVmmellppmmAAjjiittnlltteessffnnqqZZqqlleettrrttnmuugddYYlz12237z5vzsvoptRloujqjgRYjRnlojRrrqhaXeZWfpilvmgjPrpcodoidpdrpornmnerqurldabmwrqmlrMqepjenkffklfshopdjopfopfggjkaolSfsUF1nydekf/nqesgjcainmaaoiqijee1qmonYii7tajiikhcX8p+ooiookXjaupqkqmmkcnnniuiigcttpZmmbrqpfhmmomZZWUUVrkkbWWckkhVVcKZZUqqcqqnkkdiindddjjhjnffhqqsppwwpuucz4xx02t11522//////yy88e+7mmuuyuuttwwi11lltvsvvkkoohhdqqrrgghhpeeoorrppmmmmkjjssnnAAPPRRppqmmmmccuumlssjjjjppaarrOObbedttCCtjjxxbz1263722Uxsgdpdvmihrjonooziggmlo2rNdIpiihmlgFlrmibpWitlUdgpjruetrmjqlldbvpsadrseileLxwdiqqmhhdglhnmjkhmjYnbkOOepXtohmkml2WqXnkl/gZntpmkairhYZqdtlacctsikimll9iogffjmnc6s/yaqeekljftlcnmssqkoovcvvvmdhhmVZZdoVVktvvhhnnZXXxZnnmrrgeergghdWWhrrTqqoddilligggoojlsbbkppknnuur22bsxzzw2r334ww///++/xx99i37pprr3oossrrmonggsurttccddkkkccaahhmmmuuppppqqrrxxnqqllqqOOqqklqqeeeccppttrrWWmmeeeehhssggiiiiuuuurhhppk1z154540jtwukogntTnnclowhNgoczai2jqYqjkhsrbieYjksvmaXldukZqocphsl0WpmqoDywmsVpimeYVgnklhrpjXXgYYbYfseZknkcmTjjuumgpnonXm2kjjdnX/ndftrmHkjskPPfiugchhshlqnioo5knrXXWqbi9s/ntbRRngimtprdtggnWuuJhuOOtfgghgMMrqkkiebalmkkqqqkUmmlmmgbbeZZfneecllbttnjjZeekYYfrrWXgkknNOThhxxstttu133tue336yy//////uu++z97qqzz5wwuuvvWgfmlmqs11ffkksshtsoouuttUnnllggppnnjjhoovvhiqrttooWWXmmlluuvviippoollUUnnOOnnssFFllkkXttddi0z325411s0rm0nmnszmpvswnmmgrhVaotjgimphngjgulmmrlmrjfdjsguafpilnkesy0xsuXgtntiiSlenTynqrRhbhhjYWhrngPpelbdcoeeZrcciQneVo1Zkgepf8jiktfgdpRqZddYjrMpffxgjmkbUU9Yfmqqskbm6u9UuglljFkgpierrmmihhhiQrggeaeejciiZqnnbZgghmbbkpoppqqossnWWgRRmgccnppnttcUUXbbdeebqqoqqoonaawppvvwuuAqxyyxvp888ww///++/5588z85rrzzyzzssvvkhgkjepoqqnnqqjjZaassqqQQpllkkqqoossqqjrrddddkkgglmcdgyylleelljjnnqqUUggjjmmpobbZZqqxxfOOmmw01176211TxnelnqpqzvcktthpzeTlrmknoqmCXlefocaqjjmVUfikZdkWfTkklosjnXsmrxjjwvxlvcohhihnlnhorhhhZlkmnteXohVldmcIIutjnnmilck1gsiZmZ9jnluWYnppnqllOjvlniiyohjwloo8taiaascZk+s+qijaagmRatrbSqjjgossklxooZilleeiipsYYahhhljooOUTjjeecrraDDnggrpVVejjoppbkkoggIbbaZZkmiiiayyrqquuxttlwz22xyr777xx/////8yy99w65bbxxx11wwzzyNMccotluuhhffihlffggqqmmZjjffttkkiiffgeerrffllooddqqyttrrmmwwmlllooffggssddffoouuaammnppppnyz114310o1wjujhxtloYzpofXhblorce4KekSmLQgjpsbgjfnjjleftZfvpgsqesnh0mngxuurskquihfimexmYjglhaaolkheanmajjpjqgoopqfffiscfp2qccevf/komwddvhZciffejwpemmwTnruomm8gpjZZYolf/u/lnQVVdUwsumoZnkkZSqqukxeeZpiifXmmqnccfnrqodlljttoWjjiddakkjeeRiccgjjsqqnMMMllgmmkmmnoleenuupcduusttgq0yytui44611//////22//o94nnuutoowwttfsrjjnqpxxcchgmmnllqqmmttksrjjiibbrrtto22ppiiaajkddtuymmjjssiijisrvvooqquuoouussaajjppbeeZZrz11451z3s2rwSsshovskhstqnuTnfxjnppbhsmhglqfsgotrpSaqXqmrdmonjkhdnjlgqvqdebrxbkjbaokZxridlaohhqcXeekohlkoVgcYhhljgYlekerluQlmijr9bfarnsnlrUjlljgvpmddxkjtvkqq8equeelncd/w/diguuhfxiupsivddidssZluhhttllkirrbrddUkmmZiccUoonuXXlrrfllkTTeommqffjjjpccVffpVVaeetvnZZZmmqjjrrwttYrx55y0k44600//////6688k75ggvvvvvvv22j00mmmtqrrmmmmjjljjXXggjjOiirrllnnrrllannqqgghhttggssnttuukkuunnpprqssccZZYYoottbbnnmmtggSSNy035511zq2omipomjlryikslsutmjsatspnVWfpCjpgohrXjTkkafXgsYmjgPepqkrtoqknjyWnypgqqOshnoipqlhhddYfcVqmbocalxlppYYqriUYpnYol1impghd8gXlutZfvqiZWWlmumjjjtnqnrmhh3hkbpplcfW/s/ZrhYYjbmlvrYuooonerrnmwffLbrrUqnnnaeegoppmqppmffrnaaDhhocclllXdoonllkssXaasVVUkkqssvwlmmhnnpbb00vwwhgtvv0vm666zz//////zz99w84mmwwuwwvv00f10iikrouummoollbkkeeooeebllZZQQjjllnnnwwyyffRRssppqqgmmkkhhvvjjWWjjllmmoooorruuhhrroobrrppsy153501wtvpjsxvqtpeMslnvPoqdsramzaijgmdqWjYdcckmgjilflgnoqmjengsmxoupoolkldwowqZjaYkrmllYXhffmXZgVjprkopUkpcrrxdolkckUfg0owSgfh/jodqXXilgpZnnvnvQYggyaseYfff9lTUuulhKk8s/eUmeemlrmupajlnnrZmmoeylljnhhnhrrdmXWndiiaiqqqkknkAAbffmccqiitshhmddjqqdmmbXXeRRZttnptttlppnqqxysvvnpw66y0p555yy//////33//z77vv11wvvzzzznmlmlwxtrraaggrrSddPPrrnneffnnddnnjjmmliikkkkvvjjYZrschhhhaaooNNUUiioonnnnUUvv11rreeuubrrjjcxz16610xiuvegoQljtxsyoqohrlokcijsbuWmchnsVolkujigYlijgZmimamXrnosprnbomowhrlikmniiUuuqfjWdriigLjqlYLgZnlbgtlaaqukdqclmXm2enVhiL/QkYotysoTpNllahstqkkwihYrpbb9opiaajkkp8t/sbnWWkohgwtgtqkkpmkkjkxjjpfeeWTYYircbjnhhkrSSgeeqgjjojjpTTiXXcljjfOOmllRiibeebYYrnnyz0hhewwfjj00uuuenu11zvm663yy/////+xx99t43ooqq0vvyy00pooiiuvprrqqZZnnboommooRRnccooUUqqYYrrinnoojjhhqqjjnngttttooddoommnnaaYYffmmggyyllqqHHejjnnby05650y1xvrojrflyytOmkjpusmwolsoglpWHfcmkmkshdnunqWhgjjnUfZjgpZgjTzpqyuwruftiZfnorDlrmplVqnllrjnpUfhpnochepnmmjjiitmQplk3Xjpljf/nSfrkimiTfgssUntuhee0khXmXff9xktiimnyh4o/lpPllmnhjvuigeXXkeiijvwrrmruulYAAgrppjkihcoddgiiiktthllTccehhldaaottjlliccicceWWennrstllqdellmssxxxnjxvvwui228tt//////2266v28iirru330011qpplliqqttNNnnBBpaaoobbiidjjppooMMssssqqqxxoorrSSffnnipqopuuuuccmmookklknnccnnXXllmmpppppqqkwv43520xiupuopqpqyUWAxqmvwsentkfvTruoiWhQdnnchrbnrrndlnpineaiumYnsvlnwstqWuovhlablsiujljnohkknommlremaoaXovniimqlisjhpmm1kjeLbl/epfsZjqTjtrjjGpteYjjyoivuopp8qolffiiJl5l9ijjggjYhnwmfjuTTpqnonluoorpUUhjSSfnVVfnddkdeeimmmUppeggIcciiiqYjjpffmUUjooVeeSffkkkegrmmkssxnnxxnwwie0yyzxY55344//////33++y71xxxxxyyss55vmmhghsswwmmIIbbnuukkppiiduuooZZUUssggPZZoonnbbpphieefuuuullffTTvvYYonmmvvggwwiimmnngglssffhxy37200xk0rzzkZhllwmLpmuvqmmosZiwpmRmhmdqfNmconbfvXpVQhkfsnjqjraaftjs011kpxmjkjglkaMsAtcWptbbuqchniaimeidUWWeevrhaeVbpbWzVkiiTD/maoymogoZmqffkTwjYllvlqiOfoo+qnmbbTNnd8p8nikggZqoUrTfqlnnkjhhpYzddcvoofeeefrooWbrrmpfejkkRlmmpaanMMakkhiffiffsZZpppqnnoddhvvhjxUUknnottyyzvvmnxyyzse333yy//////vv99q27ppxx2yyuuvvcrraapuqppiiZYttijjmlwwQQVhhYYbbwwzznnkeellnnssttqqfgfrrvvttrqmmiiffppkkrqttmlddllnnrreiiQQgx1484102nzqmYndtpvyoqdtqknoaqmqeptvgbhfUXgqyZogdfiJpeSdsjpmOupTfVoydppy1ilppqwnrjhpTvaroeeorreiehcmToldUbmhlPPchiegZlgroyporbrC/ajjuUjmdvqlggcYuhqkkvbohZhpp6vmriitkdl5l/xvkmmmeiirhsOhccWlppgfvkkiqnnnlsswRkkSceebYhhcZZponnjkklWWYffmlggoPPbkkfggkbbcZZeNNmoveffppippuuxuunxzzzwxs441ww//////11992+4rrtt011ttyxouuZZrtmyyXXhhffkhhvvppsscaaYYYYrrqqsscccllllnnssqqoomSSrrkkkkeeoouuggssttmmnnvvmmoossoYYooqvy13140xpzwzVnmvseSupsxlmosaoamhsrkcbemQocokUhesilhrknmnspviumZbqpttpcpniRxrdiebgjbixpkiqZcAAjdeklkrbpelcoYiZZVmfimlfbpjznrqjal/WImvgqihgtqkkjfxsVqqxnujkcdd6jekccellj6p8sUfiifhYowrltUIIlYllppubbetaargmmjyhgkcggnjlkollcnooieeemmghhdfhhkPPduueYYMiinddnlldfrrrhppVbb11suuqx1wwvxk55411//////33++i75rr55vzzvv11ZnnnnlrvxxiiqqccvjjjjrrddmlluummooeelljqqppggnnyyuujjYnnzzQQooPOiikkttonccmmrrrrhhffZZehhhhgwz0200z0dvpqmsdbk0mqyylfqqhjgiflycpijifhjmnkhqokiAqrhsmanoogrzsrifsQmirxluglkktrimjmtAhreknhhmrXmjqphhbiemgYddtpmepOqmkYyjAfjhh+mrevljhnsjkjjqstUiccxNooheoo7psXiivfoc9r+gUcjjTipOwucpZhhkdppdouiioVhhkdrrptllcpUUAippSccldddvmmneehZZlrrrpmmhooVccgVVjiipddbconnHTTvsssswyyflxzz3wc55311///++/3377s76kkwwyvvrrvvtbbYYpvmvvqqkjeeqaaUTwwmmpRRaakkqqoonnfttllpqmmRRddnnAoollppoobbmmYYhhggjjjjhhllggeewwuhhnnoxxz0231zhwojvaooptspwqmuxvpoocnnrUsntYdnbfgulqZjhlamerjXlmollzrjnfayf0nrqirlsfnbhnSowVpllloqqejswdoadvdttlcillTspfgjricexmtjiof/nnbqfmqikykjjkjsQjddwoqZmlrr9xhtrrhonh8s/UkmjjqpqvrZmomllkMllibwddmmZZjnrreYXXhqnnbcnnoppnhooqaarddnjjdFccWoocnnXbbtiidiiYmmdfwmmajjvTTxxvxxos100w1n44400//////zz//p65ggvv4xxoowwjvuaaemssshhmmlllccffkkttemmccddooxxpprddrreellpprroolmmffhhZZookknmllQQontteettggoobbioommstyx41212vxqphXsgemisnopkfvnstqfr0wgitksTpkqulvklUrinYbtlZiuVtullnpmefWiuvSrpimomdmiirqhoSgekknalnjfxZVjZUnicggkgiloRmibc1jjtoto/YpjvZnpojfdXXoktleeexrmsgfaa+pWiqqlkgb90+skleebgumqbobrqqcpooslyJJdjhhjnttmvrrmsjicgPPhoofeZZqhhZTTXffmgmmmmmlbbgkkojjhggdnnfgkssjxxuZZqqqttjlxxxxzf885ww//////2288r15uuyyyxxuuxxrsstsnqouunmkkaaleeUUjjppQssoojkqqbbttkiivwccddbcbbuuurrssccihZZmmqqddOOSSTTllkkllzzmmViiqqovwwz141uexosjaoxuxwrmvsgnsojggngspdpZfonhdgmeemkrUtkehrthioidirjpulxubksxwonppkveggmmepKmrvAAeodrgnjqjnrUpkgllibUhncxmlYzfguYnr9hrntlijvlqkppfYvnhiixfndpmRR7eSwccdolH8s+gnUllbguqueX0hYYpekkXbuYYoqeekWssouedkeiiikhhommOSjjmffehhmeelejjYnnjSSkccaiiekkommsteRReeekffuuruuirxxx00p559xx//////0077q23kk33vwwwwuuqQQWVnpsvvbbSShhvjjgguuccgccbbccuummeeVmmrrssbbYYiillvqrppccqqmmiijjccooonllgfiieekkeevttqqsyw11022zdwosocnOomlrtUlftzdnPqcerghpudfPmsmzlfokToreeomlqemiaxehMnjimqsqosfqorejkqcrpfqdrhaaamfguiVQgfZkohlYJJsnXrhjbqrr1jlTSif+lXetHmaknkjOOfstjgbbwgpjZWff8svTZZsWfo7o/pknppimaiskioxmmnkkkqixqqlrkkjbbbrpppTmutitoonjjcchhbkkIiiQjjAehhrbbdYYrggonnejjmeelnpeerWWxkkpptvvpv1yy3xp44500//////zz++x78AAzzyvvssyyxiiddZptppeekknnplloosspplnnuuqqooijnnhZZvvkkmmyyaaqqieerrhhiihhqpeeqqssedVVwwuummqquuommRRauz02121zl0slsYWvyplo1snaeqpgscsn2nnlQogpkZcsflnnmqkulgfUZsvkqpjnjtnkn0qwosqscjqppfRbrWmhbmqNNhikXpqbdlmlqnmrLLgpjoonjjPk3baPprf+saUvKkedZplqqZuumeRRwmeaqohh5plocchrpe7r/irHYYgVskvrjutppkaqqeisZZlgffVieeupmmnTrrlhiiAeefcllTmmkffleenXjjmqqjppbXXmhhhggYppprtbbmtttnnwwvttrw1zzytX33600//////vv++t44qqtt4uuttuugutddquwmmnneeaazrrtttteeiPPddGGrrbbqqcddrrhhoovvpprrtyynoggwwssiinnhhggyyrrRReejjppjjfZZnniuxx0101zl1pX1tgtgwousptjUxleizfiyfljpcioqipofplosloYVkiRgwagofluiavqzgqwearowposiVnnprldblTYYehVpfoeohinanonddJhpLQhikba1emsglf+kjjtnZkiQdisspqvdmSStpodncgg9kareeldUj8r7ngghhQAopxtZqiRRsoklfktnnnXffbmssaflldgjjksiimddkaoogppfOOOQQmoffnbbTnnhggYjjaeejJJnpsAAmiiWrsmmvxxvpz00xyp77722//////3388h79oovv0yyuuvvtlkpoptnssqqlljjiuummkkkkVeeiiSSrrjjccdhhllnnssqqbbssrZZggppcckkxxssddwwxxeeqqxxoonmwwmnnllfxwyz0321sttnJoxtmolvsbspUhejdxrqvekVYeqaTYhmnkklharlgghiJqrlmrovr1lcppyypnfnejfsotasvsgmgoZffjQdvahjLYqchmikXXdvoYZckPml0AebclA8jkUtRmlepmtppqixjellvhmqPlii5bmteeWrmh9r/glpqqaYidvmpqpUUbdJJjeukkipqqWkxxrpnncjnnkammqjjlgssrnnjVVqJJcbnnollcmmlccWkkZeefooikwSSittattqqwwwgk1000yt44522//////yy88j/2qqvv0uuvvyycppkjcrsppZZbbllfddjjoojjellooqqlmccooekkjkllccmmiirrissuuvvmmkkmmkkoonnbbTTrrqqrrxxQQhttRRnwywz233xxyurmmraqmpuwzjnusLccWbpxmimSkhhnnsujloqbjwqiofrawolrHsmlxuxqqMwiqofnlqetfYVroGlepmiiFqitlpnVLdKbpfibblvgomlTpaY0epkqqY8RYsxsoMlschiiiotonmmyjnSockk+momllYnjj9r+TnsffjngjterXjookboolsvggonffchppltqqmYmmmksseggnqfflhhdSSnccgdppkllqiicddgookYYgSSrtpeeYvvseevvsyysz1550zs77200//////yy88u46uuyyyzzww00pyyssjpmwvdclkjjsqqYYrrppYnnnnccjjppqqrzzrrgghhffuunnknnootsoojjmmlkYYjjqqZZppYYhhvvssrkkllpz0x203z1swsfyJrkuowosplbqqjsoYmircgVkXoflnfyoieoMnmjrrpklyonevsjmpttjxphZqiqxlimogekqjpqWhiffhkolewiRmpLllahRRpxVkXeSpmfyAccebm/mXkuYognXgePPbtwkDkkyIUipnkk+YimqqXhbh/v/kvjlljdnbvroffkkiftujvykkibjjhnnnufllenZZsQVVknnfPhhqrrnddQaafYQQfjjuppfggtVVioodggsureeiwwPab22rzzldq000vn444ww//////zz77d51oo00zvvrr33RjjhhdrottZZddllgccffuuPParrmmccnnoooojllookkaannmmssfoonnrrvvjjvvnnjjkkmmttnnvvccaajjuppllSz0z123y0fvphllmprjoelokis0cmcublinooebWlrbfqbrqnlgnRZZtsioaelbikxXnvxuqtmidwsThYqmfoogcqdaYkkoupycqoujicqbklKKpgcpmZkoejzVAKeWS/kakwUnadlsYhhlxxSRopurmkvZll+gfdiihqeg8q5dUbiipQydtjdrtssuYxxYfxmmjkKKfkhhuYYXmphhlfmmnjifeeenffbYYgccgfffXjjMhhohhmkkfmmRrrdfrZZewwtrryyquubsxyy0xo11300//////2288o48ppxxwvvwwxxpggvvSqwmmccaassullmmttqqcnnyyeemmaaggmccxxjjlleemmrrbhhttaannllrrgfkkaaooiinnkkssuuggueemmty2x114yxWurtwtrexlrjuswmd2jmszlqyZenllfpaovnlmtWPisdjpdfYvrigvtporrnjnuzlugnspovemkmvjSrjihNNmmhPpusgxglkggXiiunTheHOqkU4cupZdp9slTschcqAqpZZmosmihhwHcggbss8pdtqqjoiZ8p+msliiglptsbdVWmmiixxXsueeitXXLlnnhonnmehhfilldYYWYllqnnmWWkiihgkklllmlleYYoWWleehgglmsoop22wggsstzzsm0vvxzj445ww///99/zz88z60ooxxzvvttrrqiioorvsxxKKoorroSShhvvSSebbjjuummiijjmvvggnnuuiihhyyussttssssiivviijjiibbjjeeyyjjkkggghhnnux1x20zx5yxrnvkhrtvOprNqhYtrsnlhwzjlkoVeernponoqhrHRkhlVmRpngVqYaQYtnnwvyrvlcsqpYpfdwsinqZAiqqnpZsepmmmhidklVjjmpmXRhHOnVzhfoOsT+VmYrrhmHpRTllngwlnppzRlbmgaa/bgpppnisn6t9rqQYYnZdisgiWlXYnjmmIkyqqitppaimmhqaaGpjjenpponnWlooSqqjhhhZZiHeeklljaaurrfppUiiUttwyvlmYwwviixxpwwlmy33yxq66400//////229926+rrwwzxxwwuujhhggruqwwttTTnnZnnddttllennYYaaooppvvMiinnjjwwyyXXqrboouuoottqqffggggrrddhhrrkkjjttqqFhhppr0022101zdxsTtghnvkpjqurnksDckveosZkmokmhpprvUonRehrLiphMRptUdkXmcxorqmtVqjihephlfefZoefYfwoZZhnolkShjeaielqteeqgniebmprR2Zktdgf9XkmvdmrgMiaXYslrqjTTyfSrrkZZ6esPnnpLeo8v9kqfllcfggvskqnnocapqmdyppjlgfkptthyddlellockkUkkqldduTTpXXikkmZWWcmmdrrIggmrrappeqqefyhhcrrcXXwwyuuoVz222vV664zz///++/7788U36ggzzs00xxyxmttmlhpwuubbnnoogUUnmuuffcmmlleeuullqqnppgggguvwwddppeqqoojjeemmqqkkccqqppffhhppddrrttYrrkkpzy233zxwjyplwjiucqWdqftqwllqntlmygppihnufpnVetpnoroBeqWmkfqomuesbssvqhcrnfmlpZapGahlsfwfflfpppaiffVjfjjgcqpegglooZoomclq1hrqdpt/khswTjgedppXXlfvahRRvasdUill/qoikkpPrP6n9qhippNOnjwrPooPPrTUVnpusseXeebUllvtaackllsbiijHHrkTThooYggkddkmqqfggVnnobbZoombbebblnbqqlbblggvvsxxntzzzuyl333yy//////1177o88hh11y00rr00iyyggeqwyyaakkUUSkkqqlleeVnnnnGGggmmnnpqqoonojjpphirrpnngh22bbbakkffjjrrwwmmpprrhhoneedkkooawz0330zyfyrpjugimlAjwvbitVklkhncumlXoohahrrkcqbfduLlgXkkZtgrrroefnubi0rfetkpqTipTohathYbojsYYmjnuprowahorhfWeehtoldpnjij0liZhuf/RtrwigYnkvjjjimypnnnwqttaddd+qboppgghb/u/hcniidlvjoeadIccmdstiutooeekjaioojkYYshjjondcioorprreppebbfDDlZrrkjjSmmqllSeecggjccqrkllUqqwlluuqzzpx3wwz1z336zz//////uu++k33oo11zuuwwuuguuddsuuvuiikkkkcnnccggooimmoorrrrkl00nccjjkkggggbbwwtmmddllttooxxrrjjsrhhTTllmmggttTTnwwnndxz265zzzsypgoqliqtxhgpyynqcTniYktuogmTgmkkMiZjlrfutkkongfykkZSigovxnqvsqzpuwTmmogldfqhkrngmKKXqcjrkjfuAqrnhKYYpkpchklcpp3TroNKi+tflvomiijgjXXhounkTT3kipvkkk7lbmcchngi9r/neOggVldcrTicdnnkursdlviikieeqPqqkhmmjessmoiiXhhrieekggNiiikkWuppinnYffsVVjeecffiqqoqtaauoonqq00vuuhvzzzyyr776ww//////1199s5+mm111wwrr33errhhboqrrnneenmriivvvvffcttbbnnWWllkkfooaagghhvwjjyymvvwwjjwwaasseeyxssVVffrqjjmmssttnjjoohuy45310wSxptnqRbxnrgusuNlqomgxLtwibnlZkWrrWokejndkZjiYWbNtlptrrhmtrtdulwjvpvqZgnddrbrmmljfmggeripengplgleokcaazhdkiahXmgxfdnjnm/hriterfqccehhVntjfXXyoljtngg9pknmmmpZt9s/pppggqdnHrZmjXiiunghth0jjopZZnkssjiggYooovfnnkffegiiRWWjXXcYYbqllkppZeeqEEpddnggjiiopvkkollYklqquxxrdwyyzvl446yy//////11//175bbvvvuuwwxxammppispxxllWWeelMMcconookggjjffhhwwssmeekklljkwwnoggmuuhhppiimmaaLLWWrruuddCCmmrriissoWWhhuvx18541yowpIyudcqrykpt1esqrbqfmknjqofsitgnfskzxfkillhkfzhtjSshnqeovxnxZqknjcgieudohnrmnhslkccqdnqmjrolkjknhWffoqhikgZMRf2Xhsaah/uklvhcnirkqVVfVrfQaatohmkixx9igpWWolqd5o/ltnaannljuSokqnofOijhmvXXkhhgRdkkngooVimmtoffdjjVmeekmmUjjkbbgjnnioomIIqbbokkieembbtvmrrluuohhyyxttrhz11xyl447ww/////9zz99k43dduuwzzss11qoolksuswwAAihllsjjccmmkkHoonnbbbblljjfVVjjhhnnYZllttcwxiivvjiaaoossmmppkkeeqquuhhsslllnnZZpy3346311ixvopdkuurdpgrvgmrlqonSqtsfijHbcfQatYturnsqcleYmjjsiojqjivxvhtounqa2wmaiuUffuXfnlkTllnmcrgghplbTqnqeggsknhbfYkfhzdqiXbV8hjbwnefkZdpjjbgsoennxaahqaMM7rlwaalgpV9t/kjjkkcpltxrrnedekaqrPkuddpvhhlSgglskjnmrrmaaadjjmekkbWWuddrmmlobbOiicuubggfmmmkkmddfg0ppfhhXsszzsxxtcwyyywr335ww//////0077l67nnyyyrrwwuurmmTTvxqrrkkYYbbtqqiibbllmnnmmjjqqqqllottrshhjjhiUUjjqqqYYmmnnVVmmhhhhuuvvllttaZffuuggcnnkkox146223zqvnktoOVxmwmungewnojfnkhqcalmTXnnbliiigmkbkknjiqRrfhmwgpTsvxloXwnertoknhpeliwinjckiWWdmdbZofHfKZmZmmddnrhqmjifbnyJhejoi/omqvfrdntnReemhugbhhyoqjrZhh7mWiXXofTl7p/pockkWfopwrRskWXohnpmswaapqlkhduuhfllggkkgejjIggpliilZZZiigRRboooXRRoYYnhhXggakkdkkhjpjjoiinjjwwxyyaqv550wp996zz//////0077y9+nnyy1yyvvzzvvvwvYqsuujjllffgjjiixxpoassjjhheeeettirrxyiixxqqkkyyksseeaannddrrbbeeuujjkkbboojjppmmbmmmmZyz1444yumyrpxksucnlkoplaxqWnkuoRkDZbjaencgrplkpnllblglmrgovchvulkpotr1usuxU2kqUuieUvxpohWrollnVncoVcmjjxcbgnaaejrhrPonfp0eqePfj9nlcsegchpvfllsptYeccyqaSjlMM/wmsrrtvgf8p/pajggmttmughUYstwikmpovQQmlsrfdrrdxppgbddqvZZioomcaafaaejjVooTmmmrrrpssiggsppoffVnnnppeehuuhvvttuvvepvvvuyp66744//////tt99y79ooyyxxxssyymddllosnuuffppTToddggqqppkiillggrrqrrrkbbnoggWWeeppvvprrUUqqXXnn00kkrrnnddooppHHkkQQuuliiqqa01012yzzqxtmohguslgjSegemstpYfZpfmsscckonnmuivgoetiqgbhterlpihQsdtlinYoylsi0ZrsbncchroYgqohhhmnoregnggUjncmbkkKplgidkdeZzhqknke+liqwsZlompchhotxnjhhxfcplgii6hmdllpjpa/t/uonkkiZrcvoUstmnprlnqvxuuklxwfappmpqqoekkreddeiisciikjjdoojddleffqjjpZZYooURRIgglccijPkknrrmmmyyrwwkz1xxyyo44611/////+1199r74hh001uusszzspphhlqrwviiffbbloossYYttbppZZKKrrPPhhkffabkkmnjjmnmmuttggppeeppllddQQUUssllrrggXXhhaapwwjjl131102xxuvtccScjlnytxdwahsonkAQlzopffmTfhhfpoviXcvLlVedwkcqubooWqwqkt2olmpnrmtnqWpgatrcjglgnnqrZoknJklUfkqXkmmhqmkcnlKec1nuTnlj/XncvoogpjcfnnkfskkVVxkogpXjk+gqpaankec9t/mRiiikfprtigzmefYpiksvthhvlRQsxkkcjnmtWllmallpllqgnnihhjkkoffkcgglddeoofrrrYYdeegnnoqnWWglllbbzzyuupn0ww2tg558yy/++///yy99v24nnzztzzwwzypggcbnsrvvSSjjgggllnnggedXqqwwbbqqxxppfhhRReebbrriimmjwwllwwmmWWppkkoorraaOOlleebbuusslYYootz20y3zvxrusqmmYsqmrcutcopxhhefgZ1WimYgWidqdhlWukmfofZiekbnljrwdjen0rfzrvpNowsWnbtjljsldjoomkkjohZkrlohmgqmsrSSvnTgXhmiijzmpmidn9jcouabjkpcYnneltqbnnwkriYjOO+mghRRZndi7y/ubneekhZntmhxbrsvZhjmsukkrdtsfoUTnjggkpbbpfrrcVVoikkjXXejjrpphohhinnmkkiYYkppjccbllkl5eehnnrvvuutxxWs000xvh665ww//////xx88v/3ii334zzttyybMMWWsusppcchhppSpprrssnnlqqeeIIllXXddrWWttllrssskksslssss11qqrrkkYYttmmaaaasskkggjjookggXXm02y1yyu0iyrsYpjqfrXlwk0odziplteioegekarcmqzxZuhjYnrpahjbmitfplkuWwzppftqtvpppmopcngKtqphpnqddkhhonrlblqlwnBhjjkONfjKdmlAzenffVj/isuxpmjmpmkppdZshfiitlrpeijj9roqddnngi+x9omeiiqlakwtckiijlwTWvbsoosutrmdmmosiiRniirsVVYXXfecclccZggJVVnnjjgttZllqffsnnjddbrrikxijgKKjnnyytttgszxx2yb449vv+/////tt99x33kkyy0uuwwttunmRRptvvvnncceepnnbbnnllpnnuummkkoohiYiinnaahiqqrrooJrrootthhmmiihhookkrruuttrqffnnRRbppppkz4v20zvyd0oeoXlrtvpirkxxwYgjcqkpylohlrqmijosmteQfUrhpwqtromhlnmai0mjssnpTyRyirbxUdtosljYqAcllpjmrmdlXlklmasellinYfjPcseQ0ioooWd9RphqTkprgeQffncroRhhzWjIqakk6dnwllnkjN9p+tnlppNbvqtlnZlgiwrlnlpvbbqqtrpksrlsJJkVggYcllqFFlpkkZmmhmmmddqkggjssrhhnrrgWWXSSgggstluufMMkppxxzwwkvzyyxxn112ww+++///22++r56aa11rwwrruupiihgkqqmmllbbrqjlljjjjmmgnnddmmppmmoogmmwwbbvv00tttuotthhttssllqpUUNNssWWmmooxxrrkkvvbXXooqy33210xyauqqtvjnzzLanxovgopai0mszbZmWhlbapsqmohAhemSnenrIyfTfbvvcn2dvwwggwwkzaZqkqrjvcfjgdbhhiaiqghiipfVinntihrjfinhgjmlzYrljWj7tklvppkjnAfjjMqtmhdd0wnKakjj9fVoddqkVc9q/vddlllkijtondfvxkibdqmuwwhkgelnPOhcSSgkhhigaahccAiggIjjdYYnAApwZZqggUrrhiifbbammgoostpffbqqqqqqqqwwify22zxm55411//////3366q27nnzzvvvqqwwkmmhgXoottiiddiigbbddnnttsllmmppssRRhhhuulliiabccnnhiUqqnnhhllaauuiiaappjjmmhhllggmmffmoorrsyzw11012kwrRunemjfhfXmqqs4jmfjZkswaXvmYlkqpRqaSemiYddqoigoYRqPuemjziqjxuwYnufcjhbcRWqhTRpocbbmbhjgboiRhqilknjjuuaYhXdosY2eqnUng/lfqvLilcchdmmelvtPhhxggimfUU8jpmqqiZol9q+nqkwwZJnqqkfodnoTouwowuuukltrhWXXovmmqbppkRVVXlliRAAnffjffpOOYhjjessfoolhhXnnKZZdffdfopqjqqsppyyrttcwz33yza449ww//////5555q73ttwwu11tt44kwwmlrvtuukkQQjjpkkooyyddonnkkeellttsspttffggmmnnkkiiwooyyffllppzzoohhUUbbjjddrrkkkkrrwppiiqxx00011zh0sdohPi1borplrbbnnRjwko1bcgfXheYdnviqguiroeGqhgdqlddUlgpehjrvoxjtrrjqsmZigoxolgfVlrrjYbdqmjikrnkieXccoOgLfmlimj1Zgldqg/onYsjdZlWrfjjlfqenoowjXpimvv6rqpSSqfnc8s+fWnssVdiitSgetSTtpy1gLxkkhfsqeTrrZqaapdkkjpookbbcWkkgUUbggpPPdnSSkhhKggcoogkkfaaeeelnnnnnpp0kk00uvvoiw110wd336xx+/////3399x91iizzy11uuqqorrtteotssmlllmmkjimmhhaafqqddMMppssZZkrrijppmmppkkSSgWWnnppwwccbbutsrffssnnrrooppggkkpkkssquxxzz3zxlzoc0okv1xtqwQ1rwzrohmgerafgscojflcrkdqdrbphWjlgn0jrhiilfrnmq0VzrjxjwnmuuZdfsjojlmjiigbirirdokojmaiaffnRYqrihXql1jCiljp/jNYthZgildiaaoSsngmm0mSYnmdd6mvgookmgk/t/wikYYjWnoytjuxhiomorwyzbbsWecZkeejsjjajttndllZlkQroolccmYYXYYmYggkmmZrrihhXTTjXXLkkvxvhhcpqZffuutxyltz00uwZ558yy//////yy77k30qqxxtrruuvulssssrtqvvbbeekkrVVggmmhhejjjjoobbppuuXhhuubbssmmmmffsrrrroo11mmeejjccppffkkllooeeccrrcnnppqwx2100z0UzqksgqonomtibnwozppmcciukkmbkqhoqVsTbimfZRqMojpTynkbjooUurfkyUtonWiWlSqeqcswQbfTmckjinkmkhnfnocohmTffonQskorihLzfpimai/abkvkWVvbpLffdmunfhhxqpnsfkk9lpahhslqa5n/vljffdNhgrKaifqshksvuhymmsVignRppnkRQclqqhgiimonpjkkfggmmmfeerbooleenttWiiVFFoiifiisurmmixxpll00uttojx11wxk995yy//////ww77q59ppyyyyyuuqqaiiZZqvtuullrrlluddooYYmmbhhTToorrcdmmippllddiikklmmmwqqxxhhiijjrrttnneeppbbrrooaaiilliiiqqou12201zvhxqokcqmuvkbnjtcuviqPUeVmgqoqlndqneMinjmSojiKpcbdhiVfookmurvtwjujuuxqxjwlhketrlXpopllgoerhcmLnkeomfdddujakednvtjzqkVaOB+fjhqjbimnqaooisuigiisnoojbgg9RirZZYmrl9t+oteffblqgukutqjlogwzqtzrrgbywvnqqeTffjsiiUlttnppngttlZZZjjePPsjiikoolnnjZZlkkskkoUUrtnllgpptppvvvwwov0vv0zu662yy//////yy77055ff55y11ssvvollrqlqrwwhhookkfUUllttrrRhhnnEEoooorrokkvvijeeppuuZZimnbbmmggpphhiiggqqssllvvnmiillxxhmmvvarx10022vuwtsotidqupkjtzknmPXkmmsufbnrgjkhngdNmsVhhbgjUbsbnqpqoiYnnmzsxnyqtUfhupcoletqjairlnccYgfgonhebbkkseiZZjmhqhZfnfjxgrcifj+iZgsuZgkotdddnctpdRRymoenfnn8vhtkkslgT6o/rxkkkljmixspjilmspgjtpwyywr0ynrwvtofeVRffUpgghpppgllfoopiiinnXnhhjppkccNggfiiqKKULLmoxeegggrjjrryvvjo00001o114yy//////1199w66qqxxyxxvvssnqqpotutyynnhhmmoppllTTUUjggOOuujkllvvpmmppttrruuppqqrggCCZZffllwvqqSSrrmmssfeqqttqqhhqeemmpwx233zyujzphwtotvztejoschvWwypansmgmqlaPflikjxuclforeQdmpvpnqflekjWsvsfytokfqinclggvrgrXkfbiimqmqZUemtfdsumdiiepfmlkelelyYfkLpl/qdmtkSmqnluRSkptogmmtZasfgxx6pdommnrlo7o/0ggVVbnYououorYazeuxys1ssYtxvoXbauxcceAjjmlaapoofmffnVVhXXhbbiQqqfXXdssneegkkeRRYddnpxoofrrxgguu111lmx11vyv66400//////4466k36nnuutxxttyyiqqggortttffppkkvlloogfqqkmmggggggqqffWffYYppjjllhhiipnnkkssnnooddkkmmttkjmmccssvvqqVVinnffvwy244ztxVzrivWiocucestWrkgobhqnreylbkgibeZgohrrneZMnfpfjlxpRrqlihiXhYhvSioiqlqtkcjldptidgqZsstemgufkanootnvkhhelQsiqonVezjjekrX+phkwiqqhPliffipqrhllwgneTdoo/ihoiikolo8p/ihglliqrttoqvitvryz2rpyxxnbsqRhhhglnmmanndjlljnmZhZZkppemmgYYlQrrPrrbeeneebkkclljoortxghnttldeuutyyoz222xzm772yy//////yy//iz5xxyywzztt11syxllZquqqJJKKTTkllKKppppjssmmllrrKKpplffxxnoppyyiissimmpqlkxxffkjuueessooXXllTTdciiTTvUUjjqsu244zxxLwyscjdkolpspoupjrqmlsZbwhihdhkdcYrjoddjnfikemNrisoslxdllklsZkntkvjsjmgsqGkpmueqinknnhobNhobiUndqDjWiiekhpjiggei4nqomni+odkvfqfhllTiicSumZeeudZijlmm5kucffjpig8v/tsNhhherpvjgwgfhnxuxv3twwisywWqpotnhhqFffljssqnnTZnnfkkiaafccdjmmoooYeeiZZUbbpcceYYfhnmmWvvljjxxwzzhr233tvt445zz/////9rr++m66ll001ss0011qvvPOpspuuccmmZZdmmaahhqqdccjjggiiddmmdiiddvvUUsshhwwhppppqqrrffuuddkkddQQccqqnnkklliignngghuv235yyvd1xredsnrXjlqxmwuukpotrmxfthhXfbjjmbZvwminjfhqmkhbqpnskhtkxnopwsjTrsroosShqsxrorliooonhrliqTsuelXnqShhdpZjmmjYknxlusdXg/nlktWkhhaXgrrrhulmXX0eldsshh/opicckiol7s/kecmmhYpUucgmXrtXpy1tu0pposqosrmmnYmmflSSDqppahhnllllcchmmgKKlieeooolddkvviiiiffbooprrddcgglssxxsssmhw221vj334xx/++///zz88z44uuxxuzzssvvXbbtsz0mrrnniimlyrrllnnmmYXXddZZNNpplldppnnTTuuppmmlldssttooeellqpppiippqqmmEEffooaajjallnnuuw437xuyuyrliiuRorsqlnptrgkukohotTabodkhkptwoAjieopUkoqodfkijrpkprkojoftpldsqqmgillptsmkdepXXWfsoudqwubgqehreeUcUfcbriwe2Ubpnjp/ZcbwmlaZjoRlltpscYuuwwiyncRR+nTqddrZjk7o/jlsttooedwqqvsdfwquyqs0WWsw0xkhWVvVqpipmmosmlmllemnnfjjkaahXXdjHHsllfjjmaaollPkkcqqprjhhJnnooowwwxxfYx55vyZ335xx//////zz88p22tt11xuussvvquuffnqsutQQaakjgiioooojjYllkkUUooMMkkqttppHHlluuookktssll11nnoottffaauuggbbttmmrrooeeYFFtthuz465yusvxqkgupjmdvplpxpjeliqxffutGlojovQpitmzyHqiikfppsRphdOysiqvXdknwQwvmkpZoonsTsplpidoPnndreapgrafhOijkreelqiolhrSmpzfruZpi/bmjtqpaonlmoohbrnkLLuWjVefkk9ctnaasuom8q/puvjjepsexqlrtrtkypsqt0uuwotryqpoSennoRffkeggljiballisslgglkkkmmmpttaccpeefllmMMWoooqsiimrrnYYuuv11ojw44xxs771zz//////00//060qq33wwwwwzzvttkjcstxwlljjhhujjttuuddjllsslleeccmmYstWWnneeiillooaxxzz00bblljjHHvvihvvppssiillnnwwnnnVVqsz6470wzhxqqnsmtrtswlayuwnfuhppatiirqpbnlhYXhVpaotZlejJKkpoejrhflttnqpdy1tvxjocmihactiWjoeZbbkmerZmdmtaliocZhhZmnoYijVfq2atRgqf/eciuPhmkhmimmiswnqllvUmfkfCC7ejvssmTXf/u/pihllkfnqsafmYlnn058p6y00WzmkllllupffmXooioDDPmlfoddgeeeYYkkkgaddnllnXXkmmjeecWWeooegnstcjjtsssst00sRtxxz0q665ww//////1199t6/ll00wvvuussawwYXipwzzRRWWhhiiiWWjjnnommoojjqqrrrrUopZZllrrttppiidvvrrvvwwkkjiccccddmmppjjuummeeuuZffUUrxx355x0wjxriqirVxpvgwqpprwkbakdqyXqmdhbglqixYfnmmtSgceUeTvtmlqbcpplyaoryjorovcchhlrxvgqnmdqcchpjpjjnflihQjmmiioddQthkqojxYqplvl/pkYsmcpbhhPYYcuraerrySkpllhh8ydYbbdqqn9q/rpkffceijrmurttvxptw4tzkkyjrpoWhhlossYjnnnnpphhhhhIIZmmioomiijpjjsssmwwikkeccgffYiiNO0ffdggeUUyzvyysnxyywwi99/vv//////5599f65ppxxzvvww11pkkgguvwwwkkffccVttggnnuubpolloozzooffWvvkkkkiiklmmttrXXllwwxxnnjjqqggmmvvsskkiieehheerYYnnqx14761y0uyquZostepvrlnllgjbnYbbwvaiSnZQkokuXfkjpqnqYTkmsVkknersomSrxjxltrrqrkWnxrhigsingffeccrinpllhTlhoZkopffsfkoTgfmla2myjeVq8foqwSgitmmRiiirxhUhhxnboqXmm8nimYYpjmb7s/lcaiiegkkoJpAnkmoytw0q0xxxhwuwVWWyennsjgfkoggmihkgggWjjjffdllndtthggrttmXXellaaalooaclqqkbbxZZxxxttuhw332vk556ww//////uu//x48ooyyxqquussXqqiilpvssiippaaQbboojiffYbbppllllttoonnnfgYYjjophhhhgWWhhsswwXXrrmmffddvvjjssooXXjjnnloonnkwy4744y0mxvqmipwzmrepuhvxmepeziusflllpdWpvlrnlsglmZgjpmdXjjopouZgunFYxmxZtswoehulqUkxkNhvlrjjebrqdpfrblnmejtllmuluojmgppzSvdVbg/ePowaudeclgoojivvokkxwsZUkff+ljwTTkjac/t/UrnVVphthuquomlng0x0l5vqppqspwgxxlpkkmohhnpiiXrrSlffknnjjjebbkdmmlmmdoogllmkkAeebggmntqqawwrjjttossol0uu3xd77400//////zz//094mmvvuttttrriqqmlltsoosscbooriiNNllkklonttmmrrmmkkdllqqTTYYhhggYYgddUUmmttllwwvvhhssmmppuurrddAAZZSPPmmtw0345z0xtvtujdvrgtkqsdsnZwVrqnqhppvZYdllnYqcpulbbmbtdomGdqXXqlrpjeluQesXwv1wMocpkfaoqqjuenhMMgppvmYZnllbpnnbXXmfpmqmmopexcolemi9AqhuYoMibfhbbTlqgsffxcXZfmii7rihcctnlq8p+hmXoopiumungquvynvjmndvrrflqoissrqumlqhqqnjbbunnoQkkrnndjjcjjqDVVlggpllkVVdGGYhhdnnturaaVvwQrswwwvvhhyxx1zn771ww//////11++o75nnuuuttvvttgrrfeksrqqppoodddjjllttqqXcciillooggqqXqqffaaggssiisstxxnnppmmnnppqqggrqppSSuurrjihhkkrkkTTvxz263zzyVwttqqMssvosmwqnf2oolriXtppWnTdmlotwWiPokUkncuogigrehujXnduwtcuqolnsAkfnlekjqTRdjoZppgvkjjqKamnimopleejlmrhgdVdlxejbeqp/cjPqnmfnmabSSVpuhojjvhkhgXVV9tnrjjcMgb7p/dmkkkVfxturaisgiyvuy4lwuuvqljygvuhdpoiklljpllikkrekktjjWMMmmmjtUUfffjttiXXgffalldmmcdnttiqqonnwwvwwklx00uvh77722//////5599w86sszztuuwwuusqpRQrvrwwookkiitaajjrrhhnqqccooppggssffftunottmmjjkkpggvviiiinnnnkkUUttuuqqqpuuoolleegbbffbyy364zt0syqjprihhonlpsontugnirpunnvidcllnlhVchjxjlmpZZUqnplqmlsggYrnfXcrrpntjhoYrlnsokjpqitoodeoegukluZVafrmkkrulsomXjlhzUjbfff/jMdtcllprekLLgpvtgjj0iqwcYgg5ivLbboefq9q9koNZZhnXQrjigntvggnrxrvqqhfecenccXkVUacttphaaXcclnTTpIIYjjohhnffftwwToogqqjjjneegmmkmxoohrrkllxxussxgxyyvzn33411//////rr++j43ggttzrrttwwsutoofpqvunnooiifqqllhhooWllccllllppccEccddffqrrrSSkkuaavvkknmaammuuiipoccpprrlljjlljjunnppuw15680wyqwrgsnfroupxkuwfpyXlcroUtglhmVpehqbsjmhSirmwdgnnlcseokolnqzngyc1vxVwnilrjoraqgqfrfjiilsheioenihllYvghhkQjpboeebkzYrqiig9dlbtlejrqlcQQborlWddxXieocaa9fmQnnpfmb7u/otsbbhMkspNcqiSUrwmqx60jjxnuriSkjeippXfmmFmggojjuUggeUUeVVtWWiiqqpddPbbngggqquNNfTToqsiigffooouuvwwsw400yzs337yy//////0055w52kk00uuussyyZttrrtwmooaaaallfpoppxxnnoaannffppooiihssrrbbddssooddsllssaaggssttmmbbbbqqTTwwaammWWiigiiFFmyy578vsxt2rdvousyQdWmhljooiVdangxmjtlerrcuoSifmNsbjmZsZlVsliozulmrjjxwgstvpwpoXwjmpdogegmrcooflotqTvejldlUffootQFunjobuh2ndqhbZ/HfdwipnpVoRooqnwZillxhnsdldd6qLfiipbkm7p/skfjjdntiuomwuruskqt5y4yybmroqjhgckjishmmpoYYmjjmefflssfOOniiVmvvarrqrrnnnWssemmVrrmntrrmuucnnqquxxhovwwtxr55533//////0099h57eeuu000uuyyWiiiiirr0zeeeerrfddWWddiighhUUZZlleeppiooMMqrqrfgllkkevvVVyymmhhssggMLjjYYllssmmhhvvooonnjjQz2568vw1fxqhjikmujkjwqyRivclkqZgteZdejbhinrretsiYdokemeqngofjnnjcp0rftxovrpntsxomSqetsrgpitkkojkhevonilpoqntjjogRmifqqVa5pulbpi9ndaraRcuVjokkgrxqtddskdnSmbb5oojnnptrT+s/skFoojkhnpTptofhrukopgwjjztzxwtjiqxgfeZllkqookiiqbggakkjMMnggejTTpzzdsspppkiiheeknnnpnmmdqqRrrttwvvraz55wul22+zz+/////1155h58xxww411ttvvcnnZZwxo00kkhhnnjqpaaddppqkkppeessiiqqmoonnrrffppWWwwmvvYYccmlaakkddppwwiiiirrkjppmmttnnnqqfzz56+xwwtxpqinhsksestkzmnvadrpsbrnAkrWjmWaPgsaYhfpmhPldgkRtifqmsYm9qo0europtisZsaulbrlgahkeWWUWmuTdllmlhiepcfffnflgifdcowfikrpl/NhRsqbdNcaooonhvkummwuolqNrr+hZkbbbllp9s/rpokkhsnpumpwimobmswvm2tsrvywhdpotubbciJJnnYYnoojcYYmTTjWWiZZjmccaggkqqfggoWWZSSmppceYrrPsslppvvvqqjvxyyyvj775ww///++/zz++p++qqwwzwwssvvTddpphrtyyhhiiXXniillnnqqQjjjjffvvuukkrUVhheemndeggkkgtuuullnnccQQLLggmmOOkktt00ggssppWUUZZmxz579yuxfwsq0ghrmqlnWjvgqtTjihgoqcdobilfguonjlpmGoPbkqneioiqLsktrG3b23k6ormmo0nrbmqdnvokhkmaaklmohjhgLnpicejccgucpqbkdli0cxpjGc/oeGpYifkuefmmcWwbpWWxRcufpmm6aloiijhXh9q+nbQcchXbiurZilkmjouyo22ccUvkisnpoqmfeSeoolkfffccpmTTeQQZllnffRPccqzzmffpmmXYYAkkcnnefrwwioochixx1xxsx0uu0vl446yy///++/yy//u29kkwwzvvrr00pttjiqututppjillTihooppoomhhooccssppssjuurrijtt00jjaanuujjmmllnnllffbboogfvviiqqVVllnnniiuubxx777xwuowrosqlhgisdmXviswmhdqeoyolkOdnlhmlijqcrhmhdUgenYrlikssrpwxhkqu5pxlwgppnqysqtcooskjmmcpfhgormrckhopYggtrOlpocovlxcZldgZ+qharooojlYkbblftacaaxrtnjbgg6mkeffdnms8t7qEupppiYfvhqSxuwruz2nj0zzvpxukwsrprqprjsrulporffeOnnXrrpkkrffxillpnncllUkkTffeZZettfhZeekiitssttuvvlox11wve889zz//////ss77n56eexxuvvvvwvnllVVXpovvONffqqiZZee11YYgkkmmkkttqq00aggMMoouu12jkaaaddcckkWWmlnnssqqYYggffhhZYoottkkgqqkkrw0989yuwTyujazdckgvkuhkli1maWugoxsSpmfhPZEXzeYgfmnsgirridjpenyZSrurcstgoqwitwSZmkihkoqadekmVVZXfTalrXlqYarffggxrfmnoomkpypcfSph+nZqwTqdlchcddAoseknnziqsrSAA8ilcpptltU8r+uZbvvncrlrlskcprusmqzkrxwymwuqjkjtlllqfedsjffvxxrnoopnnhLLlmmiibbdjjbooRlloggSmmblluw2ssZmmYrryypwwUiuvvuud553ww//////11//q3+uuuuyzzwwqqznmpoapnuuqqlloorZZiiiiqqjuuggVVvvkkZZsjjyzqqssaaqquurddwwssvvppllaaggqqhgqqss0zggppddoqqoonw367+zxvZyshfuLm1mrspgpoiilSoUqaphufolaljlitikhjbqqqTjjoqlactrrVdntptrvowpxqovjtmufjmnjmlodjjooormjkeqdihUggOOgmrhqijihk2gsqbZg+apgtWmpeSxiooacseYXXxtfrkkss7hUkrrnuni8t/sTmlljivowWtqnsuuhy1mcxyyunmjqtkjZkooOmppiqrrnkkogiigeecbbhfffhkkYqqpddsIIkqqmggjnnegtookllcqrxxyrrqcw00x1p44200/++///1133t/5nn22zttvvxxinnllpsurrooWWGGnddZZeeoobkkkkWWqqqqrrjXXbbqqrrwwefklcppddnnmmiivvnnoopplloopprroommggeiimmkx258+1wztuwpwsimnwwVrlnipxmdhvTQtigltoccjfppKpcojptuNodDlookrrwbvzlpdsy1ivqwlmnskqogtpnsienggnjSRPoxnoVccmisjjpelMcitfac2hgdSkm9oOotWYZbijqkkYqrrJhhtooellll8nkhffllJj9q+nppmmnfarutjotprsu14zxtvvqvfdplxxgKfemmeejwiidkkechhkWWjffVllhkaapnnTZZWmmqjjkppMWWtvvaakssplluusuurgy11yyN666229/////4499286ssvv4yyqq00tzzcbpsprrWWWWddbiioohhppphhooaannssxxpggwwhhttkleegghppnnnnmmllppXXmmjiXXhhoooniippoovWWssww096/1x2pwtqmphpnrgfhvorkqlohoKmyikrqfcofeftmrhYKqlkkqnNajsepqqropzrnny4qynmnnYqmhiovmmhmlceepfdYmhjndeajncRkkhTsfUengcg1nyrimp8mmrvhnViARhnnngrurRRupsmlmnn9tfoiikQrp9r+mktmmVooryvcouvxtsy1mszxxr1gesmmmbpaZUarrofddbonYdiinffoTTmeeukllirrkffkccjtteSShWWstunncmnraaxxu00bjw223yu77300//////11//h73zzxxyppsssstvuqpOjtttWWbbJJRPPllzzhgijjjjoouuhhccSkkiisslleettmmEnnttWWeeqqvvccjjjjkkssppllppnnkkqZZbblwx48+21xmwtpjmplqwsmthpohucopzjmlrmXhhfktksAdrlgrsnZcvorondalnkicywmuesvjTa0o1ijvxjstuUmdmphhurOpkfmouimYneWWWqrtlpUjlnh0TdmZdp9bfhrInaXghhffkrtqdaayhdpllnn6onsjjnpjm/t/lkfiiphusrlluioqoz25qvuwwlm0yavsspdqpjmkkjgllnUUojddijjSookYYkcllisscppniiZXXaRRkjjqsujjQIIpttzztwwhqzzz10e225yy/////+2299293WW00xyywwwwirqlkptrrrZZZZkkollhhnnxxXccqqmmeeppddmnnddjjrrnnttkkpnnnnbbqqedssuullnmhhiioottllmmrrvnnoory1768614funpofcvtgpdeUslfummruhsrYnoonlpdfdllupoZmgqapaleuptojjnyf5olYotq3c3yyqvgpgongjlkklsspofdqvnklYZPUldmmkifnlccsik0VmkUam/nPpvmmoqgnkMMulvmniiyccmuMcc/rsammoAbk9q/XlqRRcdrevrkscTVrkmpjsyssouvtehutmuttlkutkjhhmccdfffeffVooqZZkSffUffmUUcffkhheaaWllegrqqeoofqqvvxuucdxyywxj776ww///88/33++t52bbyyxuuxxxxbnmiituruurriirrpsshhMMpphhhbbiiqqjjrrjiiZZggttqqmmnnujkjjzzttXXssmmffllsshhttqqiirqmmellqqkz1599123u0pVmsqnotrb0mRapvZdpvlm4giomhekWgqlnrkgdpajjimvjSxtCmgoyv0hhwpwhx2qvtUzjjnbqhXcrihiiegoUVmkirfhpjlhjjcWoldiehnY2WvoXjP/jgqvjeWZcukooklwqillvfiXjHhh7afsddGaia7w8XYseehWjqnZpthXZunvyxutqquewussdcehnnqUllojjibZZYlqqlllpAAdjjZYvvnhhXqqgUUjbbjeebhhegopqejkgllyyxttpy0wwx0s55422//////1188i16xxwwtssuuyyvhhhgqumtteennnnrffnnqqhhimmnnmmnnppkkbopkknokkvvKKkkthhoouuiikkmlZZmmjjRRjjiipprqjjoogkkqqsx2598321xzsomsjqbrlpNkxnaxumr1qlvidghpOfkTtlkhouTnWOVqXrrqicsvpmhtu0owuxvyrayrvtgmolyaulukdccfbWZgfsZrmUXooWbbjnqrncqsgk5WwWPrJ9lnZsYmohialiijmutfqquopiqkde8isxeeseae7q9gjmhhpYaktqsyqfgtsy1sbuhhnwljqldcrerqfXgglnVVhpplJUUeiieaadddjXiiYnnnllZmmtffiddbiinpjYYd11uddqqrssmtyzz3zh445yy//////zz++3+0iiyy4yyxxyywtsUUrwp11hhllrrieennbbuufmmccllssoonndccookkiiopkkllqaavvffaakkUUkkmmkkffssXXttSSssppoSSjjkx1696320g3qdxXxnrnfmshYdpxttqreanahbgdVegljtfqmjouWgiepZmrjswjfpm0to3iwpwwshtSg2npjavrnpjfjddrfcvYmnqkSopZmiWWeuiedmcjchzXYhgpY/rmnuYkGbkusttaprZpGGxplqjdpp8qYmccmjfl9u9fhohhJharrlmtlgirjlotsqwwlpVTnkvviLrqkkppkjjjmrrakmmmnnSggZWWPemmpddbrrollTeejUUShhuwtVVllltmmzztuurvzxx0vn555zz//////6688o17ppwwvvvpp11nmmjjjtqssaannXXcggkkxwAAmlljjmnjjjjttqqqvvqqttccllnnavvaaqqppddmmnnhhffqqppqqqqiiMMuusmmccpz136631ytwuropmjpwjWfqZnvrkjryijttWlUdiYijamkkamebnWZmemSpmfqcmtsqxjjyt0ywmwwknjlVbaoltqkukssiheihwimpRgnkokYYLRiTjonrnk0Ypojml/hXivrbhqjakZZmf0oiddyijZpegg8okmllajgc8t/nmhfftghrumprirtGux0vq1qqro1zrohhkqSSraOOnsaabbbeUXXoVVhRRfppbnkkfhhlvvennohhmaaVkknpmyybhhsmmrrtssjf144y0p003ww/////+00++w75jjyytvvwwyxw33cchqrssZYZYmmxhhrrppmmXrrLLllccssssqaaiiUUpqnnppllliikkHHiimlnmllnnuurrjjwwiippffqqdllfftx136742zrzqvmwooxmrhtqpiu0qocsmeykqVnlfhtrnwhierblvjbXojnqpeTmtrl5qowxZ5utt6kwnwmqootrliMsevvrjvjpogfclrbWRpiikbcvtfjSvl0blseak+cfcrlolmqmeghciyieoozjSAVYkl7jmmggvqHi6o/lgioodbjgsfnxpoqztuxdvsffnidbZnkkvvvujcrrideeqmmmeiiqqqihhgcchRddjggjffdAArllSccdggoqqlleqqmkkuuvnnsu100zwn22511//////xx++z85nnyyxxxttrrltsccotuyyllooeetccllnnkkonnttggff11vvmssttiissxxssnnvccppoottddsssrooiinnnnttyygghhQQgqqnnnx054431wmvshhckvrilqsmyekllqZfgqpnkmoklcianmmjogljmrgcmRitppduwnxyswnopqjvuvttmqrihvrejlcqkjjoZgoRtncfXfgvommmogStiffjQc3doodWA+nlWtinmtiqnllgrtmpmmwoUqpjhh8YlhggRjnl5p9XfNnngllhvphVkfhezhkzg0sskhljxronkodcjLnnjkWVknnaqlleggghhVMMcoooiooknnmsskkkijjallefuiiXttvffzzvvvasyxxzwh33511//////xx++x73ppyy033vvvvjssVUuvoyybbYYWWpppnnooaafqqqqhhoomm22LBBUVmmVVqqllttqssxxssrrssrrddsrrrddooqqoonnffttmooeepw1455510Y0pmydeqYvrologmptsnhupkymoecQladomwgtktinqfagdehupkVwvsqxszw4r3QzsqolqlmjrqqpoqiomiiphiopoijkXsmkhZSStochdkkslqyhdsjiY+tfdvkqblelkmmNntsTggwjeZnncc5sjlffqehc8q+RepkklomftmdWlTUwh13vdzxxspomlYqqfpnmZikkgpqpslltlwwWoolYYkXXqciifllrqqckknllnWWabbjlmhhkppkee77xxxPbx001wk33400//////1177w46jjxxxxxtt22nbaWWwxrttggPPttlnnjjpoqqfllYYppfgrroomZZllqqppllppttctullppuunnbbppooiieehhqquurrQQxxnrrnnnwy5691xwn1sQjkscymsopfuTsmqmqlnvttnVjcTiWooxUlYlfZybQqRekdpnltqkdv1ulsg1wupnnrsrzqvstrOnMjlmmjdkriVhqsedCsceffnpdghlgiZhzewncZi/imjrFnamflmddlhyhRiiuKncledd3kklZZnWoe9t/jmmddXafZrdikbprTbfhSUwvvogrqmguuosnnikwwntYYpkkpnffbllVddriihfjjollUggPbbpmmniigddghcccZffdjjqquzznsz111xq+++yy//////55++095gg111rrwwvvwsrIIeptuuppeeiipkkkjVVrrjjjooYYqqrrqrkqqwwRRiijjpqnnpuullvvrrccgfiikjmlccttWWmmccXXccSrrffszz5654z2tsrvsitspZrmprpfqqfsloSnjlshuejfkWkcPedeYhkecamlkslfoXeruTxWrmz5utozwljnnlkevgoidkUXXpntrfepjhliPdfYUUobitdZqkLo2Zlcjdo/VjkwpQjekjTmmggyxVkkxpTXgjgg6jotmmqXkX6o+XqmddVXYftXgctnosptvqptrrZmrpkYiinmXXjnmmtbTSaookgffvnnhppkVVsjffoiigpplqqlhheTTjllrtyhhattnuuuuvvvhft22zzs666xx+/////5588Z62oowwxvvvvuujnmWWgrpponniimmnttllddiiXqqccccllbbuuljkopffabttabpppttrrookkqqrrSSddjjrrooutttOOjjjjfZZvvvyz46652zltvsjinlxjstwtyfnuqif2Yj1nprbljnmnvkfgeTaqspldjognsqrjnvn2xi11wqrxx0ltnrsYqOrWrgqpsferkPrditmheicWqgffiketogrRjfyVujqni9phdspSKefbsjjXetioYYtnaYlgpp8olXddrjri7s/mtqnnhlnpslVgdprttuwj0xjjirrpllgfjxmmYeffOhjjlffqfhhittcZZckkfviiarrbsseNNommhbbhXXiklnnZppkssttvttqqxzzy1k33511//////3388p86qqwwxuuqqvvTqpttZntrrQQhhffgjjqqwwttYqqkkmmiirrkkSrrffllqqllccooxhhrrnnnnnnoonnmmrrwweeootthhiiiiheeppkx1246521o1qiqegpqpsjxgzqv1bdTsblvXdhUsljUmlefVheaocijTjdsvoiywhvYdIoVsrv25u0qlfwqwfsrqnWmwPWWkraHdrrmnkVvjqSffghefckjgjsyXdqLYf+pqXvbbnijeieeWntWVhhwmsgeWpp7rbdnnpgsa/v8gScVWngdioIbtoVWpksunyvqqKrbZnfoovGoogkttnbbbTdcadfffkkpnnillcobbpmmfnnaWWmddkjjcoonpgUVpmmroo22xssfw0zz00o77700//////zz88q12eezzzxxssuudppeetwpyyddoojjmiiuuppiiAnniillffrrllmdduussrrzzbbwwujjkkmmnnRRwwOOttlllleesskkffqqttmrrrrsz1463442txoexTggejobxtknrzZenooepjcoudsknuwRZPehjjcsZrhuhhedlkmuttfts0emzuxowgfsvgcqndaagbjnnrslqYqdFgobXgrZeehkihrktrsowerigVa/kqbuXrnfpqWnnUktuZSSylfcukXX8oWfZZkofC6o9lopffnilqukhumqrlpuwlgvssppwvefccqvhhhchhumddhppvhddneeYoocZZceQQgkkgooijjmffkYYjllfhpqqZxxuff33urrnnu11zvh55400//////xx88l55nnyywxxuusslvvsrjqunnjjccooheelleeccYuuooffmmppsskrrppjjeefgddtthppkkqqqqllvvttrrppZZjjuullhhkkuujNNrrqx014263xmvuLrMnupvakoptcwwksoqcn0tvjOkithigngsrjkPgtZgqukgqtppusalrzJUr3swt100kxXwyzsvAibWhYYkepgccmojgflchhkklkUsnmhnkn5nXncYW/okiwsniabpcnnhlvgbmmyibloZjj9nocYYrmhf+s/opRYYinjhqSoNbcdnfnpiasmmgbpogdnngnnmpnkkiXVVkjjQnttYoofccehhfahhnggfmmgffSgglccdkksuzllXvvjZZrryvvqg0zzz0x55300//////vv88h09hhzzzzzttyytonhhx0pvvffhhoovhgffjjmmfqqeennllrraaZddnnooWXssssrrmrrIIuuuuRRttkjbbffxxeeooggkkbbttonniiiy4234+41lyqgdfPdhxqmsmgqosuifxnq5VYgolgqpnhuifoietrllYmblefcsgwsir0putt6pyury0p2voqpsjnhqefeeWiSkanXjRkenioRbbmUmeqhhbqtzmednVm/jlluoaldjpleecZpslggyhhdpqgg9wpWZZtfrp7o9smpddfocquppshpqnsEGqsxjjlgxwhhmmpqOOnlppkjllijjdjPPcppfVVmWWomhhVootbboYYgBBlbbjYYNPjZajttlnnxxuwwi0200xwh33400//////ww++t72nn11zvvuuwwlmmoonuowwookjmmmoossllkkinnnnOOssdduuYeeWWbbuupqmmopvddkknnqqkjttqpmmmmkkmmvvaannmmjjgjjllXwz314560ruqnnnovqLkirYnnqperhuoputsegXmgkZcninqpikoOPtnoWkzcmqqqklpnz3xu3uY4z1v4qUljwssohSmccqqcTjdvmmetfegRhhqpmmlnqnkgzfkopse/gnntprgfpbbmmTtvrbPPwdnosiVV5giiggZcij8q/tjokkYUufrboxmpqoadermtllnupoantsirkjenqpVjddehhlckkeggdddekkmhHHYoodddjhhmqqgiiennmnyqqlTTmkkxxu33jku110ys225xx/++///22//064kk44xzzvvrrhqqmlrurvvZZccddinneeeeuubkknnbbmmllvvrhhttOOrrjjllqqqwwkkWVrrssYYiimmnnnnrrvvrrookkkkknnaaHx1340931f0nianeknoboswpftxpmHlfascnjnobQdlkpohhlrjmshqnmirnsmgx0214z3yy3u+43puy0xrxktmpWaXgjjVsotpdbovkfgjlpggrklhindjju2jpprpk/rqhtrdePjhjjjiXtftiiwspnncss9poqpppndf8r+gPjXXamphqglwjophjuvaUxmmuUonmtrrQsnnMqaanfjinhhOVqqgppYllbiifjiidhhfmmnjjpggcEEjccgiqllZccuhhzzq00sdx002wn665zz//////ss66R24YYxxv00ttxxfvvoortwqpeejjfepnnrrqqeeZnnpphhUUuuffeookkggjjggjjllioottxxqqZZttjjkkrrnnooYYkkkkWWooYttttgw113275zkuonoglwSlxcwymhvsUoihfkmrkmpckiaYkSfAccgaVHhhGdkyYbwnx1oy1lpz363ve6xpr2qylzxStfpkussrhlusmksvirvMWjjjlrrizjppep2rhimtq/usksusq0tvuhggVvlflltqmrjbOO9bnpllovmj8q/mqiuvolsnwlnpmmnnZqrditooonNMZQqqjzRQqeffYTfeeGFlQccZkkmUUqiiZnbbcnnmXXinnjeeqPPfkkvwmssewwnffttx00muzyywzx336xx//////66//o+5TTxxxyywwwwTtsllnsuqqeeoooonXXjillccUrrddmmrrhhooonnkkeemmqqmmqqhmmtthhwwjjppballuuiiZZuurrZZeeuusuurrtvz043620q0spwgsjqnzxzuaoeqksVclrphpqGobnpvjpktjlopsnflrroKuxjujkxuxxdx3poz18xuwz1suxpHkrujzoovvdoiqkttVYrjvynnZrptofgpvi2svmfsg/R0rxupwextrjjoruoXootwskrqoo9sdrXXkegJ9t+vnknnesnatmhwmnogpdfviyYYdTsrlkjispfekqOOalffoooZkiiimmpnnpNNjkRRgccnlliccphhcnnkkkprkiinbb1vvzzruupRxzzyyj44611/////+11//u37bbwwwuuvvvvleeedhruppmmGGhhrkkjjeemmcjjggHHjjvvssgTTllbcLLtukkhifoollwwuuqqoohhnnrrllmmwwrrookkvvrggiioyz135431kurPmlzxmofrrkppovdnnpjasnoksulgdihirBjkkibZfIqroqlijt2dquop5019i0e3100123nyo1wnnuluuqlpylIipqhUVcwdpptxrv0kipkj3uopqVh+xq56htYyqpSyxrazvrrrxmwaftww9xqqdduYmk+s+msXooahrutfqtmMMmgopcxwnnbwtsgiqqeuiikjmmmvfflooseffhttqYYTYYndjjnggollAXXkjjnggUkkrtollpoogfgwwrssaryyywzm44400//////2288x6+oo221xxyy00jiiVVotsqpmmWWjjoAAssnnqqVffffQQlllldddppeehhmmhhXYjjlssnnwwoooollpoppedyxwwggggjjppttqqqsstvy265033rztlnUepsooXlgnop1kzivZfwirqcnibmolshcjbKpVidijvbvsn1lxn10lMt70143w730pzpwsyuoqxuluooqny2t1o01brxkjioozrrypwo0lXzgswRxu+0p02vymwofieethyupii2srsqnpp+xiMnnvmik8q9oUhZZajqjuJntjcdjgefjnvooajcbhkkkfuaZeMjjufhgoppZpkkhooYmmbXXUgjjmggIrrmWWhSSgqqhuuijsggbllsjkxxtyytnx22x0i445zz///++/xx66u72mmww1xxuuxxawwppouorrlknnoowssggjjqqhkkmmhhttopnnlooooqqqqopopsslccuukkttbbxxmmqqrrooSSzyxxjjmmjjmwwuuxyy1563zwuzoieXgbvwopXfofntjupvhtxnflkepdobtscjqmcomlrllkclxpnwepmx2tobw65v52w0s8muz1roi0zrykkwtrpqorcuXlvuptrrojgtoglqmt3hhqutv+noxzposvxkskkmrxfpllxtymiVrr6kVmooNgfk8s/VniaanrncunnummmnZrsfo0ssVmUTochhjlkjAWmmrqjjjrrjjnnassnccebboZllmqqekkINNfjjbhhfppdfsiicqqtqqssvyypw0xxu0s778xx//////44++lz6dd11wvvuu00oqqqqjrrutmmbboojkkpprrjjejjeeXXXXqqstnvvYYvviivveftttsseeeeqqffonfflluupohhssppooqqAArffjjsx22541xuqvutsZtrslulupvjvzpnskfcvdpospnrYJXyYsQhomrSckesiwslgdog4z91zVqp3m0xk4o7wnzyuPwajvoonvWpwovonpuromihjjsynptjepqlyrlogqw/seovb1llrwvjjtWxgguuzgwhpmyy7Yqphhkbte8s7cZsllXbojzwsvqjjkYklbltffslYYnlddidZYmqiiklnnkqqklqqhooimmsYYjissbkkoVVeWWgffWqqdYYfgpnogAAcZZ11wxxdjz00y0t++611//////qq++l64ss110uu00ttkqqhhluuwwffhhhhraZrruukkjggjjSSppppjjcssjjZZggssffSSrsskkiiyyddrrPPooggXXccvvttAAkkwwbssiid0434400wgyuqssfpyokgutidr0pprqqnojsZbnkfmYbqZmhicpqdXjcnnw1rtzau13ziv0047wuyxgw75vsxxuuurqmvvvollgsvmsiptvtbjjppnhZqokhWycyshxh/pmlvnYlwunhffipqahppyrukZmll7hrgXXmXrc9r/jfuhhZcokurillppvrnomexghugttkjhhmkkkdelllfbbojjnkddpppkhhmddnckkehhdWWqjjgcchOOeqqrstOOkttloowwsuumpy22v1u777ww/////9yy99a42uuyyyyyrruuqooiiZruookkrrkkvqqVUddkkcVVggoohhiippreessWWabmmZZbbunnoollvvooqqoossttffYYssvvqqonuuummeeV01z23xyvp0uSrfqY1ksivyndplqilkpYyifParraijfgXTqofoTgPfdnbusvjjsnpkvzox71e7l/07lyr0yssknwgQvkkqwlkenhbclrjlHcmmvXdegjDpWd3VYrokm/illsrrbklthllllueaffwpSjjgww6gfohhjYmd7n/jrsqqjnkgqggmZhhqxmnegznnnvtsfgllghqpZjbavrqqlffWiffbnnqllfcceqiirjjhttZVVewwkWWhddXZfllkssdgguutwwpe133wrf774zz//////xx88Z83ppxxrttvvwwvnmaapto00ddTTeelaaiiggddWddjjWWttmmjjmssjkssllrsOOkk1ppttuullZZuuRRddkkWWooggiittjjWWiuudds02212uxsNwtiqYerxpqsqtntdpcUcdkooqYndXAutniqKsrelmijnmomWfvrnn0ix4z12471Zwo7x5x0zsj2upvvlhZllnrtokxnmhigufidhhmvlZnTiralzcZrkrp+ksYuweebnpjhhcouVQSSxqbofjaa8qfjOOflgi/u+scXmnokmgupiemooPlqriruhhVchgWjssukkkZjutgnuujnnqlhhktteeefeejqSSmhhnbbYddfqqhggUooZarjkmaaoddvvwzzsezww0zq66511+/////0099n51nnwwvzzttwwbqppotussskkkkPPrttoollTTaeehhKKrrrrqqeaabbggppjjqqppnvvvvccRRffbbggiiwwppssZZssooddrrveekkt20141zw0i0tRaxkzhsZvwkxngkgUlprexltjlYUrfkncennjpqWnKoBvknqqod0vx0wortu77xv11w27br2zmqtumdshhqjqsqortjlfhRiaffkoQjhanhik0kqrfYj+fmovbwtdiumddpltcljjvqopoDYY8cnippimba6r/nrQooqlXpzwRtrstadbcmjxllkhsrrXjjlrjilhkjajllhllqeggqssbeelggeSccippXmmiggcYYVllciirtgjjlrr2jjuuyxxkqx00wxo112xx/////+0099u53iitttttssvufxwonpsqwwaassccujjddttuuYnnllPPppkkghduuqqggZZnobbddtggYYVVrrjjddppllttgfpprroollmmwwYccllc03144yswkurskpvqshulsegtnyfyfypqsnlVobgQoZWwemXdkrmionlpoZafyuridv3tjzx0vh66ty0k00ojkeYskvgllnnrYicgmwkrpuqillqohifjpRho3lrqnil+nnitnkriqkfiigmxuMVVwkkeuqmm8kndYYgswi9t8rionnqjZmvknjellmnklcNvZZomnmmhpovlRQknmlZoZZhbagekklZZgeeqkkYlrrdYYjoomYYmeelcclUUmoussmQQkllttxuupnxuuxyo22500//////zz88m46bbzz1uuwwzzfutffuvlttddbbTTkeeeelllldooqqppwweejjollrrkkrsYYssiilqqoojjsskkttqqXXwwwwllpoffkknnuuqvvppxy2002ztxjwmmpnpcwpkrlostportiqnhmqqjhkokqkqfPphmnsSdalmmnoksmybw0353z43wsn3+4kl3tyyjtgZmskpqqiomnjppqrjhnRqelldlkaqjrgqg3odPSHo/QWaukmkYkraiiohwsZnnyislmnll8qkVkkkple6o8lkqddetjXuectehhgqqrepvllgaedRsvvnhWWYjrrhlhhbhhdciiYnnhiiUhhZaoogkkNxxgoolrrgeeSddqs2fflppfllvvrssikxxxyym554yy//////55++u68ll33twwxxtthqpggTqtyyqqddqqkiillppppVmmnnmmjjqqmmloossDDZZttddsssssrrrrttmlPPrrYYppzzppqqrrrrnniipffhhly0202ywtnundnqUZpktwjpvkthqjdngjvmqThmdjijnnkVcrilrslowtitGvxqyttyn40510oy02xxu0yxrjuklrgfpgggmndjhtloZjsihfeenhhnmkVYmq2hiNibo9dfgvqnkuikdkkSrvwVkkumjmqfKK9unXRRobSi7p/inmuubojvumhlriiqpmnpsvSSrggglvedqrnmrdYXnjoorggabbbnlljgglWWomkkdmmhaakppfuumIIkooFHzooqWWmeeqqsxxkpxxxxtl44511//////00++l0/ZZuuxttvvssmpoRRtuuxxjjkjnndjjmlonWWjhhxxsslmrsTTknnssWWiiZZiibbkrrllssppLLnnnnaaggllkkrrbbssppaaXoollqz1334zw3mxppTegcvy1qhphtrvfpccfZwijopPtpjkfvhhfuufudimntovrfawwlsu0p0329r4p73z1w50npwpfesrcYYjiZsfncorgqkkebrrpnmembrekZyfgrgZV+ffmtkWWqnqpkkidxsfppyOjdrjhh+tZalltvvj8v+tonXXcWtkwqmpeiikhstlmsuutvkjnqqqkopopXpoldqqjiiZUQQhppciiTeeohXXpUUcZZlZZpkkTiijggQSqddmrrwrrzzxyyph111zxk33422/99///yy66273ppuuxuussxxzZYedgqvyyssppmmgUUeekkppkggllaappjjiilqqoooommttRRooqttwwppdctthhXXqqiijjmmssqqPPYYttfooppix12430v0Wuoirwpn2jtstsxcowstaohqmsSfbfmipjhoUtlqmVZZnjhnayvtt0s0msv3wsVyz1541rxw5ftxxpsefRhXXflUkmljgjqZXqTiIIgrTfefeqmf0elmfZU/egpvgmVqOoVggSstcYlluiopXnUU6tidccwbfk5m+mkughciiqukZutjjeQnpmmssswoqphommvujhhZnmZoiijiicaaaonnWlliaaRhkkfttbrrUeeZkkYffgkksu0WWrggtcczzwttubv22xzr666zz/////+1199k51eessvzzuuvvlrrnmsvouuccffdclooggmmppcggllggddjjuviqqttrrrryzkkeeqddoottkkvvppvvihggqqdcssrrlkVVnngmmmmkw0152u0waytrxorvanohsbxjskUwgqnlqfujjcaheqlyoorojpahillkgtermlynwyovd21015yqrsw40hrbvhIlhfelllhoxjegikAlqTrlYYsinfmVemjk2exqopV/ecltioVilgheehhtYkijvolitann8peqccrfeW7p/udbjjgluqwtkdrYZgeqrsnvjjmredtmllibkimnssnmccgiigArrmppennUddlmnnhmmdqqeiifXXjVVlllprbqqbssbwwuutvvfmx220wr225ww//////0099j41xxzz000yy21joonnuwtzzppeeWWnddmmmmqqkhhqqjjddiivvkrsbcllccuuuulljuuZZqq11ggiirrqqrrppWWmmrrXXttkkdhhddrx1353y2svxytktqlQpgahrymsvdgjxatsittoiSneeVsjcqelonhZtDjrhebouwswx2ztpow0Zwu4xpjyeVdrkfoqhmXWtfTphVogXqmknWceeYGpbpjfVSo2NhsYpi+dhQudjVlclkppgavigeeygrliMgg6ejfeeTnVh8r/yismmeastodmnoopfY01mrxppnsqpkpqqqXaZgdrrTmffjsrpnjjsrrlZZnRRjulleUUUkkrccollHddfllhjsjjoijZcc11ywwruz220zs665yy/++///22//t66rrrrywwvvzzlqqdcprtnnhheeooellttCCttlnniirrmmrrllJyyuuxxqquvppllwUUttffvunnbajiNNttttqqrrwwmmjjwwfnnvvixz3451vzixtbudkmptupjsooplbrgydp1amtjmgdsrWsnsmnhYpocfYorfjclqiswsnxpst3z0yzhsnvrtumsXpnkdPrrYumiicminamuQmgbbkngldTsmnlyooAaWd+kalxloVqkjdgglhxcdWWxoqtfRbb8qgsTTrRbp/x/vrkZZhtfoscfnqllcofgayweeqxedkpnmyoqplZmmqsmmnjjpmXXiXXjggrggogiimppannZHHYvvaeefVVXZTkkVllhppvvv11kz2yy0zt55300//////yy//l23rrzz022wwzzprrkjXvtxxccccrrrmmiipprrPQQjjnnooCCeeMijijllrrcdYZccphhkknnddsrttjjkkqqVVnnkkookkooqqlttkkrxw267yz4tyqvXewoupwlju1qtqhqlwdlzghngjfpkjklhimsopmbdkXgZimmnvxtnqwZszrkvxw1vdmpswktpumnqlpkkduLUbepYufvoqpiUUxdoSkmonkl0knmknp/oggvfXmnlhkiicrsmijjvgpqbdff4npoccplJh9r+mPnhiiruqrdcsqeegpvwfovzzuolkvronhswulqjijsggJmmVcQQcssZddRhhmOjjoggjppapplmmTggaeertfkkavvswwxxvrrfqyvvyyp775ww//////4466s82mmwwzwwttvvsxxffmrsppggTTccduussssooVeeaakkrrYYvvmnnrrggppmmlmtuvllffmmeejjttssJJffddoniiwwvvppeeosseeDvy447zzwoxpN3immbtukrsgiltQffjqkjksquhYflprPjpsfGwujkSakpiqmk0mou2vup2eeowvrosmxotinqlTojmlppshksUiikabXjpljjjcseplpvorm5folhmi7erZvoVoWulfhhfrrooiiwnmWYpTT8Zchllgdgl7q/cxbggfcPjteqhpXYOnmnkrynnqhihfippefqoWgWVrklleddspggqttXhgbZZbtjjrccnppeffkllellkrregojjnsseYYxxuvvkjxzz0wr226vv//////zz//r7+ff22wwwttrrlssZZTqpssnnVVggnCCssllttkVVookkggsspqghhkkffppaaoollpqqmmmmvvqqiiggmmjjvvttsshhcbvveevjjooquw386yyxLwslinpm0vpQvZqtentllteSyYVgYdlqelUetiljhlooenVsnnqZquhskonXj2nWYqshvvpitqvjnyqnccjffulXZjiahafsvopsccbMLkmemjlZyeldlng+khovVejhUnebbpivrJccwdkuqdgg6maZkkufbf8p/prkkkZipXsajlunoUqwyuxsppswWVuqrrbkbZquihrWihQbajXQQdppSSSnKKZjOOqqqqddUbbkfffPPdmmnpujjkFFnccuutzzlyzuuywj559vv//////yy99x64iivv3vvxxxxlssmmhsrxxookkuuoaammYYoomXWZZkkRRhhrrpnnuumnoodduuuugeekkjjaafevviiddiirrhhssuummrrSSsoooopvx4650wxswqxovqstsWUcfhqx3sogaSlyomknXhLmejpmqajggfWWkpkKlrammrqpxrptmppiwcvuntwisphqvlAlldrqtcnnlYiaffihkntffmxXwnqcWqnzTxadkh8eglsbmNgmsnfffHuecccvZXmlomm9tldYYlira8s/rUarrngbjxpqjsVWrmkmt02hgnskjqixxrocalqXWlqbbceeoeWWmeeVOOVggbammmjjjZZinnsllGmmYeenpsnnXttallssvxxqr133xvm22511+++///44++w44eewwxvvuusskhgbbnrtssllnnmmlffeezzttUIIeennmmmmrspnnhhvvOOeeppvvqnoeeffrrffssaaQQssttkksszzeess00fmmllmuz56610vp1rtegcdsvikrmpuoaoZlimnkQVnfiaegghuUpmgksYpZUiphlgdmukeerzlqrgurQQqpbkKboplsapomlpjjjgnXSkkpdkkVfVcccpdOjljrlpTyXjkjfc/bWluoshmrjZddOhukbaavoYfsmnn7mktZZsNqc9s/nohmmgmei0yOpmqqurdf0qz10rsgfufRRhkPOZsffnorrfeesjffnjjdSSnLLmhkkmwwlbbaeegmmkZZioonpqooinnqjjssuttpgwwwzzp446zz//////99//o05aazzuuuwwrrqssppmpvssUUhhqqjaauurrkkXooggUUmmqqTUfmmttiilmlmkkoopssNNppVVXXyybaffggkkmmhgzziihhUUmqqiimrz2361z1nypk1vch0sbsynznmyZomtofoohmklimlVqvXaogOjqfclshlbugswlkpjsplxfqtvcugjmzfqqdpfdWlogkkxbjfqiwpkWvWcpmNNopjiQUbhef2irjbsA/gjQwhifgekkbbgsuQFkkskcrnYqq6hkpBBnkgk6o9lwkophgiwvqmimqrttsupzznnrgWVjsuugphftbttpkoogUUiKefjqqgddYllmFZZibbhnnJooUrraddcnnklxrrbjjYttyywwwqnw1121s88411+//++/xx88v43kkxx1wwzzvvennuuwyroommIIbbpVVmmmmddfqqYYjjllvvccommeeZZllkknnttsqquurroonnffllggrrrrddggtteevvppoaammovw3341zznxvqxdnu2qYtjbjhnydflvluvhpegofnriougphxsodWodgmlkrjptfjkm31lwt2jxdunpgYvljitmjmppmppMqkpnbyfgrhptkaoojkZkdglemaylZkgft/jZluhldhiUYhhqdukfNNzsRjmgnn9gluAAYkng8r/lGknnkkmhtppkifgsolnttxuujodcVxmmmgfdquonqkddgonnojjlpplllZbbabIIhxxjppihhicciaaMmmVWziidoophhwwvssvWz22yte113xx//////3377l44hhxxzyyuuzzhwwffeso0zggmmlllPPpprrnnfddXXffYYggvvmiirrlmrryzqqxxcvvrrggnnggxxiibbYYffppwwzzLLuunnvllqqsvv343001eyvl2wqwslXsgnrtoyokpurrmmmkilamkrxcjztpohoqhWbakqplopqopfxtnny0unoyoqWjrZmaqcmlcgohhhkkXUeqjIUsUncXggsgntmVihgi3juUrod/qnovrgfeitiYYfuuRZoozjqbZwmm+unnttliVA7q/VqmmngkhtvasgwjjshWYuuvpptm10mmttjuwusrutweppjddjdXXgMMjllgccrsbbiccgRRkhhcGGaiiinnmolqqheetmm00uuuppvxxw1y887vv//////yy//o31GG113yyxxvvekkQPptqoohhooaanddooqqddOqqeennuujjhhfssLMefkkqqccaailljjvullnnrrnnQQppJJttggttnnFFffceerrcuw1433wywvpjvblx3laswnnmRvbmgxqUvXjsmhYisnrlpkpfedeugncgRsnXUnmcdrzWtdTmkqjpflrplflqjqclmFfYYHemYETUegOpjdqogglefimmmgVszaujkrn8ceGqJjcYhXSUUmuujhkkwphogfrr9rdqhhojjX/w/sjtijjWplvlerXqrtonqzuyffoxgfYdwwdrcapflkplrqaiimammWnnfYYnkkdeZZlrrniinjjXnnejjliioqdllbllfnnvvwvvpt1ss21w773zz//////5588j/2kkzz122ssvvenmgfqtsqqffooSSdkkoouuiiblloommttttvvmnnxxoorrppQQjjtccjjuujjmmkkiikkeemmnnrrttrrccZZfrrllsv01131yzttqptrpqtqhlmrhkixwjhzqkmvgkjnhktfumhluvDlojZGjvnnaZowtaMfredrkstfldibnnomKcqkpIdqiffsmcrbtifpmojgWkhhbqolhpaaekyTnoipr9hdeukkjgrlqddknvlemmximSvjgg9wZnddcphY7p+doosshsWhqdjbXqrbmlnozzsruvjiiqff0vkhnvsrproofggjlggnffummlffanWWqiiihhhggellcUUbmmmnhlldrrqttqqquuqlzuuxxg333uu//////ww++u96ttxxtzztt11YtsbakrrwwffjjddZhhTTPPUUiqqrrmmiioopplnnkkjjoottooooiwwyyuugfZZrrooiijilleellooYYrrwwhiiaaRvy15310uwwpsvoQoYqqjuclfwkvvleoWpqdmhmrYmnjhSlkhipjpksZfkWgsnXlpqdkbXpdswfniqicZtlkmnqdkoisVVrgVtnjcWngeNcnaaaiinniVldhh4llmZeq/IYftgiigPZgnnolulfllzkjnZXgg6olpNNcmjX7p8qeqmmousrsmcqkopetuwx4zeemmtsr1lldrdakQrqopggeRRggkkgdddbbnddpjggprrglljlldllWaafjjrsvffpllhssvvxttWh1yyuyu55200//////33//p07tt221wwssqqmsrccrtvyxnnggpphkkssxxppmffddWWnnjjYZhppjjeellrropffukkaaUUmmUUjjhhjippKKmmnnkjlliillBddmmpux125y0xmxrzIjhliozsgyklqtdkesugrikqnoqebevtleamWdUjfikirlljknimckkxv4niloeovgmpnOjfwucPXdqpppggrShrqlkknnjcTTkoWpffiTqk0jrnoiX7afcsXqkpoZAjjagvqfVVwntkrjnn7YqioohcnQ7o/ZqpkloXdZyqqsumnrnloj1uoobdpnmloopopmVmusmkmmpjjmsoofXXkggcTTdgaagoohccfffjppnjjYffhjxhhbkkjqqttqpplgyzz3wm77644/++///xx77y+2nnwwzwwssppokkmluvrrrnniiXXciiihppddkvvcchhrroommZqqrrqqnoyyiiqqhuuggddhggghhoonnvvkkgfttiibaVVnnWffnnmvy2371ytzvscqmiakmRglusQj4skikQvrnXqencmjgghhdnomnrSiVcnbqnpmonrmcfqkggjtbnfjeoqieimrrhndnqggQsjqbbspsdmsrmYbbokXdfbahpezhenikd/oqZvhpasYsaYYlowjdhhxoYlWnjj5YjXqqiZrf+t/cjmkkmqqkuorswkluYvyeuu00uhonox0zqqmkutlkgxmmfhhfYlmieecppZffjsLLkqqSllrkkippleemffxzykkessvtttttwwmhxwwwyq332tt//////3399i99kkvvxzzvvyynmmjjiqsxxffjjppmccbbwweegkkbbmmrrddqqibbmmIIkkyyopjjuvvvvvvmmmmssppjjbajjjjffqqhhbbmmtllsssxw346zzyqymffwTWrrrgp0vkmxlmoxbvpqQmeakuVmljTbonmmolTmooZvnTmykrjqjjorjcrYTmpsQdaQabqwhrmfjddwuafgnkkdaiqjulllmigqsVmjYs0maggjj/knqwcmlmgGrWWleubceexqqalcmm9lmhYYuatk8r/nlukkkhhotnksfqrvxmp4yzsrqx1z0utttnlilbTRkgooekjRYqqlttfXXhhhkYddNllcsshaaVXXlhhWnnoqyffUvvoSSzzvtthezttxzm66333//////22++495kkzzwvvssvvajjRRersttqqffhhTeekkhhqqgnnaalljjuvqqjwwttmmrruuuuqqdggkkrrppjjiihhZZddlllljjttnnppkklhhjjqwz22502wcvoshuprzxPdrqsibtnfhscjxmqmphomptgpfflbcUgekhJnfopqQvVopufqsrUtpddfgZpkbqhkvvgOjpmOOqbfsofqopcnqqofjjoWtejQkQap2msdMoX8jkfqmeVikehfgnlssetuxiiRnZVV7ifeaaithb/t/rqrmmpaqmpbZl0lmdmjlz53SSlvaZurzzjyWTmqsqhoppjjjgmlldgfNeekYYbgmmjppllloPPkmmhggbmmlnujjjoonllyyxrrkkvxx1uh66622//////vv++s82ffzzz11vvwwpwweewwvwwhhUUjjnccqqffKKaJJllddnnkkkkbqqeejjooeemmjjchhoohhwwIIxxggeejjmmqqnnwwjjmmoorxxvvkxw37921xjrlhsnlW0lgoguxogtYqinnqxfqoiYiTvrxriYlgqqieXrloipcnetpjWnUqjbcSlfjermprmqgspcumWfdllqloqbfsltphoqjtbbwlbrkrbmhazopoZVc/aYnxgdwfWptddThvnTYYwnlntess7tphjjolqn6p/mlqXYOmirrklqpvwuez2ym1oozdSQynuukywtvljispkjncclelllmmdddZffokXXeoohllpiieXXgffillprmjjUnnlhhxxqwwfsyyyywn552xx//////4499376gguuw33ssyyWaZgfnrnvvRReennsmmvvoojjhmmZZppiihhccbttiifgqr11jjpptrrggvv0zffuuqqggppooooppuukkrroopjjqqZt0556zz2oypsqwuqgevysonrmljrhpWdpluajTAvippxjokmRcusgpolhmllrsmtlssrpwpjnnXnXWfWkSmkqklfpjjssreklioiooopekpcaanvsXHblmjg0RrjlZv/aspvbSQjkkmoolmvehcdwqpqcott7dljggprnp5m/upmdepsjxvjqugmnscZctw5ppkw10z0sszeolmlsratggvqqZfQQmddVggippOoffsWWmhhosslffhkkiccjknfgfkkfssvvu00Doy00zzo665zz///++/zz77h36qqttxvvvvssbvvdddrvrqkkkkllhiiiiffppdrrffFFttpqkkhttuuZaoozzmmuufttzzttttuunmooffffggaaaassWWoojjfoonnkv14951yyi1roTvoSuubnwfguonpZncmcnUeicflqkleldnmpNoprWdkqbrkosrhokcsopdmgwbarKqjiguneqRjUvermmiqmoopddoYislocbbmrdjojhbgk1YvVkqW9qvcohlgmmgnTTdlsqqoovipqpVvv7Ybhiilqqf9q/wegpquinlsmhovijawmog44jjumxvsx0zwjnjjvsrkhlkgggltWWobbqkknUUlkXXsuukmmfcceggjkkasssuviiYYYgVVwwvttpny22wzk666ww//////zz88n61vvvvwyyttvvuqqkkkoosreeZZhhehhbbeegfimmxxVVllijsslllbcgghhppllddwrrnnooppnnnnggoolllloorrnnggiivvjrrnnlz27+841zbwtdgrwzuvysnpunxegYwujqqUjkcmZdroThrpnqkpjhfljvXkrYpftjant0jVkfqTjptebnjqaiwbojolmnnNclhhaqoliatgsnkkzPegiXtnkhycbpkso/vqptebHnlvnllnrtigiiwrfopjmm/esoddXVUn9r/gmmqronaroYkoplmkoZbaXyXXyxvujq00bsfbutkjplnnrdclNaaRddgggfnnbUrruddommYooRlllbbibbnoTllYooriivvw11jsxzzyys555zz//////77//o52ii22w33uuzznqqaaprsssooppUUnggqqllssboonniihhtummiooqqijVVddppuunqqkkoommeessfejissffddbbZZbayyffYcciiiy289+01ztxrpiZlkrlrqwqtnpkkjYpjcqjskwolufcltlltjXbikaqpieYYmXkolpxvjsdgwdimolrVffponvrsTsqtkkloorplqqXLuuhdmmmlnerpjgopk1koknqV/jhmvmpvtprhjjmlvknbbuhtmcYii9ologgnahh6q9qpwnoQWpfrc1qskmgcilo5uqqvtnmhzxwxsolYupnZzgflsromcdQnncgggZZsabbkttZkkmiiYjjNFFZllnpzppgjjvffttwuuWsy330xs77400//////0099v/+ff22xuurruthhgEDnrvuussjjppceekkmmkkfnnoollggaauuNggqqddrrjkssjjnjkttVVnnssjjkkjjppqqmmxxnnWWssjjBmmllq245792z0oxpsjjiX3iojPwtnw0fcuqdsmsYaudkgjnlgjmdidchjhqiphejqnukjZlioZtPntmPrufkroikiqmpfamrddkdZgfnokasneZjmnntsqhrspmgi1tkpksh7lQassIcfguollfluocnnxtpibkss9tVTeeillo9q/wjvjkcjsrvrsvtstp0uxp/0ff01mlzt33ohkhgnywoYlkqmlnaYYjhhgddVUUqfYYrkkenngkkrllXffZffprsmmatthmmww0vvhiz220zp553xx//////77//s57mmyy3zzrr33hrrddqtussttZZnnYjjggllrrTjieeffllooppavvhhppoottiiqqyffXXrrssjjrrkkjjhhrrllqqrrutppttouuTTo146961y3pxobqompnrvnkunmMuovjytnupspejkgdmmbkralnjmemsdefciqJiOumxpkqvftmlXgfxktMmtvkoimpnirrkemimVokfasiTvceekfcvreptoh0gllfoV9kqXtLnarrrhaaikwYbddxglwoTss6Abullkuko8s/rjoopn0quzxknwvwvoz1xzzttf2utngyyojxuphsqtqmlfppXRqqpoolpphddnjkkmssRlldKKgrrLWWhmmacimngzzmooqqo00lv0wwyyt442xx/++///1199q60YYyyxvvvvwwpuuedvxrsrrrbbjjqRRbbggrrbhhccrrjjooggcYZggfgnojjlloorppooggyyiiaaiippooddttnnggiiiiggtrreeW037/6z33Xysavjlrhuunt0WocratLhggqiYgpcfibsnlaurffXoWjjriqskitlrolylTPzrsmGmqlqgpqsdMvpkdsgknmvoTeuajopUyssjiddgqgeohmUwj2nyammh+utZwpmLZjktggRprXnjksrlkqonn9xkdbbofpo8s+istijbhzmwnKy0lmrqpsju0xyy0fdi1ttvX0wpjtrutkklnmrZkkkuujmmMkkpSoohnniuucmmommcmmeqqprurrgggsnnxxqqqppzwwysX882yy//////xx++v89iivvuuuttxxfiinnloqvvcbeeZZillnnwvhhkvvhheessWWwwhiimmOOZZuujjttwmmffppooTTvvjjjjrrbbpossffxxKKttossllgz29982xvoznvlrgp2mnqnnrjqnplionontgfXinkWSYkircnVkidleuqgnneerekgsYoermunoecxschrrinmpPotbkuujuhdjpoueuWYoophhyiphqgulpmygoqgor/cjhticraaYinnghyvbffsfdBhlvv/neshhieZt+t/pmropmrxxsVSqtgixnvxtyszzx6yw7x55PqwshyusvjwwUonqmmmfffiggqjjnjbbXaamjjklljllleeoeertuppkrrommuutwwsky33wwg55722//////3399n5zbb55yxxwwppkqpppsusrrpoeehhpqqjjjjoobIIhhffnnjjnnmvvhhlllmkkrsnnmvvmm33qpnnqqmmqqiixxkkxxmmZZrrkknggooyz07791zxvxsspmpkkdretswls0ZVqwqUwTinWXTqmdarfpvVhmpiclbvvtqarjouUXtuZXllrrZpmkniijdotllgrhsrrnnrgpSoukcpopinqpstpjqQqofn3mvfXqd/ohrwomhtkshiircwvbqqwsnsofWW7tmgZZibYV5r+toZturkrnvstyrqrqtgjwzwww44srvx22o0qnprywnlhhJutTioosgghggdeehhggphhdggREEnnneVVhppcesjjsppjZavvtvveuzyytxs11/00+/////vv++g7+WWww0rrrrxxjsrlkbrqssggYYVViooTTssssdffVVllAAefddraauufgppxxaaWWZVVrrppcchgeemmoojjbbppXWkkjjdcVVSyyhhqx09981xzswvgrvweaYsjxqtstqvkispHoirZnbnfjoclqkqfhppratcjSbmlkocvjausscgrpoXoqrboThpoqhuuufolljeiojgmmaplwfdeffomgjjirtmi0icgkom+gkWwdknqUnVqqYoufmkkyptnkepp8edskkrrhd5n+velrsokupvqndpeft314zz401t27536rrkllhwlqopteeqihkVjjggganmVWVxhmmlffslltggfjjnjjleenoqiiArrqqqpptwwMhywwz0s77155///++/zz77m51yyuuuuuyywwfwwppapossssjjqqVhhhhllddlppuuaaoojjSSsssrrffbcSSVVjjtyyjjuusslltthhhhYYkkiimmllVVccddwsskkwx2588ywwryutxxlp0xoiuvobsuhtgtimyqpehQXvdokroHhpporqkmgehokahqdlhskkoWlkvmfunlrqjTunsinodjiggmbllSkwpijqpdpiXWmvwlsTeOXnxPybolU+mshtiincewjppmawaokkwfogmoss8jnYjjZlhX8q/qpmghjshotlqxwnovxvyx54785vwv24wwvxYUZw1zvwqqemlvnnncmmehhgiibGiiqiioaaZhhhggkWWhssjlxqqfnnJghyyquuht0uuv0f668yy//////00++1/2jjzzvssttrrr11ZYktpxxPPggddzbbjjaajjkllppaaxxeebbkqqHHbbWXxxkkwwlLLhhqqyyjjxxppIIppxxnnxxkkmmqqkkfjjssnuy56+yvvrzskptotngvrqzvpvumvynhjqJXmihtmmntofvmpUrheYintsssomrYlpruZkwam0fcttjbmfgqhsdohnvroosugxmrmrwinkWnhccihghblyiqrzZ1qduh/fNdusjqpaXpmmdhvofkkyfYYdkss9Xrlqqmhxk+s/hlooqetWruou2rhjjtwz36uz0m610ph32ou40svpnuxoorqqfjmmkgfemmhjjrhffoiifnneddkZZjqqjkkhiljjlrrdeexxwyyvx222v0e445xx//////5588088uuwww00xxzytmmkklro11bbrroomffffiisshffllaaiiiiyyqqrstghxxeehhkksttnnxxqqmmttnnggmmqqjjwwhhffhhsskqqSSTv05781zxvywmVtojkrhrwcgoZuipgvcjpDpdikQkRnspcVLlctrgaqfaltlUjnlWssohhmgxhiexZlbeaZmpzxlqlkWnmevopirjjggtnjgokkmsolsfqpgg3jvemlm+frbuliXsqgbkkquuohjjyqbgpNZZ+lmlllgleg7s+mNqnpmrraxs6vtqswhsv3d7fgazvuz1vuuiws0s53s1MLlvunmdeifeiiiilliZoopmmittYgghppimmuzzqrmeemiioqqwwtssvs0zztvo77222//////ss++m89ee333xxuuxxurqffltqzzUUffjjpkkYYddjjpffttSSppEEhhmlloonnQRttoorrpkkRRkkppUUhhaaUUppssuuddWWoommppqllppYty4371yugzvluqmqnbehmibkruXpcsaozpqsiKPqcrolmZhtuPbqengqlpzeTichhoupumZhZgpsmuuinsYfsrlrkdkgfplTrnZeuoquVXntgfnhkmjZnYsiylnedmf/oqYvPjnSppqnnqmqsnUUxeptbiqq8vvtggoofh5p9qsky0rpslxqIsmhja036pw334i61020jj0jmij1usymuunrqroggenneeekhhnjeemnnniigWWhqriNOYttstrffkqqnwwyyxuutgw00xxm55+yy//////xx88r93ll22wyyuuuujRRlldpouuhhooeermmppvvNNZZZkkiilliimmdrrmnefkkxxrsnncrrjjrryymmiioonnpprryyttmmppqqttonnrrrv10661zzrvtZvtvHysohzkkUmqgZkjhrujjTdbamrgXmfinhWyrajmgqoYvfjgcgWgtqholbeegnkmslZqgfrjjrifpfeleivkuuphopwdeqkimybuqdfimf0nvpole9xdbrgfvjgrjttpayulrrwsouMhYY7ispUUieka6q+uvsnpQqklslkrmvxap7+Zuuyyc3zxyy22Zv0wknsqoummmvuZrnnannjMMcjjpYffesslooeWWfbbjccrbbuvShhivvnjjrrvrrRjxxxyse553yy//////22++r05oozz1ttrrwvrqpfertvssddssVVqhhNNvvuugaakkjj00ookkdvvWWbbqqxxkkllrqqttxwiiqqttssii11ssqqmmppmmkkmmqkkoonyx3323z0sxslonktttrgdcnbojilkpejwbambekApVjvZjnvhhrnuepobthnfkhsmqTbxxlvsmjransiejjfxnjulkovuprhrcqnshmyeXutmlrtjkrRhqLdzndheLo/RbnvimlgogistmqtqmooykXknsii3osmeflepl+u/xvwmpnpnqzwYnqefuevy213013t54u9762zplkswuodwwohgtYOOYWWdiiGYYloppfnndqqsffyqqhxyhuufgyoomoouhh11uzzyty333xm666zz//////2288q55VVyy0vvwwuulWVPPbus21ggVVjjkVVbbZZooiVVppoohhllsstttuujjssooddqqtppkkttggmlrqnnjivvrrvuwwggjjhhkkryyoofz0120100hxuqkdrlzlkwnmdmr2pmUzolqbkqrRYiOCSmmtxccErlikfuXubZcmfmSjurYrwoktlmrfhtlqwgosiaqsXkkdoYegbndfjaokstmkfsboZmajhhzdljkKf/Ukhvhhoolluijqfstjllymjcogoo/Ziohhkrrg9r/nvqehsqqn0x033pqxe255e0ij2xpo3/88zm4z2jurrtutmUTeteeeqqlcciaaflhishhroopmnimmprrkppnornntpopvvyys10udw00vzt44933/////92288u45ssyyuwwsspphnnmlXrorrkjhhiilkkssllYYeppbbggppppttossmmjjbcqqhhVVqTTllssddeeddtsiiooqqqqgguussggjjwooUUox110023zo0pfQzpkvxnrVguvmoppsvUetopjkqUfTxoiVojElVprnrYfqlhqdlfnozTolnfqmnqXmkojoppmtnlktddvvZuobZtolhjwppqqpnshosQitjkp0fvsWei9klkwdsjhmnisspjrdpjjwlgqdgXX9pbkffisff4p/woetvnmrx312yy46mx03x2w56z7/9ty333z0w1eolpcXXqonqqkkqkkZkkhPPhcuvljkgxxqhipqrxij1z0lm0jjruuzwwyxyuukvz32s0pzz2zz/++///zz88s74jjxx100rr22mnnYXnsuzyjjbbeelhhmmssVVhppqqijoonorristiiddvvbbiiUUrvvppttuuoojjffppnmeellkkyyeebbwwvnnXXpz3wz2420V0qlxsmnlqtrrnrsgynlgkScveqoflagvpoMtmkuNpXjkiaZpuwpcqhoozuptpmiopijbuTcntrurnqkDrhihpjsoiqgjnipXmohaXvhghZazdhe0istiPs8vVjtqsnlSpmmnnhrfcmntjvulrtt9exollemhm7p/jupcfqnrgtoqyxwy0h47w5901/t9813//xw0w2wYWqyzyqtroughpffIeeJmmqVUVxqqqklmwx2uvovwy77uuw44svv1mm0zy55znw332tg554zz/++///yy//w35dd11vyywwsswlkeertvuuXWkkmmaddaakkxxPwwqqTTllwwpphllklllssnnjjwwullttttppbbooooppllqqqqnnbbbbiiwwnqqnnow3xy142vk0wyoniqtlSi1poalzgmSFqtvhpolUXjikripumhiojojeiptfwjmqoolskpkrftnldXrwdhOuiismupgmSkkedPlsbpmMXokmpOebrmndhiumbe0jvlboj/kcrvjncwqhnpqvrvoljjxXnthnzy8hmpooYphs7p+smhvyaos02yunr574wx0yxt12ry1029778dup6svspqtsqpoZgfgjhhlhgcbbndvwmwwlstrvwu01tyzsyyvw7kjq11wooyxxzznp1xx21j336yy+/////tt66o25ss11z11rrzzoppZZmqpttnnkknncllmmmmaanppqqkkrruuyykqrwwvvqqppNNjjpvvggppwvffnnVViimmwwZZjjjjhhnnttvYYppkw2z11411yvscroynj0glovViqenffshjpjadmlZjkjrndcriRMptowqsYrgmnfYnsi4srpJtmkrmnpborrrbtcdopiuihpokdowtsiiukuipifnuikklXYjryfnwZmj/isctTarSfrljkthrmSklzUqtligf9rmpaamjpa/x9mxyUYhutm2051e2436orv08679c0zu/65r6xsb1sqhprqslkkieejjjkiibijqmZam01oghv12xrs1xx8qq//2118wv7vv0zx21uWtwv0yp666zz//////11++w65WWvvxwwxxxxlttiiospooiinnmmpppooqqwwhYYkkbbqqkkrrnooklooxxjjqqrrthhmm00ssbbqqllqqhhtsiimmnnhhttggueevvmxz131300rwuuvmrlstuOmnhjqhlrdyfirlngvkQimnpraomqonvuqdfnngmlninvprmffxh0qultWpqojtjdxok1jvatsqucZrZkyuklsknoroinqetpjkdR2pVkTAo+uyhvrkllfndlnrlwescctemgfYpp6tjqssmqmj7q/khvWZsxhvxspeumov269/85z04///x921y095w163wwrqtywnmpptqqollZmmmjklhyybmn1wx9xy5xyx11qr/883zz84399wzy0z343zzr664zz+/////44++u75cc22rssrrwwjLLjjanmsscceeqqimmhhhhiihppiiccqqefmmawwttppffuuddlluqqhhVVihkjjjkjllkkVVgg33uuiimmkklvvoohxz45350wgzrvomPT0pnkvmpn0jjupulTvMmsofcfirrkAhjomgrXYkrydercmombkusuutjipwiwttlus2txuzgkpntmlVflrtNmiWptpYftxuuxgrrLshcn1pr1ijn/tnVucjrxnqpmovqwuXghwlSsvnwv7ZkgWWpetm+u/lsukotws6xt+zvtv64694r3+/22vt0//+opyu13wt1vgfwvtjoddillheeaqrlTqrltuxtuuvwtyz6//8//uv+++6//40z329761pzxx3zv44522+/////1177m53ttvvyppssttcddgfjnmqqcbooddpmmmmRRggXiirrZZppqqmmgpptthhbbaaggrsI00hhnmssjjllqqYYiiiittuullqqooaapqqwwcx34743z3nuqpmhknsicjrrmmsyqnlqsqwVtVllokYjdrWlolhysqnmktBxxjvyrejXomrmiuewpzkVQtYunXkdswlwwrqhaftmpuwkikujxu0wsokdnkYoqZyAvuhek/sRluudujrvocepkvrYfgzkjfloih9insghgsgg8t/wfxtxsm1o2z0u657s4uy1z6xxx1878///9a51px0x7Z21pbZlsddSmmrVVlabjXkluqr1oo4xytnnu6769+226rr8vv5//zy1440kyxxz0s88733//////zz88x89mmxxy11vvvvpttqqhqqqqmmddddohhSSqqhhZssoonnffppttmxxnnqqnnkkjjddrttmmmmqqiippssmlrrKKttmmiinnmmVVmpplliw0425523ivpighoovxtpnxooepbsgsnisftctksRmpsqZIliosZs0sxvpvwqrjpqhqzVunjzbpmyhmujcosqrswmsrqpooontvpdvjqsiortwsyfoltiuvhYwmqurvp/oxkygTiaymdhjyrvnolmwOhxtgqo8krfmnpjtZ8w7rpqy2nwkw1wz6tprwt8/420jj//+9f033++//3841pusrt1zwtppAnngghqlnjwwxuKL0qr8122yz1uv800++x444xw5//xxzzyrk00z50p228zz/++99/33//2+7rrttuxxssuudkjkkwxrssmmiiLLgXXffffooWmmmmjjnnjjjjeyyUUZZoojjkkmmppppphhwvWWkkddiinnhhsswwJJKKeekkpttkkrzy245332v0pWddphlnoqtSbqrxVunsiqtZlbvfharcvpushdjauxszajftuhlqysVxxiuhn4ooXpdutwyswhtigqqrfusmorqrorpxvpkoliuqtkce0Alqgp0ojvmnk/wmhtqmrdmygsvqnyambc0jjloeed7pZhppxunn9s/auzw0xyxw75zr38+3648s4z23/6///+44q873v+0xy/tsyonrkfggmmojkUfhzKqrlvwvvw/55601123422hh2///+947710v98p77332wg337ww+/////3388n02oo00xzzvvyyteepporqxxqqhhjjmeemmooggittZallqqeeeekllddYYllkkqqkkxyyzz11qqppaaVVUUhghhjjZZxxddoottwqqkkVw0425522qysprjlLgflt0zipWvZgiudfrlnekrSopZrpkoqipkzivyp2la1mzcwfhpyhcrfptqmq2ur/qiwysts1tuwtrqrtuz10cdqdduql0wveovuhzzqnxjyztnm9v3qwxnubfmfko5jyhduv0iujtpnl8ttwlmZwum4k/cyuuzk04tuY32/uw5+8//6289+3zy+9437y3zs26441320nlfNppOppepqkfglyrstrsw332tuv55ttt57700p//x2205511w326w2zzz2v664109/////11//n15qqvvzxxwwzzcvvggfqtvvbbjjmmommppttnngpphhppnnmmxxkhhkkkkqqkkrrffqllooYYrrggvvonjjyymmhhppnniiqquuiddoovz106382wsvoleXsycevYwY3pqsgjavnfriclnhpflucrblAfrpqr4zvOMoxrznvahxpvn7w5qpn2vppxvYxsunprejprqztkcnskpurnyqopws4ilkxkjwgn0fsphur/vuswYqwqsmmswvixidno2znrsoom5wl0qqxxqg+s+mYxx1vvyw2z47syz5v//1+7+/5+xw/////99610/831yxjrqgpssr10mmmuijgrmnd12t33z33xnnt661//77/66510m8787w44Utz00y1r11811//////7788p77ffwwyrr11oomvvPPcopvvUUmlffroojjhhbboiiWWefhhttrrfuuppddppnoRRssvssSSjjmmiissiittvvuuppppiiqqkkXXdffTToyz238204szpppqeicltqrvnqszjomvlcxlQRakmlXfolqpnqrlour2zqqqxzkvut3rvltc3zyqu7lkvuirluw2hsyvh20emnwkmrisrqlplxmi2rqtjby1rezsvoihz9uxjujutqrwlXb0uykYxyyjkpknsq6zhexyslos7x/k47150znpyv2+l56/614//9++//////nn/xtq989652wvylkj1YYt21xdeeqqznzz1zzm660rrwvvzklntunotwwztsgwv66zwvbhw00ytn883xx//////2299y55pp44uwwssxxnssssFqwssballbbrooaauuEEdrrYYuuVVnottmffuuhhpqssnnkkkuuvvzznmccppeejjccuuqqiiXXjjjjmmmppllsvy23301zjyrtrokfurxssWrusmqjqjmppqcvkficgkfpWRcZXnlrrkpzpsxvtx2wmmrmxwl2x3y0o522to4zsx43tsztskpn2xyqquvikvu12y1qnMsobodrzq10p02/s6vywyqsWvmfiwwymlyzurvsoqyw8vytwx40xk+z/zxvqt4lyvzw5v2oq+wtw//6//////6y/+/w/9129638436wvjr111mm3xxjttnr10nvv19+7oopppr11vvv6630zq102xw00sxwgmt32yxr33522//////4466w46xxuux22ttssgaamliprwwnnVVooSrrZYqprrijjsscceeaaefpwxoobblmssabllhuurruuaaddhgooccoonniimmllnnqqggmnnppoxx13220yxwstyrmmsjssPkqrculejuejwqkZlrrmnsqhpWnfnuj/w618d64z422k1x9z22g/Vz11r6324tm/3xz7Xx020tgzxyyxo1xwxwgl+67w1fzux4st22l66z6/M/350qQtw/v13530qumn6wpzz51z+w15xxY8tq7t/i/4xz73r7+9/7357/5z35/39++/547////386/2+8x733o337100r11tyyzzzmxpo323dmnVqqrww5112ooss4rr00zoff0zx22rawxx01W44700//////uu++t86oo00xwwvvssnuummouuttihqqoorffootthhYrrggqqnntttttmnwwmnfgwwootudgguubbppkkooqqssiiiieettllqqttuuwhhllk02z13121w1tTjkzmmjvpqxtonzzdmutvwcnmntmgsi1lkzrvmu28zpz3/ws86z1z366/1/9//3t+86979/10581/0/Wyx0w5z5wy2yvwxy8w74z3ly1r80wp401s/53+/w121n0oor5vw1/+/swwyv8v19559t80yy45/8//766s89180y64621////262//00+/////ss3+/+//973/ihz324trrgqqtzzv88030z3xyottyzz4ccxrru44vvq11mwwnmmyxywwvkvww20t66900/////+5588x62jj00wrrvvyynwviiqsmssffiihhvnnhhddihhkkiiffZZooiibddjjrrppqqqqzzlwwllppmmkkqpttssnnffXWoooollllkkjbbppUvz36222wt7rxw2nquprmpznvpwqwjxsjwssqjPngurs0vymfuv3r/6/y784x44z30///+/6+/855y//q/26/2w3//////xrw85v2+83/97l298u4/wt3870w88//t/u//wPq/5jwz5/336k+7+67/x4vz////w0t44472w+/+321677u/u///+///12+/62///8y//2///////82//490z3993pyyu00hyyrttttxx3oprrrxhhqqqkhhjkk00rqqnggotsxxvvvmv0vvwyc225zz///++/zz//06zWWuu0uuss33gtsiiqtrwwjjTTqqfjjeerraaGddooccllooccommrrrriiooppjjjvvddaaggffnnjjjjvvuullzzlleerryywddrrgvx02143wyvttqwuhotxsrsYtswnufeyquv0i0LTkimplupvhm675/1/22//0/++/767174/+9//8/6/82bt+4/3/8+/wv3z26r0o17Y90+64002/04z654j1//w7/46/2/67+/5u240xy87wy5qq+s3z79+9//y1//zu5m90//z2//78v320/x///8636//+//6/////uuu///z3//35utd0zxottzsr3ootwwm5wvsssY00uqqxRRmmmbllijriigqqvwwvvtqqsrvxxwzl77233//////4466l52jjuuvxxzz0zknnccdpuvvRRbbiifkkqqZZqqmppqqssiiuuhhXhi00llddvvkkZZcppllrrmmZZpplkmmnniimmyyqqjjTTsseppaaquy132z64iztlocvpvrruxjlsJvfplslXnqwvpokiuqsfynkrAzzi/7s479/s////25/57yz+6/0/////41+/y4/2/7///55y1/532y/v5s+tll/8Yz+9x5tr//m491//+4w0qwzrss/99l5w00ooyz1w8y88/ys055xepw+5952266o6wk//x/2xzx/+//////+////////3733y/88810vutlunnlyxshgZuunoqpappettspprjjffemmlfgtvvhttRiivvuxxeoy22zvm553xx//////3388234xxvvw33ssuukmmZZpusrrnnmmZZhnnLKqqllollrrLLccmmgghcdmmookleeffiikbbffhhkkhhonhhccccttnnnnttkkccoosjjnnjyx0264zzYvsfxikvncoilixStqgqlrjfwrobummnoeIqpSZjqo39x5xz5k435+5w4z8///72y5wv7zk8s13m2vq8w04rpygy1w8010nxjp8211v6y1z9z4zh2q3tU25/11ovy9xeqrrzzug0tyuuxqjyvzyy/nxqsstz1s9q/sQxlmewzo//w7zz08z/////pq/4////////0w6/52k4yxtqolnbbgrqhXXWlltplkibbikknqqfjjeppZrrfgliitbbrjjuuwwwkozyyvwm44400//////uu66t72ppwwzvvvvxxjmmqqkqpvvbbWWmmxqpggjiqqTmmZZXXoonnuuhnossppggqqppttrqqggnnqqnnxxddllhhvvpphhvvrrkkjjwrrjjizz341421oyztshqqiTlenqtopfhkiujj3sejmWnllgZjXskgnnwqvc2/mxv3pnrsp33s0qorxg4X2p0tq3us3wkmxt3ywtqswkpzwvhesjrowwtagrzmjdik1wvuxux/ipmv24gYkZvWWms0yvuuxuzgnooo8yopllnnkd7t/Fqojkjcgwytuoypr33mp1q9//3/87p6yx6/0xsz0yotUTvsrnjeeHgfejjmhhkiddgqqleeoooriiUllleeikmTTirrsYYyyzvvmit112ub66111//////uu//r45sszzurrtt22ttthgjqxtsoohhjjpggssttkkfeenniiaawweetqqssklrsjjppmmmrrrrwwooppXXjillppqqrrppnnrroossplllltx0445465c1vgvsgrpwqh1v5ulplopljarvlbaiZgfYmreiMddhwfugvsmlfpqx1esuqckzrvziksViqnnpmyrvtpdpkrpleforSJepsqklmfqpoUmknRimZk3oyhcAv+okguhfbfgrjjjfdwinppwgitpYoo8hkdnnuokn7s+okjrrjSlXupybhdftry0xv4XXi2yxkovuhlebwxxwcwfennmCkmmmmmOkklNNlighkssfmmOTTdUUkffmeelnyllZnnWffzzyuukw1xxxzo552yy//////1199m57kkwwuvvxxssvooRQnsprrDDhgppkkkUUttttcaakkffnommYYhnnoorrmmvvppqqowwrruummuuuufellmmqpoorriiffppmmtsshhpz127651zsxq2myslw1tTvv6ntyosnqjcufndpefgiSqtnlefooincefbiklniuOeikcqiorYkmreoeovoZgnrcvmdxokkfmhrgiZhRkpkmlrTTqVkppgpmUo1reikhp/ndjuergnhnnooqpuffmmxhlTfXnn9cbobbrmng9s/uYjhhljiktmjjqtteXlmsrvcckemleTbbPrtskQqpmnjjhWWjWiiippQddegggJggmkkdnnannkddQPPleenpyggcttprrvvpsshtywwyxr669ww/++///xx88t43ppuuxssrr22iiiddqtn0zppggjjfkkqqiirrlnnooPPffttZaguughklrrnnllklfvviiXXutbauuiissffppppaadcjittlldeennfy0657535fyvm1yksxtq396ZwtyxrqelMsXmriifmqovueuljmVhbexbrTlmjjqPkgjownqrqhjUrjifnijnkpiblqanooshnXWngrjioftvrmmqhpvdghkfc1lqpfii+jlmuTpeumnlmmaUsZeiiwlqbrbjj/jfxhhpqji7o+sriJJZivmumeoleejnmmiuuXXgnoolcnnlnkjfhddjjhhdWWhVookbbfffmffnlaafjjQmmpWWnuujffaccproppcZZsqquutttphu220yoyy6zz//////44//w55vvvvuttssuuvwwqqrtquussdcccbjjkkookkfssppmmiiaakktkkffmmhhKKjjccxuuppoollmlrrXXiiddrqiivvppppSSrreqqccgy0567501nyrqiyt3zm245q1zcvxtmzqlulrikeKmmjjpMkssAajYiigrkYwrMkhrkwgiWoHsRofqhqhjkqkjqphejjjccerKrpjdWSdqkpjobbtalvcalbhU2dVoWqY/rblwrgeZccjjjhhspphhxgcprPjj8jrrppeshg8s+snkAAgpnjuol1lqqjossebtmmjqXXTdmmepttmMllniKKdTTglccoiiniimTTrdkkpbbhmmmccQaaGggZqqYarppZjjUoowwtvvkerzz00l336ww///++/ww//k22eeyyrvvww44piiWVhtrnnnneeaanhhjjvvhhiiiiiZZfflljjjmmoorrddbcllrrwbbiiZZwwttllvvhhZZnmnnxxuurrooqqeuuffqxv635302izsnzyxxxo2nmvsxuwpxuhehvsRdnnmmoqkrUnqdfZaokgiXhojOqicakoretghowlmsenihkchmzJhfVhkmmhvhmllirjotvogXkkgsfqLMGkrPxcepQMl/grlsgogsiqlVVkkumqWWzhqntehh7ganNNnbno9p+ckvrrlqfrvqhmlednpddlgxUUgkmmdqFFeammlimlqOmmnrrjdMMjeekffmeegfiikhhekkeXXdhhbYYfhhAArttkttsAA00ussrjzzz0yq88611/++///3399z52ddqqwuuvvyyjzzookssttddggmmsZZqquunmXhhmmjjssttllossttkkjjllrruuheexxppjjXXssjjhhjjBBqqkkffVVoopplXXrrZz045343yg0soigrrww0svz0jmtqndpfgmqqjjhidpebvpWZijnjeYoafgivhkqhsnsrrRsnvrmjtgtqofqrqusAXfoVjjoqllgdkRkYjonqhPPvWrbenoiKnyhekmgn/bZgtqrMdgfUqqkarchVVytwYtoff6ujkZZkkVO+s/mggkkbixirhgpoddcTttkTtkkRhddfQYYZoWWfgbaceYYnTTnfooiiiVddmcciiWWlmmeffikkgkkZccmqqrtvppZggvkkrrsxxsvzww20m55533+/////yy99r51cc000xxuuttupoihMqsrriiggffoggbbvullYddccddVVijXXohhrrggttkkeerrsmmTTmmzzrqutkkoouurrwviippjjRRppkxxttdty35530yfvtvixppmmvwmzxjY0ktpqljtdhsmghaklfsbvkJkaekktcqVfjkjohkTbbpkrqjiVhhktiglsonmsifgoZaaqsisjSmhuYmtilfZZegimdrqdgu3lqmjnn/qqhunpmqhhhggdfslhlluspokZvv9oitmmnocX6n+nvVrrcVlZvmpoTddZjlliZxppkeppQbeeblccnjjilgggXggfTggmnnXffOPPkfooellNddhddlkkTnngggrstlmnjjjggttvvvjkw11wuh99733//////22++v26qqzzvssuuppmttbaosrrreehgsruppffllllVbbeeqq00oorrmkkbbtuooppijnnuwwccTTttffoobbccqqoorrxxooXXoobbqoohhrsy363102o0qZRlmkrukSyobmsrmfbpisskgiadkeosqnksDepfVfaemZl1wgrrdaswwrfmhiggRpandjkknZqxqmkimMMYviwdmnkqradknmWWjWQmnJmYbW2eeWlkm+qpZuejokimVggpktoZggybbqpirr8uZyqqjnpV9q/lomddhmsvrmZpoiiihUUjixlljbppknppJheefmssspllcuufhffonnjoomffoeXXQddfuunccUuunZZWllprvttjwwXccuvuuumvzuuu0k775yy//////xx88v78vv22xqq22ssfqqsslpwssttpppprggnnmmYYbTTbbeettXXuuaqqnnhhttiikkppuggaallookkggssccyyllnnrrkkttXXllattzzqvy233330syrxnlqoizowsnslutmjirshunrrngmisitlgubnnjsmddguplnkgppYgbYogkfsmZjlmrgYZnnjsnmafhmllahXrlvYhhnsoiaEeeuZgRcfdMch1bonnlm/oiirkkaYjeeeeXWrnijj0iaornll/ggollMgmg9s/UtoppYWnbuQpSrhhnippAqyeepSddinuukjjjqfmlbbqpccchpqqillYOOejjQYjjanniuuiootjjmeejnnmnyIIoSSkOOxxwssmnx00wxm66711/99///xx77y64ZZzzwyyvvssqwvjjxztwwbbjjppoffvvbautiWWllggbbnnvvlrrrrklghmmllqrbddrrssrrllwwiiffbbkkjjzzaaqqQQuusookkWwx332zzvkvsuivuMwtmypnierjfqJqdhrgognokqjjxsnfoslyfQerforonoildiqvdjqypjmWEeolVmjiegsjbkeWTPPdjkstklnNlcknmohhmidpgmtcgh0hdAWkZ/ilkwsmrooookklcvirVVvfspTfss8mjammkqvm9q/ixTiilnmftZQpmgghTrrgnvYYrorrmlooipllZZmmoXfemookmYYlooQhhifffmaaZnnghhiqqgffhWWYhhkmqggnggqkkwwpssvZwzztxq11422///++/4499p28qqvv1ssxxppn21ccfmqvvffeeaaZZZnnmmllfqqjjmmxxvvuufaaggppqqvvYYjkwiirrwwwwkkooffmmrrrrmmnnffppoosstjjddtvz035z1wjvovvsqkysTpxippgrQqlrbKpkdkZhgYhsoentmhltonnnVYbsvicrkmluumiuhwdfrlhrmpjqWftbkqWoueeRjnhghrplWoclZjkkpyqlqgmpknyXspore9mgkulohqwlhgghrsqYiixksTkZpp8ldmaarZYX7t/nsqmmkZleqYkpnvvegccmkvsskkuuVcYYqdccijjjWrjjhllmljjdssihhOllXpllRsshrrYiiSUUVSSdssikqrrjqqsoovvwxxutz33ywm336009/////zz//w53iixxyuuyyxxupoiijpzuuppkkggqpphheennfoonnddookkqqhrrqqjjmnyyrriisvvnnpphhppvvlleeppuukjuuooqqppLLennwwtxx135yz0twxjtGlqhkgcsujmnyoKmqaaveughkaikvrlphcTnsUfkrfqklqkvbbqjvvugtmromhlWqnqlNXpusdhjpdddMnphijqLjohllhgXXmkgWnipGmlzkqdjIk+nmdtnViffkmWWgYsXgWWygltqjOO/miifflflg7s9hjmoodkrfvplrshhokhhtexkklgffjiggqkgflgUUqbvvgccekppmoofffgiigkccriijppohhmiibWWToooqmhhdkkvnnrruuumky000xq66411//////2299u51ssxxw00vvvvfoommuvlvurqiicctkkppWWssZllllggppooiimttllWXjjjjrrkkheeyyrrhhffeebbcceekkffjjffooooiibccnnjzz13401uNvnoxlucXnWusikhowgAdvjUshtVqfpMgnprWoenmwjiejeloklfodooQYqblfnrnloimlmncZnljkmjmYkkkijUranknekfrvmneeixpklXobnlybbpkmh+ldiueplvolgggfqsNboowicsqjee9kgnppcZSd8v/yldttfmjlumnpniidmUUbczkkpbmmimppfohhckffnhhhmgglmjjYjjnffkMMecjjlppmllmXYmhhlJJlnnsuqcccTTwYYrrruupsz001wc22600//////vv//y73nn22wqqss00trrXXsusoorroommfddnnaattlppnnffiiWWtuobbpppqmmYYkkjjgqqWWttoopossttrronggponniitthhqqrwwhhgxw336wx4qvpewoupyrjSxrqdc0ipmkionasonqbfZhpopisdhetodPnpetqlJskUlsjkmqWqnprflxcmdrWkuudmnkVppohfvcqkrrUjkftfTTiieogkihjj0nllCpb9gemwcVXXqjeddnWvldllxvisUcmm7tinnnndbi7o8jippphfkitmKrcqqoaddkgwkkbjffdZrrhgoofYiihRaaldcjellihhPjjkjjcQqqfiiGqqiffdjjjddgppoqsqqnUUsmmuusoofnz00zxi449zz//////zz99x49zz22wxxww55deefehntssffllkknXXqqmmppejjJJnnddmmpperrabeevvooccqqwrrmmjjeesswwXXrrjjssaappqqppggffiuuWWqvx2431xytxsdkobguxirkzqrOsZRdikmwmmPngtvZejsofieUuhSlqovqlugtnqlfvrGquonfpnvdqnfodYmrlrVhndnntvokkrhcmnimjhnZZgrVkkXdtck0ksadgW9TZSqmmjpojfllghtgeggzipfmhYZ7qZXkklpqh6m9iolTTjqfmtmnmpppjfggaRuZZiarrfabbsbsrllddpjNNUTTpillppqgcceggfcjjhlldrreeejXXcJJeqqfhteegccfjjvvqxxivy00rte55300//////00++063ttyyzrrttvvemmoosttttffrrgglSSedQQuujiieeccjjffqqapqjkjkkkwwVVfgqhhppqqxxkkaanniimlhhjjkkeeiiHHmmhmmuugxw13111tnvtqvgmuqPvgtphsZmkmi2jhwcqijkrjfintgvVrsgaohclhqpqZdugdIrjukopdLZqnkhefkfWnnpXLsqgUUjlgmRomgriiofmXYYkfnrtUqamQyddunbk/kiosSpbbTlqffkkrihTTthtlnhll8pedhhjlrT8r+jdehhgVoZtmefeggtdpoWntlllussbiiigellgpjjeniijjjZgiioiilXXmZZiXUUuhhjrrfZZkjjhiiGVVgipoodZahqqvvtxxpmuzzxyl66511//////zz++q33ssvvzrrqquuZpokjuxqppccffaafSSrrppnnYllddllOOiiPPnrswxZZppuuqqkklnnllssggjjssddiissqqkkwwqqkknnppqrrffexzy02xz4dwrnnrjnslvxcmurZ0RahxkqxrjfuefSPmofUmjokqnrRXmlXmncdsjidwyxskjslinurxpfimchsfmZoaijjkkrpmeahrpmdjdmZZdlilffkdodyatWVil/dYfyqgolptOhhogvgallznbtXkll7wkbEEpowl9r/nojlljjdmtfbtroogdqqYizllbpffWejjmommVcihhWeesqqdepperrkhhXiilnddeiihiiqTTkkklYYhbbmouooYqqnuuuuyvvsewvv1wd66622+/////xx88x97llxxsyyttyywsraayzossihooUUabbffttaaqggppbbkkstGGoookkNNhhoovwppussffnnhgoowwllllmmhhkkoohhppbbddohhZZtz0z40y0toxwhroswswpuZtxqxvkhpmnaveltnLmodhqfbtjdcqubWbluehoisjlTdvlnovaYcnXoZlSgiqtg1oijgfrooseaurhgpnijlgoVhhmfmjvdsfgc0kPofer+kaTrUiHlRqknnnavqVjj0lvhrAoo9qcvccXmqX7q8vclggqgirxrdtkjjfdyyolsjjnnhhlijjgchhghmlsuqqdjjqYhhnaafccYddcjhhrWWTqqiffwHHkOODjjkmlaaYiimnnuusxxnsw11yxd881xx//////yy88w6zuu11wvv0000uPPgfqttssmmihttiWWYYnnssbmmmmnnttggnnlppnnmmbbttkkpqoZZZZoniiddrrwwooppffeerrhhiijjpppqqrrvv1z011yynyrkukqoosplhqski4jpXlSlpYeiavgiohcihoulklqncmopwlsplmeikothjploqajkqgkfmopcuwrmWqueexZWEYoahijkmoWqhhaugkhfpkam1gcqgnf/llntonZnkjqkkXawvpZZwdtfkott8wopddmYeH8p9qrggggdkrvrWnwffrqllrjwqpLohhejttdpZZYliigpiiVffhYrrqhheeeeffekoohbblhhjeejZZgllOoooqvmnmqqyrr00tvvbs022uvm665yy//////ww88Q67ssttxzzxxvuZttqqmttuujjYYcckgggglljjZrruuaauurrmmovvmmggstoollrrrggqqxxzzjjkkSSoorrsspponaappkkmmijjjjiy3z11yuvpvoesxjujkrp0diptrOcmibolhdqonfxvankWonspuNpfskqlckhokpmkymlrqqNlffofpmfbfcnvpnTclsnnqllpgokSnnlnamhmmXoAQifbmqozdojjkY+okRsepmtsyiVVtlyrXbbxfthqsss7cndmmpopi8r+ogTQQgnagtWkoqeelmvvbcvhhklddfjaamOZZgYooeliiaXXrollXnnncdgbbcqggakkflljkkommkbbhuustskkSjjtWWttwrrgryyyx2y664zz//////66//t+4nn33w11ttzzkkkffgoossggffonkmmttmmggjZZUUZZrsooooiqqppeeuvvvffssjqqyykkxwhhlkkkoouuffjjwwkkoossYYnttZZVz0v201ryoxqfslnolkgbclomlwkcSiioquqPeiMsqglgpbqkVSombNeeYoonomngdpbvnxqxekXqORpeAlqYuoTstkrppjoirVlshlmdjunWllrnmaohpigiyfUqmgk+fgnuushkmhliiljujWkk0pjqjjgg8aonMMYtko8r/ditonXbpozwjpllljoWWolxRRkdqqpVppcpnnlnddHpeeeoodkmmCggSppbggxmeeUYYhffkLLViimbbgjjdfreenkkqppzzsvvow1zzx1b66511/++///zz//v72eettwwwwwvvlppeeYuossmmddccprrnnmmhhgmmoommnnggnnmwwiiqqjjpqppssOttuuvvyxddllPPppssllpowwssmmqqyyfmmjjcy3y31yxunssfurhntpud1cyWmmiunphF2tklokSpggonhXYpZnqkkjmnnWsfbfdngmqzmcbxilqkgbrfokknxvqdYsfllnXiorhkphsLclhEPPoofpnkgjrh4TranoZ+kujsjmemhchTTJmsmkSSxufrqigg5hZjooghlc/v/NekiigbsmultperrqgmmhkujjnmkkYfooriaaKUaaemeefkkkmeekggVYYijjpdeeXssWmmihhkiimjjTOOtvkggoppfiivvpxxlm0yyvwg556yy//////4477h18ppxxuvvttxwnyxkkuwvuuaZggggueeccllmmmeeppiixxllkkjssmmooqqrrhirrhnnffmmiihhlllliinnjjiiaappppkknngwwggq03zz01zyhvranvnpyuspjiuompnnTsaoogZikhiqhnoVkeopjVjmoidybegocmodrwuznhmqpmisohbhiYposqkcojQffppjwmmmefjqjUwOJJhrsnsmkjrnxcxhnuv/bfmthfWphikhheSumgRRwcqeljll7hnubbUfjV7o9vcaRRogjpuqbtmeeikqqnpvffoqddYSpppmZZggbbqkjjmccnfZZgrrYpphXXqoookmmghhshhnhimkkgVVnptoooVVmllvvwuumhuvv1ys664zz//////6688k53eewwy11xx22PihddjpsxxffMMQQpVVeeqqccZnnlliiiivveebddkkppttlluummRffiiuunmaavvmmnnsswwppwwrrrroovvfqqqqi111100xxevvnrfeunxsryosrwudkrsVqflhnVUiimXXsooouagcXZrlsaqrncakljhxfhspywopljtfnqmjktYklnJckkxmWwlVbljZVVimbmmmrldueokml0hknRcq/KsSqmlecmvjiipozYjrrtmnisbQQ9mlrhhreiV6n9bbcppddedtmolbkkYRbbVhtjjVXkkcbiikledmTffhnhhnXXqmeejccfllVTToiHHFddkaaobbdmmkmmfiifhuuuApqorsvwrwwmnv22zyj668xx//////zz++u84ttxx2qqxxvvVmljjmqsttppTToogooooppjjOkkeebbttoorrcbbXXWWddtuefnnlqqggooonXXwwnnjjttooTSuuqqnnbbqqlmmmmrz50430wwzzwssjjufrmmsnddwtXvourjmeqitkdiccirUmrctgecjbbpjormhnjhhssvnlmvbmedesyhfUkompepulkhhdqjjkhqjtqXbqwdmlgnRYlpgrfi0donmhj9kchutignmjRccfotknaa1opmciZZ8jddiiocXn7s+vXoAAfbrjshgntiigfUUoirffVxlldbhhckiiMabbgphhbeetkkkhggnddhddilrrgZZnjjsWWoppabbhttjkummnuujllwwuuuoewwwyxp33400/99///xx//s66mmvvvyyuutto11llfnttsVUcceeocchhlloomppnniixxggaaikkrrUUjjzziijj0qqwwPOvvppooppiiqqllppqqxxccqqppUkkttdy014300zhxvnvvwgpuiqlptelwlfmqkqonifjjhaZcdjmdbpjknofmjplivdJmfuWlsmhhcsvbhVddmnghVdqpskYXZhhdllrRsdpjinrUsfqqiikocZVmjUyftfptk/nuatikhqkqinnhhulFhhtknvgeVV9lkmeeoSAV8o/nonjjdgsXvbuflnncsttaasqqoSqqekZZjqjjUiiigeXXkQQnfeenoonkknggkNddiWWYmmqccmllMccmooprnffjjjfJJwwwyyytyww2yt55022//////tt88q58kkzz0zztt33oppkjlqqqqSSWWiiwoogfrrRRhoommppkkklssVssrrooeelmRRzzgkkkkggnnqq11rrcbddffttllssllXXiihjjAAoz1557xy0rwtstlqhlSqskpslheeqlpkotfliiXegmhgepSVgkbiqZkcnnrnjluoisprtqgpeohiogrbfjgpmrntnjdlmmWrImmmbiojlkqqmnndlnnhcZmqnzemckim+jPNrXnjlbjfmmgqrqpjjwrhoicXX8rbqddgkQY/s/kkmZZcfqgpfal0iiidnniZwjirlSSckmmqhpolcrrnfonfUUkbmmVppnDDmWWbsmmkggjoojnnfrrRZZistpropqmjjsqqssrvvmjyxxv4r555zz//////0088q54ZZ00wvvttvvogfeecorqqZZXXWWkllnnppvvjqqUUccoossjklggccnofgiissuupopqqwwmmbbnnYYnmuuuueehhuuppZZhhvppmmry278600yqytobpidxronvvicwzdtotrsxioebekgkhihcAhodalZimmksdWikomLnihxndhtvNVsAsrbnbXexnwncnpttqeaqcomeukfnohcmmjdZniimkjp3bqeYjm/ZrhykrjMjnillhawnpYYxgmXlXkk6mrmmmqrkU8t/njqiiYeqqsiuhbeejWvvmpwnnjemmRWeejvIIrtjjjWMMmhhhfllSRRfppiddsfmmQmmoppoiimqqpccZeeoqymmopplnnwwzuumryww2wj888yy//////2277R8+qqttu00ttwwkqpQQqtnvvffddxxnllppwwllAkkppTTxxiillnqqrrQRqqxxnoXXsllppjjeeZZvvTTmmrrppmmqqppeeFFllvmmcccy05574zzn4wzkiesvwpoiu0qr0sgrqflwolndfleeqdlhdinZdtlppkljmriYmghbqqoTrmhjocXvlmbhehhorkmkjXbbZsbKdsoplfklqXcddmoeifcpocnzafnmkf9NmbqqTkgqmrnnfavjiiixNpTjAmm8qLeZZmStn7p9uokZZacvlvrgrappkgjjehvvvoikkmjvvmSgfNhbbmojjhpptfZZcllojkUWWHmffdccemmhXXmoodXXclltvsTTopprXXwwxvvrl100wyk33222//////3388e67ssvvxzzxxzzolkmlmpqssfflllkheemmeeiiehhppjjaassssfpprrffUUvvddmmuttqqppssnnoowwffjjggggppssnnuuuuhjjiiey02552z4byrhtysnpyjUbtmritkyqpkywrmuVctqlfnrlYUedjqqYljjewsiUemkorovtnrlqibbhnllngmsswcejknWWotbuksjjthojSnqoohqgkchfjdt2iemkpq/YdcvWZThsmokkafvnbnnzXisOPnn7lilaapinn9s/ZkoYYikjbvctoZiicVoorqvbbnYppihkkelXXhZmmhtXXTjjmUccpffdjjgUUlaqqkkkXKKuYYhffZllEuufhqooiffomm11rwwjuyyyxyt333zz//////xx++o24nnyyw00xxyysvvVVirrttddUUkkeooRRppsspWWnnQQqqaaiiYvvqqmmrreftt22xmmZZllrriirronnnuudchhlledppRRssgYYooRz1341002pwpqroaarwSvrXYyV1iqnqllpJnthjqXdZuthqptoWjciberijXdjnkrdtgkagkboUhfcnfkblgelmcjbfgiiYkTjpnklvPhjBfgkkTafjfffflVxVpcoih+lcbrhpnYPqdeeonxepbbyoeggXnn8nabkkqDlp/t+eossskejhwsepjkkrZbbleyhhsijjdejjovNNfjccfjbbboohZnnrffcbbSWXkccceYYSoolhhrkkSbbkeedfxhhiZZvjjyyyqqtpw00xyi44400/////+5599ey9eevv1ssvvrrwlkffkplttZZcckkfsskkssggaeekkLLvvjkiimqqeejjXXvviiqquiiddoommddssooRRnmhhUUffxxppvvqqjrrffw10114303vxrjnqnkxZobtmwnpehqeiqiuQjrtfmVkmqnemoYepllfvlihxfmlfeZjonmsugrglnrkrqjjqajsitvRdqiigokqpUSdodrajjtfflpmnfnikQl0pkkmdW/iaUvqgjofkljjpotohVVrpmkgbjj8luniilPak5l9hpottfdMvvrkjbffigggqcuppUieeRhnnifbbkewwkkffYjjiYnnggglOObggmmqqTpplsspRReUUfhhjkkoqqooquuRFGuutzzsmu004xO11+xx//////uu99k47uuzzyoottvuevuffrwrpotsiinnpmmvvppXXpvvhhYYkkooXXovvnnXXfgwwnnhirwwkkssvvppqqtsmmgfoodcqqnnkkuuxxhggiihvz020544jzsZugitouropUqndygYYrgvvnorpddkeplpaqqhgcuknwpkfrXjHnmusukqnehugilibursSkOqwtnerhtnnTfhikqipiPaqViphhlRNjsgVBbnwmooXog9MpfvZhjgnqWoonitciRRvmhojWll+XjjWWspgY9r/ujioolQchsokdmbbsettgowlljhoofaiioappklnnXglliZZidggeeegggbPPkollonnlooqmmhiiViicllbcpnnpkkoklwwrwwemwyy10h55544//////8888u4+uuxxvwwuuuunJJsrqurzzQQllUUeiioollWWknneehhooppqqhvvbboowxppkkrrxiiiiqqqqggnnuunniiqqnnmmddooQQooqnnwwvz1022400esrYjrbzjkwnorrpfnjhfebfrXglJdkbWlpjhiigobscjtpvfvpltojseuj0FYZjuiqehlgXmZpnwXosRtopobVruqqoQjdXoefkNNehRahnjsfo0Yqmlml/nppvljejjmjccjpwgXjjvikknajj7hjqllqjsf4k/wrnppUgnmregqbPPmnjjcpuWWbiddiiZZovhhihnnrXihYlljcjjoddekknddeeVVhkkgllbaahnndZZiggegrggcttrllrrsrrskz23wyu669zz//////44++X44ggzzv11sszzomlkklsq11ggkkggtooqqrrnnhkkppjjaapprrimmffiiddhhqqbbussWWllllZZnnoohhrrnnnnssooXXrrllYwwoopu20102z1h3qmwloqwqpsaopXt3creTlprmmYlpkhiSanZiWnlfqpmmgoZqilqikklyaxhrYbWhcNffvbfnYQrqmtQjjgfokigmaljRZleJnmTTwXjlncxolb1hppVde/YZpuojejcphRRsbtcXjjvmbyborr7skVssfilk+s/bvummhonVqfcgWYYUjggnmwnnIdooijQQhmbbVcoodqnnnXWqcccmbbjYYbggnbmmnmmmccijjjnnfVVckkVXtcdXmmtnnvvuxxppx11zua339zz+/////ss++h27qqwwzwwttvurwwmmptouutsbbnnommiihhqqcllXXUUlleeQQhddjjefeemmlltttggxxvvssccOOkjoooohhmmiirrmmkkllskkllow11101wwttwnhplnzqbtsxwhWsvaleiqohnOjYccqoikcpffsFooXZbXcWTmeqdnjqcleZqowldrjUXlpbgesscpfgbddqkonZrdieqtjncUaarfdslbZcdcxjjbnVk9pjJumkUeblpmmikwrrghtbrZnlWW8glqjjskok/t/nZmppnfplrhqlobbqQoooivWWlfUUXbiiwjjjeqjjJhXXfggodnnglllTTnffsoggabbiffkUUloonVVlUUmnbhhommgFFttryyro144wvl77400///+++yy//p47tt220vvssyxZxxZZcrwuuiihhllbbbss11ttnhhhhjjttstbbiOOnoUUllqqrrVVqllhhqqTTkkrqTTiiuuppppzzppooiiyypffoonxz4121xxl2uqlvkivXevystZoumkendoolbalUfUUdXmMjpjlqasXdpqdnpnjcfmqulxjvorhjfdahSPkkYvltsqovsqqjfZbpjSjAjjrpZpjjkddogZehilyjkhssY/qtYrjPlvempOOmhsflkkuoOXcOqq7dXnbbppZZ8o/PofffamnoullbnffqVeehdsooonkkUmllWgnnZdnnQtoobddlTggpaaknnnffifjjkiijjjgZZMjjUPPmTTikfbbSttrZZxxryytryssyxX778zz//////9977n27EEwwuwwvvrrcrrooctrssbammnnLjjPPgglljrrmmZZwwooklovvpqppjjssZahhsvwttppkkYYrrmmbbiikkoouuxxhhZZmmQggqqsw11311x2t0uvkddepsyk0nvXsosvt2heqqpjdglphomegrWtQtgqefpqlneijyYsvpnulWnmtYqhlrcqqeoNpjmncbtqqemntsrwiAqnodlXddkgjkXXmtsi2bjnhhn/sKbuCpfowhjnnGguifkkylrOilkk6qiwjjklnY7o/uiqeekjkduXktlooZPttUivqqZhqqXmkkigiiXhpoiuddjrrqjaaollgVVgaagdiiRddknnaYYkmmoRRnnnikyrrksslQQoouvvfky001wm88822//////4488g97llyy0sswwttfsskkpurqqoobbggslleebbmmbvvnniimmllxxbppstppqqyykkbbswwmmssddssvviimmrrhhkkeewwppiittunnqqowy224yzuowrqyiimvhqpsugqUwjrnyWnpopeRamriotqhqmmgqmqjdmkipwkjfjpWnngbjpYpbmopfsrbmoStlhpsihmmTpdxklaYiTpwkppWWhtTsppurqg2kugpud9ebjtjnhjqrhddsptrmoo0bbsrlmm7gspSSnopY8r/uVhnnjZsnuqllgoohpnnnivhhjRjjcnrrngppijnmkMXXhooPpiiQkkmZZVggkfXXjeejmmoffjmmgnndddqsaQQfiifffwwtyypdzvvvxp66522//////22//t29bbttywwssvvqvveeiruwwggqqccpooRRffrrmooggffssmmiihlm11gghhtummWXvbciippnnooxxmmdd00ppssssyyoobbrrrwwrrkzy124112IysuuunkanoVqRzwpntrjnLhpkdXNmkiWjerqqejikqgZmqcds0ikpnijuniqqitnilllsjmkmjvpwlRaXViikTldejlhXasacNcccYohbhnuDpi0cpqlpe+SjmvekpfmbjlldTubbccwjlgfMjj/gnsqqynUZ8q/kkippmgqpuqntcSSkdoobXwYYejggcYjjpbiimadddiPOgddXWllhsskRRjXXnahhoTUgggrllinnYllfIImolllpkkWXXxxywwouwyyxzq33700//////uu//i74SSxxywwrr11phhlklstwwUUnnffeWWppccQQjoolljjqqhhjjjpprrlljjmmppstyiissooffCC00mmHHnnttZZooiiooWWttpaammkvy0z41yvpvwtuqdm1jurnNuokudkn0SmushPmnbbMpVvglodphQnhsohWjvpjbnrgvxblnntogiunrPmlUlowaogchrmmrQmpopkidcgnVkfddfllkhNklgT3hrVZdj/olpyWOechrcggkmwkiqqxnrplbXX8jnAppknkb6p5oxqjjXnUotblkijjufkkjhunnojjjYfhhkinnkmvvaUqqRaaimjjgjjbddbQQmcoomppUmmeiilkkkhhcffprsffMYYujjvvwuujz1yyyvk66333/99///44++u86llyy000uu22wsrggmqqutllKKrqhrrqquujjZnmnnnnsshhrrpccxxkkllttpqrrwuuttttttfeffRRXXiittqqttzzYYbbyyommhhqvx2410y2kvvkppilvnvdlnjSgpinlofWgkrYbkefrhenjjlfmlppljZpjiKMjrpminowykYqmuWonmRPgkorussakZqoomtjtlmNmrVnpnojbbncXrlmhvjj1opindl9seTtinrmbgjiiosvelddyHgpqdff+SeiSSoeda8r/ntghhpmokuobnheeiajjjbwooakuufjrrrsffljiihqWWneehlrrfddfddgddmeffoZZcttdYZehhhlliKKacwooeiitgguuryyosyvvxvV77411//////0088066jj33y22uuttWssoomutzzrrccllnpppovvpokhhjjopkkuuttleeeejjssvwppmmrkkooddddkkrrllddoottssuuuujjooooqsshhsvv1550xvpxresugpopkcuotrltmjmiYwxgYWknapdvhvemcjdbkrYjkqjslrgmYlmjkpfuilhfpmjqgembYqvigquomggnkhxkloirmXpkjhcclomigivpkjyfsqVZp/gSiusqcomjbeeeiullkkujsgmbff8rakmmeegj9r/glpAAgfpprcpoFaaXVmmbZujjOhkkalbblzppoNkkkiqqdgghiccjWWcggeXXfmcceeeYnnckklllhkkfhhfhxllgoooiivvv11ptywwvyu557xx/////+00//s14nn33w00rryyqhhdcsuowwjjffmlibbjjeesslmmlliiqqUVuuUuurskliippWWzzlqqrrnnmmiioossccffeeiieellmmoowwuqqwwruz2330wuXwoutrmwcdWtfwlnhktfkufdrtqmlWpmhtlphpjpjOgpeOIkmxWdwgXelgmmlohmxrCstphQddnemijtjbfffsuagkQpciZmoomdffwpNVvfsepk5gfjdfo/rkqwnjekpofiioZvninnvlqcjicc9onviiqTpb6s/kbngghPpiuThqappZYqqmLtiiTpkkUXttlaiigZonorjjhllhYffbllRnngbbommmlXXiqqpgggoolccWnnjl1qqoppccc000xxjy2112wr442yy//////2266z76nnyyvqq00wwltsedpvuyxkkddppemmnnuuvvcrrffaauuqqjjmssvvhhddttppttnlljknnkkccporrhhTToossqqqquuaattimmllsyzz14yvvoutsqdtvrXhqperl00ejoqilpqchggdimoemixkmbiqTeVmdfiMfq1kikzmsqqnrpgilheclmkmdqsaeqgijjlopxnotjtUkXegZSSskiheEqgqp5jtlkXj/eXltemlkUjmbbaixPioovippklGG3kXriisclY7r/nQfffcYghsUlleeelZqqOIwhhpqccNieemghhmqeelpihkkkmjaarjjYkkUffchllfggdllnmmejjfggQbboqreejiitabzzwuuts0wwxxU445yy//////++99v67oouu3ttqquuennnmmrsvvVVnnllpssnnooeelggiimmggnnhhoppkkqquuoopqYYmrrkkrrffkkzziissttggmmffmmggoouuskkoobv0223yxztvtSjuqrtufmwpwnrsZphpkutllZhVajjgkhWlYgoiobgvZtnqrmj0bfmwqs0rpqemjprsXjespawmpdnidllbmbjpsiVigfrmaiOOYyrqdgroam4bpokch9piiuqYojbjdmmqgvjfggvcZlVWoo7opbaaTcmV/s+hirddZoglvrmoZhhlgoooiwTTcrXXaibbpliiHiiiZbeeRVVpJPPgmmeSSbJJPfbbmmmciipffocchaanjjlnuIIJrrpttwwxsspox22x0d11911//////4477w32qq11zvvrrwwjooccWorrrkkkjccalljiaakkgeeiiddkkrruuerrjjbbWWTUeellpttffppxxlkrrbbggssutffNNnnttkkuuuuuvvmyu3120zxiwruupXstiowxolnsrjlpYhkvnjqndihSSmpiNkiirsdAZgdnbcsgnWgmoqapgimoolibfslmlobtwpfkkcmmfWpriigqkZepipWUUipVompnhmo0jcmeDS+inTvkalgrnfggWovqibbuggfogii5enolkokgk8p/uffiibakpshppseeWwuumhxppmjooenrrqrZZrfdcmdjjljjoaiiommWQQnPPahffkggLffoffnmmPijeggkmpkkKccYllxxsuunTv7731u77800///++/1199V62ffyywwwww44mttggiqxrrhhkkeeseewwqqqqfssmmssttmmrrnpphheeffllabffqmmuuuuppssqqTTffnnbbnnwwmmuuPPppsllooqvz153yxtqyvoxrqkqgkdqflku0lsppXqrkqcnmXRdkmjikfngrklWgmqnqpjilkrJnLoZufwtqaxrfnssXcdoWUtukqllnrRrgepcpoVoVdtiiijoiUeokcfyjPnhZW+mbqvbjdfmiriimksVphhyNnsgOcc9tebmmlrpo+y/uaUnnmgjlvmmekedfXqqlavkkXruugYllnpccJTnnVoffqjjkimmUmmXrrYeelTppifffooZWWkaadYYSYYoqnjjUppmrryywqqntyyyvyn55322//////xx88w7+ii110wwsswwurrZZsutppqqggqqkllmmiihhhnnuuFFjjmmhhsppnnmmooyzjjlltTTqqsrnnhguussppssnnddhhnnppqqvvoqqnntv0012wytl2siiWnp0fnnxaopfunsonikxmsikklhndimjrpkfjjblvfnoushgakYSqwhTwolmlhmhuhtkehbwhaknnfjjjjjvcfkVqotundhllvqbpiUrgXkwgvfWTj9gcoveudnmdjddijsgqMMuejaqhnn7nennngror+t/mqcoomqoqpQhennmtaoornweesZooZiTTYYiifaoobkgfYmmfinnXnnihhjUUefWWhYYLppkIIYiifOOWbbrtkhhgTTllmwwqvvtv1yyw0u774yy//////4499v+6uuxxwssyy21btsjjeoussWWaannnlknnkkjjjkkeejjxxppoosmmnnhhsswwmmpppZZggmmggTTwwttllwwvvffoosshhqqJJveeqqpvzy30wyvk1phsuYqjfuwtokfiupkhulUmZTuqgjirpryiwbfpcppYvWtjuqkhxamOqlkjqnmofepsRcbdnfpqPCjfXeeeskdjinrntfpnYdqnnqjfhpUlhfQyMhngmb/haRpgorpXbohhZfscekkwsjirqvv7kkmhhupnf+t/YeXhhjmqnscmhnppQorrfaxmmjXmmTgoocSihoaihXuVVrEDPPPPhZZjccgaaeissfjjf11TggMIIZmmajjqsljjYaaoqqxxuuunku22zzk55344//////xx99x77sswwv00xxssoggdclqpqqkkggeehiiiiaaqqVwwiibbmmeeoolddSSssKKnnhhmmxiinnggbbooyyuummvvwwoojjihjjkkkkqooggnx2023vvxhzwqyuYw1fkTppyri1aqkqchnYklsSshnpmjclmijplcFvmiQeJZkplpmtmrnfupcgcpkuilUerpondokvtddqQnuYvjVnSeWgrpYYineoheeniXxcqpZfm/XjjtlqmqowTffhctjjhhyZosogjj8rkiooqcsk+w/mrommOkkkvkipqZZgmoocmujjokmmakiieraabiYYjlnnfWWnRmmihhhggXFFaljjYggcddacccRRfYYhXXZbyffekktabyyvuuNbz3310o446zz//////yy88n49ddxxzrruu00jccjjqttqqrrPPPPnVVssjjZZmbboouuuuAAggrrrkkaaooccfgpqlffqqqqkklkwwttllddvvWWss00iiZZqqLrrkktx0245uwugwqRu1lcoponvqvoeqgspfbdvmmoXlZsQriZeluoftwfNmbnQkloopfzibiwi1rmohunornsloettqmjmpoQQshfirVXrqgimhnkkkjumpcdjmkezjqnnlf/lniukhnprsrllrmsljffykfpgfXX8Qrjoomfqj/u9ZgvRRbmmswselgggmTccobseelossZennamiidellgakkgiihfnnhllhiiZbbllrrjoomhhcddiffdggNYYikpppqddvoorrwppilz22zxe55411//////yy//u64iizz0wwss11mnnggnusssmmhhnmmggkkjjiiswwffffrrttjjsttjjiiqqttkkttsttqqggyxffttdcbbllwwhhmmhhmmLLqqpffnndz1131sxtoyssovpltjnpsrqghvgmgeaoxuPggWckhioplregoYlrmcchhpsixnZnqsixjgRjobhpjiWfrZfoopghptjiipjZpnhhdTlfjTsueepnXtkmkfik1nftggn/jngylhipalbllofsolijuolmknqq6jgcWWKemp9q/erimmlqshqmhbpfffgkkhiuhhidXXMgYYqXkkUkppXiiibcclePPahhkkknkkcmeerppjuupnniqqcbbfbbVWjqqdooskkzzsyyiqwxxw1r775yy///++/zz//d02nnyyxttssookYYjiwwquuoommnnsppiimmttjppbboollqqqqlhijjddkltukkfffttppkknnWWwvffXXfettTTppllnnhgNNosskktx2146vxpYqrxvePq0rqqrmsUnuekkrosoiJecVdslqkjYqublVoijZifjffPtsfjomu1qoifjenftvrTnfdosusjunnkkkrjfkjhlonkpmZfZZfofmempeshzYfYXcW/lknxmjdqludiiYWrgdeezkVrlldd7njkZZpkSl8t/jliiidjpssmSkgggeYnnehuTThbmmjqoodqiifWkjXlhhcYYndhhhggZeeoggpjijhooMllddddffmnnWhhqsjZajnnomnuuxrrBpvzz0xn11511//////66++u39ttuuxyyrrxxjwwhgrtsuuccONsskggnnkkllRccnnllvvggjjhiijjhhdejjmmkkkoollttuuXXutgggfutiibbttssiihgnnhttlltyz263vvxkzwbemnkvnoonhpkjqjYlxXerZoocbdlgpcoosogHgqecnWudvhhpeoRjzn0mqjllbeikkQojfkisqQmvepkklamhXqmtHemgjhXddpgHTwjhpaj0dqbjiR9loTvjkiijkiqqfqvhpffvinxocll8cqoggetJa8p9XhiffirgfvskcljjgjeehtunncnttYmqqerffgjondphhrmmmjOOmjjipppjjpfVVfmmbttiYYmrroggWXXYaxccntttppwwrttpw433ywe44600//////11++Q75ii223qqqqvvivuhhhqurrYYmmqqqZZeettqqlqqkkbbvvsskkgssqqnnmmttAAqrujjoorrssSSjjZZkkiiUUXXxxrrbbnnookvvrrexz113vvxuvmfjorclzrfvkoulzmneuumnjkrjhcktkopgjkUbjonjceujZgVjrfJlhviodlqukegZppmlYSZssdXkborrXmcmgseojfeOjiNffgalaWjpolj3WPrlpP9dnqxfmnqkWmWWgrtXfqqvVegsptt8plgddYXtX8p8dhZnmfajssdjiZkkrjqqbirkkmmddjfffohYYgjhgodiiTccZcppjbbZhhgddoZoomddgggKTThooVhhonnkmmccRyyaWXvvxvvodruuz0r669ww//////1166u36llpp100vv11ZnnaalruttWWZZffeiiqqmmXXkbbuuppppllqqhjjccdemmxxmmrrdklggvvxxhhrrAAQQppiirrggmmmmkkllioouusy3465zxwi1uhooqs3jqqqunturZfjeinqrbosfWaeswfgslpjXXtmjsqfmeHhrfhgrredoXwqYnrcermPauhpmUpecahhijdIimtiakhmdeqkklpZfhjtfolzUkdgqo+NqkujudcosagggdtgXWWzpdKgbkk/liqTTqgYi/s9tftllkgxhqgeXgiijfaafPwkkmmjjmYVVgxVVZoxxoihhhmmZpJJhnnSnneMMnYeennnqjkfmmhggfbbGllegjooallxppyyrvvn03ttyum227ww//////3399z76iiuu3xxssyyoyySSqruyyttjjggfQPkkyyqqjccpphhwwppvvluusskkttvvrskklopvvyyyymmrroolljjeehhmm00llhhooihhkkow02652x1rvssfoieUhqqevholkmvhjmjvorjUceoifhsdrcmkcuPNnrjhwlnrgHhruotlpijpgpVMjunZqlsrssdLmkqqukjmZkhkhiaolpsMMhqkbjcnkva2feifrh8hlluwoVdmipNNfntmphhySlnlill9kfoggmrij8q9grqccdpZkmelmQggnVvvurxffrkmmHkooijnncaoodnjjjddgOTToeemggaSSdfXXjmmnqqpWWkPPWMMjmmdemllcnnqIIuuvwwnlx003zs333ww//////0088177ffwwxttrrzzmrqaafmtyyffaapotuuppkkeenllqqjjggrrddVnnuuoommttssccuwxtuffXXrrrrllmmYYhhbboorrmmeeqqtggddky0263205rwvtwvvvzf0yqzlopzRmoxcrtwpYfdmahrLYXrZfrkrpdjlngWxSvqbijnsullpvuatehhkqjajjrkbdchShhmnmrjghlfeeldpdffqjskbinrio0hkflfc/akqugqgiliJophfuoikkupZrkepp8nlheerhkc6o/hepWWSjfgoXjplYYkaZYhawggYillVfppdlnmglooepggYddkAbbQnneoopggldqqkPPkqqnkkkhhDhhSccoqsiiUmmestwwxxxamxssszl44611+/////rr88368llwwsvvssuufxxllrvqvuhhbbooobbddtsIIdaaggUUeeccccjzzuuoono12iixxvvvttpphhjjwwkkeellhhmmllttmmppiinddhhiy0345514ottppriukhsnnehknqlhqlhsngpfigpqPncqfslZijmrnrpJmrvwjubeZzelExjPghkkflfsmopfqnYnojnmmjhsKdgiikfphpnlllpniktgkiei0oneilj/WuYqcljcXmbkkbjuqWUUvrYfoprr6eomjjljgc7p/skogghYmrvfcuulltjddeutXXjgZZXghhnneegSbberYYokjkTooeeechhiiiaXmmWggZUUrfflffjXXXYYklhTTjiiejjvvxvvcrwwwyyc223xx+////+vv88u45jjxxwxxqq00mrqooqrqssWWZZiiqmmqqkkhhollffSSeettjjniiiijjeettllttseekkvvnnbbonqqnnttvvhhhhzzmmllnnhoohhuy0654830t2qchsptuvpntvioovigmwbjmqjuplimnUXlrYpufkpdkogkmpvYnhXsdpxvidgnfmkpdbqkhkonkrnPfrjpovrjmkgrYVjurWlbggpuStnpsbcj5crpiil/dRjuhlUfkrdbbgmskekkwngQghii/bdlggrlhW8x/ajohhipcpsgfnrffmkfflguRRZnZZcTuudkhhWjllgmjjeZZeiZZpddhHHWZZlhhhlnnbiibffbiiXkkcggdfzoohuurffttwxxwtzzzxwo44800//////0077092bb000vvpp22unnsrsvvyyiiSSmmekkZZrrnnVpprrppiiVVpqmvvppjjffyynnttvppjjuullgggghhNNttkkoonnnnkkwwjjtkkhhtvz468644vvoTvZimmnkpjilmmvcaoyXp2onVmhcsmtpnUkmoknkimtltbgmRWqmjhnoskzhpmqMrpsmfMonc0nliobnddWqXhkpmqkeoecjommragjherrmjzhkminb8mgluocpohsuPPje0meggybooolhh5fctUUhgnV9v+qhsllgintvpllriihibbmmwggnfddXaggfwppmZnnhjddhhhhXWWekkdTTkhhmdggYIIfiiohhippXVVbccce1qqirrlppyzsxxltz11ztg663zz/////+zz//s56eexx411wwwwfvvpouwrxxiijjppTddddqqoolaakkUUoossuuittnnjjhh00hixxteekkccttoommmmllffgfffccppeekkmmshhjjjxz866672nwnksssUohtcxtnsjvbtpwaj0prrjhmfdrlsjlhfnskhkpjohfmbqZsurlosvldzplnngrlbfchtsnXhjmejjsradtfZdiWnsWfGhhrrirfhrgaZ0bRiegX/ghkulpnilmZAAakvbbmmwjhnniqq+rhibbftcl/u/fdqQQfljiqhpiYeelkffhWsTTjUjjWnnnseiihjTSkiVVdnnnUoofccfaaZUUtkggkeeXWWXFFsiifaaZggUWjiifkkdjjvvtwwdbuxxy0w66433//////ww66c+4ppzz0ttvvxwhwweecssssddkkoorhhddiimmZrqhhggnnlljjmiiYYnnabkkqqootmmSSrrlljilljjllxxrrnnssjjffiivvqwwmmpyz456611fwqwopii1tq1iosgTkqnjqeZqUqlinlnlqghViXjgdnjdYrrmmpopjoocqovRgrnuihZYKkihbflqnnrqVerriaehTxnKlokqqePffwvcbkPggXX0lsYnri8ZqqvPiTqlMlaaJdxfhUUyvlqfZYY7eiwjjbobY+s/slhRRhiUnupjqnvvhleelpvWWtheelkkkchjiTgffojiifkkuibbqnninnlaaqmkkWoojbboTTVnniccenngiyWWhrsvlluuwzzjm100yvq33311//////4466s85oo00yttwwttUmmkkuwsrrnnddWWsmmppnnkkellddjjppllllmvvooZZsshhppjjossllnnUUhhllonggppZZvvssqqrroouupllttt13055421owunukoVwout0kjirsllftkjqehYaXiKkjjqfkXrpjTcdlkueljqljlirdepjjkikshoasSWmMlrojfjosikkscsafhbjolgisnfnnaoppmYpimo1imllim/bhhsdXlclolnnehuLajjwimrmZmm8kndZZpjjm9q/vObTTmdikqbfjkiiphJJnXxddfZccbbttYnbbglmmaXlliggpocceooSmmcXXdfmmfeefllSkkSmmciignnbd0oogAAqrsttszzoy200wzm665xx//////1199v97kk00yttqqttjrqddfruzzeeuuffbllkkmmnnjssllnnyywwppvijjjeerrppssccbppwwvvnnooSSooppuuNNYYrrssjjppvvnnnnnhy206422ymqvttSie2pqctqpssodghthmnXsrpIZjntmidhhsdkqoFUopqgfnnoindajnntc2ssnurjkhjoZcqbhjbuioodjnvpsdlhjpemdkhhhrlhtjclotxYxijkk9oncrhjnpjZapporulijjuTXsqknn6vbeccrdgb8s/aqqoodomfwtlsmjjtckkTZvppnmiiZoSShkbbZYoolhXXoVVsUiipWWkppjRRdoFFjnnnlloooWiiaddfeeacmppoZZlmm11wwwfrwzzywo666xx//////yy88m74xxvvxxxvvzzwqqqqksrppffhhZZnggoobbiiolliijjhiggqqVkkiiqruuwxppnnummkkxxyyllhgssfeoooooooocckkoonnpkkoolz33433ywjwwnteowdtmmqivtoSmmVrftqlshkdgankcjmpasdrjfjXaqkjkXdsljfolternlXpgjprahTQkswvnchkikkjlnhaWgZhimamYTjjeomrcUmcYi3kusYof+fgkyqtmukrpmmhfwdiXXufjpepoo5ghlaarnri8x9wtfooinWquljSekkUesssZxPPcpiiYdjjjggfeZoocuVVmccqOppehhZaaicceZmmqijgqqiccXggZffLhhlnwmmbmmkkkxxsvvTv022vwl442ww//////yy77164bbzzywwssvvuihggjsurrMMkkrqrkkppiiUUiqqmmMMxxSSaaawwggjjmmrrpqoomppeeaammvvssmmqpllppoorrxxmmhhvvvXXuulz32344z3ezrkntmohqqxq0hAoocnojljuXjeFmnbjhnifonbtRpoHnXtnrcSmRjlkvoufrjVyXRiugjqjbrPncmOUlNXXlptqwpmplZvkskjKKZtlqpdVhoAyatlTna/vgeseYqoArdSSglsehYYxUWgipdd+igoffetfe9q+onVpppdbhpQjYkiirYaanlsaajjppjcffnbmmjlZZlarqZhhYpjjiddoPPlddQifflQQjuusjjiddYccjppoqtnnSggZccsswxxzdxww0yj44700//////2288a13ccxxzvvxxzzdeeTSiowqqnmnnjjinnZZffppXnnkkYYwwlllllppqqiiss11mmllWggssXXwvkksseejjiiiizzttmmZZXXsstmmppMy00041wusxoorocqxmtxjrqwpnWgmhSkrZUVjglifjhYjnfnGqoocXk3soeqjtjisSppnefopYgmotYmikPcmmgamibjjpmcpmrgiemXljikiiojikgRmZio2knpmng+lqauqSrZimQccdsxfikkwpliiQop3enjVVqnpY+u/jepiifnpjwminrZZddqqeowhhsjnnjkaairffWcddddiiammtiggdcccmmkRRqhnnjeekssMZZZnnWSSallce2WWcddhllxxvvvsmy22z1077744//////1166182rryyuuuttxxappqqhptssggddPPQggkkmmmmkjjXXllmmvvhhBUVxxmmrrjjjk12mwwmmrrggooZZppllbbhhwwxxjjffoobbnmmkkq0yz12221tutthkhipmlxwqkveqhqFhlYlZlpgmnpwnsqUcnqamlrhcboIvzlmiotkkkWiadimkikqrkiglkcunbnipjmmmuYsmksacogmrbZjjlllZqklgnoyemwkaa/WcevjpnoRglppLkttfffvsisscii8oqoXXpopg9p/flkMMfZmdwtnthddjhTTqi0iifhiijnWWevllallliYjjkddgYaadUUScckmmcettcijInntkkkOOhSThnnjlwhhdqqweexxroowvzxxyvZ99511//////22//n56ppxxzzzxxwwqQQYYgmrttppffkkkaallYYHHheellllRRmmkkittbbeejjoocdsspkkiinnJJppooZZccmmllsskkppqqffllnppWWpv0y33526otvslpwfw0RsuwxmxnrYxwnUobSppgNnqxocMkuihbmpesaagwfgneUjkzoigvnwohbpdlWjgmnmrwUgntQccfychifadckjtfufVViXihsdqeAoyVsgbqr/ZiatupMwgokeeYhsZgggxfqlXgXX7jkfUUkhnh+w/dreggmovinaaZgNNbhggajvkkhXttjmeeiteeLTTSgkWWollmAppmoogYYnbblniiinnokklddmffgccLggjlorrlggUeetttttksx11zsb44522//////3377s33ppxx2ssvvttjuuhhjpr00RRWVppeiissppssXccmmffrrllppkqqeekkkkggnnmmnyyopppwwllooXXkklliiYYhhvveeYYggnJJiijx1z51432fttkjboryqvmdsumovnVihfnxhodtfcmlpjurjostgrWhqTgcgsbbfcYhcwiitYijnhoftpctjrnoveropgjjofiUmROjkalsWUjffjpTwgjVqWd1PooUlf/lgTujchcmVejjAlvkfddykrtjkdd8fjsZZGplf/t9nknggaoddsjeQmhhjfffwaxuuasnnelmmhrRQbkqqjmUUpZYiXhhklldggfaaiUWWnmmhggeffnbbdVVgnnopoddlmmkaaqqpyytt211vym555zz///++/zz88x74rr33xuuuuyydaZccvxmuuccfffforrTToolldhhffnnssppttdppLMYYppxyeeopepprrvvssllssllVUkkggjjOOedjjkknnmwwmmqx021441ziwxeqpfgywxpwmcmrpqetvlrmhnmkpjbfpndfrQnjmgvkvlmblTdovpRtintnpsqwlktbyWgfhndxnhpqhmTTlsjrldgqmqkjgYmccgtRoofkLhm1agbjZj+iRozXomnpoiffYZtjYRRyUlnobgg6ferjjwhZc6p8omfmmPuQrtmWjokkneeenXvhhhZiijRiijjmmTouudUXXZiibdssbggakkcbbjnkkhpppbbkcciRRlhhlooWYrqroqqejjuuruulv0xxywm445zz//////zz99s47jjzzx33ssttukkutiqosskkddrrjUUffrrssjqqffTThhccggtMMmmiinoyyppmmlccpphhppllwwnnddttrrttvvyyoooooopxxttf2132444zuxshtrpsutoolonnxoOqlwjisfpvipncgeivllldoeufXkdmoVphpkhdnpwujolhvbeopZkhiiLs0iVaZjhoojumlhklhhekZiZpccWpNehjdqbtyWpdUZv9lIhskokZbfdddXjvQmrrwfUrjbmm9YkgjjgQfa+r/noennYnmbwoqkknndjeekatkkkjddbZllnsrrgplllkddoiiiQppZssommniijagghggcddWkksjjjfffkkgimnnrpphmmuuvvvjjvyyy1f55600//////3355d+4mmuuxssyyttrnnllftrxxjjjieeRnnPPVVttXjjccnnoouuqqlnnjjttssghnnll0kkttppUUddrrppfewwqqVVzzddssffoowvvqqn01325512twsnshlmyjlrnuvctrnmosgqnegdpZacfvqoUWhcUeejhlgphrhsktrbemnWhnlronorlijlrljArmqhVoYuuhgkrnimioobfignOOgdlonglfch2ZcYggS/ophwrqiqnffLLonslhRRzUgmXcgg5pfillqghe7o/VgWbbaTestDXlJffZlYYfrroohdTTiahhnlfeKZpodbssTmmmcooallgggfddYilllllmrrjaafbbcUUkhhdfvnnpvvyqqzzvvvhy1xy1zs776xx//////xx99t74ccrrzxxww00fggkjsus22SSWWRRlggmmddiiinnrroooorropHuuaaqqmmpqddkksgguuuuvvssyyppmlttgggghhbboorrrrXnngga0245341ynyommuhpopaoxtvcsqPhKhjkypmjmolkqpurancYnlZbeamsfxsmmpkXhbc3osnuoXqjXpmkWqlktwojkIllloZlqlpvinfnopjhYYumXofTonpf2Zwdjol8ggqwkiehqiOaamdulbllymsflmkk5VkscckZlY+t+xfphhfYferfenpnnfPpopMufflfQQfUmmVdrrgejjkdnnneeficclWWQYYfffSebbdffciieccYPPciiihhQRjnoouusmmuuxxxWjxvvyxq55711///++/uu88s86vvxx1wwwwttfnnaanrtwwjjTTkkrccnneellgccrrnnssooeefstiimniillnnOOsmmllzzihggvuffedonttjjaaUUttddbbiiikkex315343woxrhdcjnuCpqorfueqckrkftyekpikMVdgwcllvAjqbSSbkhXpcmdhdZfubmkpdoxhledrffjWnnwmvjrnpkkkrgsfntmfkqfrrjbbppfgkSeoca1dopnPb/pebukoqhjmdllibtaeLLxgoonWbb9jqpccskqj/v8qqqmmlhpstPVfqNMhUqqef0ppoWIIhhttsqffeiiiflXWehhllppYpphggoaaqFllsUUSvveffllmeTTbkkqswddMeeRnovvt00pvz001wm226zz///99/zz66e64ssxxq11ss55kuuUTfox55ggUUhgrddqqwwiiQhhggiikkssffmxxeehhllxxkkYYuwweelluuVVPPhhccihjiZZssuuYYnmwwdrrccnz062313yuzmhornyu1oesrptfujYPzdqvuosldimmucmjqnmrlWVckhxrlrdpmdoZislbqidlVtqcnpleTshskqbOkigglbdnotfZdfsjpgQjjTUlsLcgieq2aphGif/llaqVooqZvTeenjudpbcybRbVdhh8lpskkxhqa9r/bobjjekrluqkoRffLcmmgNxaagoXXimrrXkhhhWkkunllYggjbZZbppoccmggmqggqUUalljggZUUaiimhhOPkeeewwfooxxussky2zzwvm553yy//////1188b15mmwwwyyttxwgvvednrnvvjjoojjgkkYYssppWttfflmhhvvppheepplloo23jjiiwssnnyynnZZwwQQmmuujjeeiiddssvvrrnccIIhvy56430yr1toumlppjolphpjoaroVgYryhqgiZnhgjXEUmpgmuofYpmnhqjlXhpgYuhtTnetnjgdihgVUZhnrjkpahtSSoiHgeXfrrstkplfXXkfYZggeklkxlajoih7mqgsngnmjatllmrvodllunmcddVV8cdZhhphdm+s+rkkBBkjTdtijtvbbdfppgkvmmIrqqkjiipuWWgoiireggObbhhkkmUUckkheeRdmmaqqdbbdOOoXXiggYZZXZihhghisSSttwvvkjxyyzsm66644//////0099v51ddww2vvqqwwi00llpssrrUUeeaavjjddppccdnnRRoorrmmttRnnffmmggssllttuppggiiyyrrqqfenmuuwvffkkwwggkkmmfeemmxv05651xwnwnnuwlYnsqmroTsnwnqodmrgpmasdmsoUnZmpdocZdvUqdgmmoUgnAggosopxkqiqFAZqqogYmrrbnnhnMnngSfppojhZrmgZpUhhoXhocejkdmzmloTmb/ZZnunceaUgahhmjvmjhhwlokqhii/TgAjjpajT6n/nghggffqppadigiiwnjjYpwIIoqkkbmccfsXXfbeeqMoonnnocccqaaiffiXXaammgsshlllmmckkbYYkbbuwlggWmmleexxt11Rjw33xvf224yy//////tt88y+7yy22xwwppttpqpggtwlqqppjjnnCmmjjrrmmjtthhnnjjTTbbgjjxxkkllxxffoop12qqppssjjddWWedssYYooiiccqqeejjimmuutuy35720unwrqDrfvoqoctqzsrheZVokoqirjhVkolrnpltlYnalkniteiulYogneprkvqmZrgaqRbqmhflSZwphaWrodddjmeflliWdrhUhpeeecjnjZWlli1Okiijc/pZqwotlugoiffcqtjkccwGlrqPaa6hgqlljqeg9r9igjjjdhcktmjxmeeehmmiAyhhPehhShYYjKjiclllwtmmajjKkbbjWWklldeeenqqijjjiinYYrggTJJblljl3pphmmnSSyytssovxyyywj334zz/////+2299y94oo220vvvvutnggUTotoxxlkTTnnullhhSSqqUhhhhJJiiiippsooppnnllrriiccrjjmmllookkuuxwggoojjhhppnnbbYYppkjjppvtw35722xgzqVrjnn1nulskvpvsjsoWmkmjokZVkmxdljprtqoppcakpuntqghlhhiqn0joUhdmhkpllbhlgkrvpopmqXXebYmpfbaprnptkthhoofprXYjrk0Ytmjjl9opcsqkjkdglPPcnszIeevcjylfoo+jWqeemaib7p9oZfggXOkioctmjllmkuueUwggmkiipjhhsmmmhkjjnheepjjeWkkceebTTjhhfhkkeqqiddceeVppYRRcttqsqddmXYrsswwxuuot0uuwuR772xx///99/6644v77qq22xttwwssryyoooqnvvggqqggbutUUrrrrUqqrrllYZjjllhwwggjjppppttrrpllnnttnnnnYYsroocchhHHtt11qqnnppmffkkxsx26501ynwtfwnopjocsswimscbasifssTkwhtkiikquimtrnmtthmksknnntgbmehPXXshoahjooppspKbrxkkonlmkkkwgknmqVolupdigYYkkjfYgikbl0euaUcp/bAftknuhQqcoojkshmXXtfappmqq8gpcooxllr8p9mpgooKfissifahkkjijjWbuaallkkhVmmrqmmghkkqadclppubUUbiigXXhddndPPXccdmmUhhnWWjbbPqqTVwjjbpphnnxxtyyoNszzyyp33400//////xx77x95jjuuywwww22lonffrut22eeooggsmmiivvqqgUUqqPPtthhggpuukkrrUUuullXXgookkssvvmmppediivvoowwll00ffhhrrQvvllksx183zx1p2ojpfeijttrrndxsgZkheiovajldpYkuXomhSeVlmntemeougupcpmTcoQnkjqwnYrxjRncYgfsufbmcwieetbhjcgkeMngldtfaalgfohYkptk1hmakkU9lsjvjkfgZdpPPQqudrrrzgpnrkdd9gqnddqYaP+s/lQerrhgcHtoglsiiKaVVboqppfiqqdcttloggdjmlopffiiipNddgnncUUQaaecTTgttcqqjkkWcdqlmSppbcuhhSxxjeevvwqqtfw11v2u664zz///++/1188d23jjxxwvvuuxxpeemmkrrvviionmmjddnnjjiidrrnnnniirruugffttjjqqooderrtqqhhvvooddqqkkeecciioopptthhssllihhccurx394z0uT0snetjrX0ZgfrawxnekrmizvrqYdjATVgpshprfmTtngkkgFmnXfwfpR2lfqophnmlgrlmtlhrlpkknibncckrQghflojnfrXpVggbghhqDfann1cZcYqe+aTiujtkniafoonnvmjrrxbftyjff8pmnmmunue8r7hispoAtggsdsmvZZkjnnoCvqqhsllKlaaklLLdhppdchgZoomdQQakkfTTqkkYkmmimmlkkcddWggnZZSooqsnffTffqhhrrvuunovuuxwl447yy/++///yy88I36bbvvv22qqssbnnrqXu1vvjjkkmmdmmYYZZcckttddttppjjllSxxlllmbbhhppjjpYYnnqqsshgmmZZeeggmmttyyllXXiioorJJmmoux365zwuuysjeljkspiqcisiiignhqqptlXjkNfepLkpjuaOijnUprpoekQihvfenpkmMkoxdclYjqWhbiZJvlbvfshggmwefpgmebdemdmjppfhkhahukgnyPrikki/oiIqsmphrlhkkLgtpottxgatTmYY+pZSkklTci6q9ookiicmlnuNZtZTTnbttkjyggkUbbkTjjdmffbqoofmddllllkmmljkmjjkZZkdjjfvvmiihNNommeddjLLprckkjrsZssttuyyjoy330yO115ww//////ww66y78jjwwuuuwwxxbihllltyvvYXuuttvnnppjjxxgttsshhmmiissbppeepphhttggZZtrrffiionWWWWonggoohhvvpoqqYYeessLllmmjvwz351zxjwqrsnpzwtimopwmwTouwxjfslwnndcrtaixbwjjiikgUseicouhsathfotihrZtVeUaoOmncWYZppwmVmgaarjjpnkigklnpvfbRRwyjnjnshWsyhhtphd+jkhuiPUemzKiiZivkkllwpbnlhll8ghpaagpig5o+vsgsscduUtimriTTmessbPwOOcduubhffeeGFiZllhsttjjidIMMmooaMMgcchWrrkuufssMjjWVVjaaQiinpnppgxxkhiwwqwwhqyxx2uh55500//////4444V58qqzzuvvxxxxnrrllPoxwveeRReeummddttoofooggmmoolluueddllOOjjqqmmddtopPPeesskkXXbbjjmmmmeennddWVmmvvAkkggltw477ww5nxrwoulpymujipumuwgopdQprvpdZbZijioqcUnpiYgngbaPZqnZcnpblinooIkxpXhmrmUeGmnnrqjnsimffPnhtbtnIckAfXcXhhqnnwlfwiae0dnofsl/qGgsqnXdleihhlHwndhhwUmhilii/rhgSSgnrl7p/mgibbirpdufVqgeejXddtXwhhhiiiecllZfmmpekkbjhhdihjmllShhWoojQQcgijXppshhjSSdUUlddOffnpuiiemmtjjxxtwwSqx002zr446yy//////yy99482kkxxwwwttzyowvonoruzzTSaajjpnnffffssgvvooeeVVrrqqdRRppggtuooqqwwwddiipprrpobbqqrqyxeebbxxvvccppoobsspptx024612udyunsjLswrpqvpTqiumqqqolljiMtpnjfUoZkJaaaWgqeemvjriihwaqmxqrinXerijqpkgnmkWrsYhqghcaadlpzYojmfgmtTgdkkffafpotmln0noqobf/podtgrgskqlkkmiuvgnnxpwjwkmm9nbmjjijcd8r/sammmXhrfreiluffbgvvhCzeempMMPlkkrrhhXYeeibXXoiidcllfmmcllgVVnhaafYYkppoZZkkkXeeShhfhuggkqqmssvvxyymt3ttwzi66711//////22++H54ppzzyvvwwxxwnmllosmttDDiirrrqpeettppVjjuuoonnwwmmnuuddddnnstrrmmwUUppffuucciibbuuYYoohhiivvkkoosspxxssuvv1472x1guqgigtrfvvcgmwvpmgQpsZhxoogqZfeiqkuohscaopokljsopZqceUlhpXvXnppcdisorjpgfffpspglfnddsqtlqwtqmdetnjjllmcXQedtqkoxetqecj/crkuKpekutgnnStvfhiiufVipgaa9ncattxiCi7s/TSlXXeaoktpodaaZknllpowooirqqftooolnnePddcsQQmkjfiDDkeeZeehhhbUeenkkcrrVnnhllYYYViiqsymmnhhviixxsyyJqv00xxm88yyy/////+2288r33ss00wyyvvyygwvnmquwuuppiiqqviivvwwmmpoojjjjsslllljnnnnffVVjjrsggqopffooyypppptthhllllqqkkoonnppqqmnnggtvz2452zvrxrtmjnvmwrttktlqsXndqdlmiqbZZhdfFRWfpvoqirceZkhlmqjjpmnvsjqqdgvggsktgnkWGiqpmovpkXmmmfRogisujelkXmpootKnnbmWofkzfikqqk9jqluolnXnVgooolvaqNNwfUWelZZ/kkrffmnpZ9s/fhjeeRfojsZifmaagpffrPuttkRUUcUrrZdnmafhhhZddkoolYbbhppfTTljjheffgXXSqqRhhklldbbcmmjkzhhPZZhjjzzxwwaz000zyj224vv//////xx//n44ooxxuttuussnllnnkpqrrnnmmlldhhbbkkccjaabbrrtthh00rttqqqqZZvvaappiggnnvvyykkggXXllkktttsmmvvZZttfffnnnnoty2671z0qwwmnYYlqewgxpvpeyUcrsckqoUhmkSkmmdjroAmfdjdgfljriRdXcfricteUlgjnjdgnqgZElOoxmlZlZlllrmfflshqfrpgotVeemmgsmdkmjnyhqJkgi+aVauafmenueiirAtWYijvdVOIaoo8ZjpXXwgel7n/chnjjimqgvigloffemhhWmuggijlllellnwrqkjggboNMfccfckkhiiPmmibbhommdrrlnncUUihhbccQmmmoellhwwlrrvvvvvmkzwwxxa55711//////yy88N63ll33z22vvyyusshhkpsppffjjnnZgfbbRRjjNWWffffuuhhjjrrriiggefz0llmmkkkqqvvccjjiiggllqpccppssqqccllnnwmmXXlvy45311tjxsWsNYrslpprugdoiqyhylhpmqqloacXZtqttkkqHylVlnUimZkshfwptqsx1XnecmtjXqhhofXrqsehdennmapPgipnqWmbpcqffUkjZgdjkVbxDndghM7ldiuhmggirmllcpumdVVziqphamm9tsygguisj7t/dsknnfokZvrZijYYIrnnisrllamXWoXeeldcchnVVpeooqiijqnnmVVnccZbbcnlljmmkcceaaimmjYYhrrlnPUUlppilluuu11oowyyx0k553zz//////11//w82WWzzuwwzzttkllbblrvyyGGmmnnknnmmwwooeppiiggxxpprrcppmmjjccqqoottpttmmWWeehhllkkookjoojjrqppkkjjsstiiYYlw0042303gztwnSjqclkvgmlicuoskhcrohhpqQWrkqnvknxaZxljiiljdtigewpmfisgprmhjlirltkmioYXmKboqihnnZhrmVtkLloqXekgddXsqmncmnkTyhpkhiW/pomuetdjRrpooUgvclnnwdtjmfmm7YdiRRgmgX+u/pkajjXoorujqpdXXfhffnpteepdjjhellNallXpnmiYggebbmZeerWWnZZfccdmnntggnnnVTTiZZNYYemmvxhffkJJYllttvzzjhu55xyn222zz+++///yy66r22qqttzyyzz11thhttnqvsrggSSggkjjmmxxhhnllbbookkkkkknZZiikkddoollffqiinnWWvviirrmmqqkkssxxuuoobbppnnollqqfv115201xbupvtaup2pofwirsevdiHshSvehladnioqfXeudmnpnhhoilMicbmtWgXlktnqcxpnirZtZbZnfhsolhkdbjjlrUnmglhdikfuhdOOtqjknUmngg1eijabX/nlgublijWrmQQZftjlhhuhaLmljj+jnnggllkj9t9gtYppgjSnuomhtddhdkksS0iirhnnWessafUUbaddgdiilVVsQoojhhfooKeeZeqqmhhgmmrhhohhbeejnnjkplljllloostt00euy11zzn663ww//////3388y35vvxx0wwwwvvfxwonxyuqqhhjjmmihhnnvvppmeennccvvnnttmPP33xxcchhssWWwllbcuukkhhnnaaddnnedccooppppiiwwnkkrrlz02551zyqxumSMoq1jxnxutspoIqXghboWmWgjhqOplaYnRNlnmhgomseoWimhkjhntndrgtwlammZnOWbRjrlghkfRWWRimkXemmFCpjXqgTTcnqaXepqeB1UmpoZh/RggrihcemLkXXeixnpVVzmcrkknn7nnmUUegab8r/obqqqrithtnWhoOOqeuuemwllodnnebgghprrhcssmpppjddakttdYYHooegggmhhmiinhhdmmmooaggTVVpricdhffcrrttwqqnqyzz1xh885xx9////844//o61ee22uqqzzvvgmmlkkprwwPPbbbbuhhuuiisrekkllYYwwttbbWffrrhhrrvvppophrrabiitsjjyyfeiiccqqmmzzyyqqggccrZZkkwx144410yrysotdlmbZlvormZqrkjmpmmurjlfXgqoxqrhqiijmhrhgefpnjjYqpithmjZrcrvkkfrmqnqktjtogAlXmpphnjdnZkpsipnhmkTTotpifoggnl1dkoKbI/glnxkoWigkhhhqgyoYeetkgeXqgg7kepbbpagn9v/mnjZZSghftnfhlHHrakkequkkihiihqssoioonmkjZljjaggnqiiukkejjgccjlkkgfffmmdcckhhYddQrrYZqsslqqpffvvvxxopz22yzt77500//////7777i47bb000wwuuwwjllrqqsrzzaaaaeegccqqjjeefmlqqllttqqllkPPppRSffccmnffnqrggttyypommhhYYeeffvvssiijjoolljLLoofx044332xjwrnvetqrpvcmuxqvwwskspntXuhsiicloiscpiqjhdlnrLsYihkqqupiDsdhtmvolfskchmjgmquusperYHHowhmLcvisLgpkbpfflmhXrYlhWo0nrobXk/qgXtljkliqSiidlswZcczeqXeodd+bhwXXsqmD9t/ZktrroqkPrdtoraarbXXoQykjmieecjffUqkkYkmmZpbbkooUWttceejiihXXicjjehilnnskkcllkTToffnpohhdoolffyyvttlqw11z0t66611//////xx77g11yyvvzvvsszzl11ONuwnrriiqqjjlsrxxAAlljffooddpphhffcqqttmmUUlljknnvssssvvuukkllkkgfmmnnmmttrrbbeessmssjjkzz355110rvsompnhvprmqdtdoydcewgo0lijibmRhgbmhgXrmnpcbjeWtnpgYueldursjuswnkiumdqiZongumnlghjkkaWktbXxoiYmldqjWWmejcdolfTi0kfbYxh/iZUvogljewciieVripggzrmfiKkk7omeffiZcr+t/mqjkknYpArmenTnncmllqdwXXeuttShkksvSShfqqiLMMjiijkkkfOOdaagEEmljjippannihhdggYaaRffZbqUUolltnnvvttusy2zzwym55511//////1177x49UUxx0uuww00onnkkmqrqqjjjjaaaaatthhrrhVVnnmmvvoollnoommeekkuvhinoottkkffkkllttiiaaeeiiiiuurrllssnnjqqVVU0046542zpupunmpsniqgvpjlmlglgnftjmojljefUlMsMtrtnherjxFkdsfdkulkhqtumiYWusYYkrmbdZeNwknkhgZDDQlnohjnjfqjcdglNNprMgcmgfjfzgpSinG+WggrmokgApckknkuffddsbWgWgee9wbtmmtdek8s/upcddgjsgrkifoqqndnnmfviikhZZacnnfgNNqdmmjkggjlkffaaiffmddVaadellVoocqqkeefmmZggbjjYauiikffnoossuttmdy00yvq884xx/////+33++Z60ttuuw11ttyyh00rrnqvssllbbllkssaahhuuXqqqqjjppwwhhpwwjjvvqqmmUUvvlqqggddrrNNYYccYYoommrrrreeXXqqjjkkkYY";
var pal=[[68, 1, 84], [70, 7, 90], [71, 13, 96], [71, 19, 101], [72, 24, 106], [72, 29, 111], [72, 35, 116], [72, 40, 120], [71, 45, 123], [70, 50, 126], [69, 55, 129], [68, 59, 132], [66, 64, 134], [64, 69, 136], [62, 73, 137], [61, 78, 138], [58, 83, 139], [56, 88, 140], [54, 92, 141], [52, 96, 141], [50, 100, 142], [49, 104, 142], [47, 108, 142], [45, 112, 142], [44, 115, 142], [42, 119, 142], [41, 123, 142], [39, 127, 142], [38, 130, 142], [36, 134, 142], [35, 138, 141], [33, 142, 141], [32, 146, 140], [31, 150, 139], [31, 154, 138], [31, 158, 137], [31, 161, 135], [33, 165, 133], [35, 169, 131], [38, 173, 129], [42, 176, 127], [47, 180, 124], [53, 183, 121], [59, 187, 117], [66, 190, 113], [74, 193, 109], [82, 197, 105], [90, 200, 100], [101, 203, 94], [110, 206, 88], [119, 209, 83], [129, 211, 77], [139, 214, 70], [149, 216, 64], [160, 218, 57], [170, 220, 50], [181, 222, 43], [192, 223, 37], [202, 225, 31], [213, 226, 26], [223, 227, 24], [234, 229, 26], [244, 230, 30], [253, 231, 37]];
var W=397,H=369;
var cv=document.getElementById('cv');var ctx=cv.getContext('2d');
var im=ctx.createImageData(W,H);var d=im.data;
var A="ABCDEFGHIJKLMNOPQRSTUVWXYZabcdefghijklmnopqrstuvwxyz0123456789+/";var map={};for(var i=0;i<64;i++)map[A.charCodeAt(i)]=i;
for(var i=0;i<W*H;i++){var c=pal[map[s.charCodeAt(i)]];var o=i*4;d[o]=c[0];d[o+1]=c[1];d[o+2]=c[2];d[o+3]=255;}
ctx.putImageData(im,0,0);
})();
</script>
</body></html>
